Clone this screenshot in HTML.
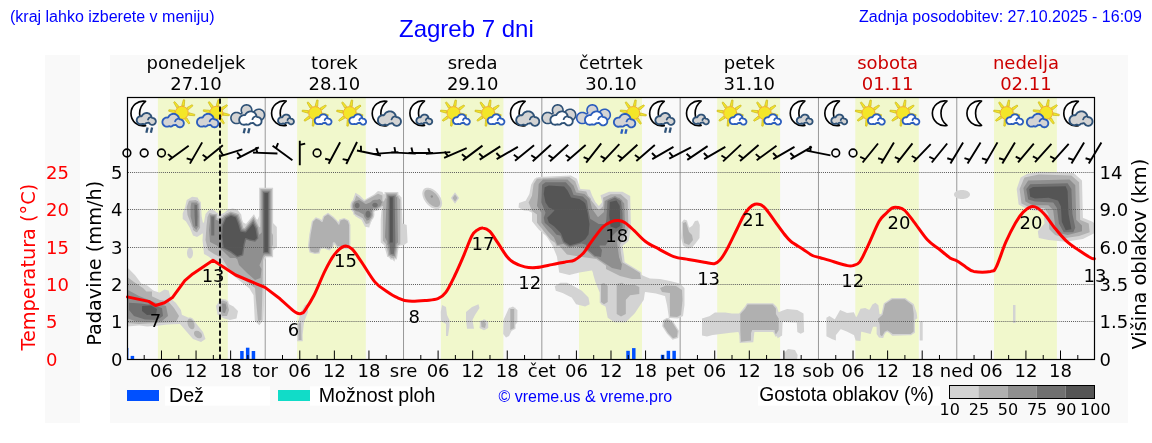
<!DOCTYPE html>
<html><head><meta charset="utf-8"><title>Zagreb 7 dni</title>
<style>
html,body{margin:0;padding:0;background:#fff;}
body{width:1152px;height:443px;overflow:hidden;position:relative;font-family:"Liberation Sans",Arial,sans-serif;}
.hdr{position:absolute;color:#0000ff;white-space:nowrap;margin:0;line-height:1;}
svg{position:absolute;left:0;top:0;will-change:transform;}
.hdr{will-change:transform;}
.dj{font-family:"DejaVu Sans",sans-serif;}
.lib{font-family:"Liberation Sans",Arial,sans-serif;}
</style></head><body>
<svg width="1152" height="443" viewBox="0 0 1152 443">
<rect x="45" y="55" width="35" height="368" fill="#f9f9f9"/>
<rect x="110" y="55" width="1018" height="368" fill="#f9f9f9"/>
<rect x="157.9" y="97.5" width="69.9" height="262.0" fill="#f1f8cc"/>
<rect x="297.1" y="97.5" width="68.7" height="262.0" fill="#f1f8cc"/>
<rect x="440.9" y="97.5" width="62.5" height="262.0" fill="#f1f8cc"/>
<rect x="579.0" y="97.5" width="63.0" height="262.0" fill="#f1f8cc"/>
<rect x="717.2" y="97.5" width="62.9" height="262.0" fill="#f1f8cc"/>
<rect x="855.3" y="97.5" width="63.5" height="262.0" fill="#f1f8cc"/>
<rect x="994.0" y="97.5" width="62.9" height="262.0" fill="#f1f8cc"/>
<line x1="265.21" y1="97.5" x2="265.21" y2="359.5" stroke="#999" stroke-width="1"/>
<line x1="403.52" y1="97.5" x2="403.52" y2="359.5" stroke="#999" stroke-width="1"/>
<line x1="541.84" y1="97.5" x2="541.84" y2="359.5" stroke="#999" stroke-width="1"/>
<line x1="680.15" y1="97.5" x2="680.15" y2="359.5" stroke="#999" stroke-width="1"/>
<line x1="818.46" y1="97.5" x2="818.46" y2="359.5" stroke="#999" stroke-width="1"/>
<line x1="956.77" y1="97.5" x2="956.77" y2="359.5" stroke="#999" stroke-width="1"/>
<path d="M1016.7,189.0 1018.6,204.4 1018.6,204.4 1018.6,204.4 1027.3,209.2 1027.3,209.2 1027.3,209.2 1043.1,212.0 1043.2,212.0 1043.3,212.1 1043.3,212.1 1043.4,212.1 1043.4,212.1 1043.5,212.2 1043.5,212.2 1043.5,212.3 1043.6,212.3 1043.6,212.4 1043.6,212.4 1043.6,212.5 1043.6,212.6 1044.5,223.3 1044.5,223.4 1044.5,223.5 1044.5,223.5 1044.5,223.6 1044.4,223.6 1044.4,223.7 1044.4,223.7 1044.3,223.8 1037.8,231.3 1037.8,231.3 1037.8,231.3 1038.8,238.0 1038.8,238.0 1038.8,238.0 1048.4,239.9 1048.4,239.9 1065.7,241.8 1065.7,241.8 1065.7,241.8 1082.9,238.9 1082.9,238.9 1082.9,238.9 1094.3,233.3 1094.3,233.3 1094.3,233.3 1094.3,223.4 1094.3,223.4 1094.3,223.3 1092.5,221.7 1092.5,221.7 1092.5,221.7 1083.3,217.9 1083.2,217.9 1083.2,217.9 1083.1,217.9 1083.1,217.8 1083.0,217.8 1083.0,217.7 1083.0,217.7 1082.9,217.6 1082.9,217.6 1082.9,217.5 1082.9,217.5 1082.9,217.4 1082.0,180.4 1082.0,180.4 1082.0,180.4 1073.3,172.7 1073.3,172.7 1073.3,172.7 1038.8,171.8 1038.8,171.8 1038.8,171.8 1027.3,173.7 1027.3,173.7 1027.3,173.7 1020.6,177.5 1020.6,177.5 1020.6,177.5 1016.7,189.0 1016.7,189.0ZM1013.0,305.0 1013.0,323.0 1013.0,323.0 1013.0,323.0 1015.5,323.0 1015.5,323.0 1015.5,323.0 1015.5,305.0 1015.5,305.0 1015.5,305.0 1013.0,305.0 1013.0,305.0ZM968.0,191.5 967.7,191.3 967.6,191.3 967.3,191.1 967.3,191.1 966.9,190.9 966.9,190.9 966.5,190.8 966.4,190.8 966.0,190.6 966.0,190.6 965.5,190.5 965.5,190.5 965.1,190.3 965.1,190.3 964.6,190.2 964.6,190.2 964.1,190.2 964.1,190.2 963.6,190.1 963.6,190.1 963.0,190.0 963.0,190.0 962.5,190.0 962.5,190.0 962.0,190.0 962.0,190.0 961.5,190.0 961.5,190.0 961.0,190.0 961.0,190.0 960.4,190.1 960.4,190.1 959.9,190.2 959.9,190.2 959.4,190.2 959.4,190.2 958.9,190.3 958.9,190.3 958.5,190.5 958.5,190.5 958.0,190.6 958.0,190.6 957.6,190.8 957.5,190.8 957.1,190.9 957.1,190.9 956.7,191.1 956.7,191.1 956.4,191.3 956.3,191.3 956.0,191.5 956.0,191.5 955.7,191.8 955.6,191.8 955.4,192.0 955.3,192.0 955.1,192.2 955.1,192.3 954.8,192.5 954.8,192.5 954.6,192.8 954.6,192.8 954.4,193.0 954.4,193.1 954.3,193.3 954.3,193.3 954.2,193.6 954.1,193.6 954.1,193.9 954.1,193.9 954.0,194.2 954.0,194.2 954.0,194.5 954.0,194.5 954.0,194.8 954.0,194.8 954.1,195.1 954.1,195.1 954.1,195.4 954.2,195.4 954.3,195.7 954.3,195.7 954.4,195.9 954.4,196.0 954.6,196.2 954.6,196.2 954.8,196.5 954.8,196.5 955.1,196.7 955.1,196.8 955.3,197.0 955.4,197.0 955.6,197.2 955.7,197.2 956.0,197.5 956.0,197.5 956.3,197.7 956.4,197.7 956.7,197.9 956.7,197.9 957.1,198.1 957.1,198.1 957.5,198.2 957.6,198.2 958.0,198.4 958.0,198.4 958.5,198.5 958.5,198.5 958.9,198.7 958.9,198.7 959.4,198.8 959.4,198.8 959.9,198.8 959.9,198.8 960.4,198.9 960.4,198.9 961.0,199.0 961.0,199.0 961.5,199.0 961.5,199.0 962.0,199.0 962.0,199.0 962.5,199.0 962.5,199.0 963.0,199.0 963.0,199.0 963.6,198.9 963.6,198.9 964.1,198.8 964.1,198.8 964.6,198.8 964.6,198.8 965.1,198.7 965.1,198.7 965.5,198.5 965.5,198.5 966.0,198.4 966.0,198.4 966.4,198.2 966.5,198.2 966.9,198.1 966.9,198.1 967.3,197.9 967.3,197.9 967.6,197.7 967.7,197.7 968.0,197.5 968.0,197.5 968.3,197.2 968.4,197.2 968.6,197.0 968.7,197.0 968.9,196.8 968.9,196.7 969.2,196.5 969.2,196.5 969.4,196.2 969.4,196.2 969.6,196.0 969.6,195.9 969.7,195.7 969.7,195.7 969.8,195.4 969.9,195.4 969.9,195.1 969.9,195.1 970.0,194.8 970.0,194.8 970.0,194.5 970.0,194.5 970.0,194.2 970.0,194.2 969.9,193.9 969.9,193.9 969.9,193.6 969.8,193.6 969.7,193.3 969.7,193.3 969.6,193.1 969.6,193.0 969.4,192.8 969.4,192.8 969.2,192.5 969.2,192.5 968.9,192.3 968.9,192.2 968.7,192.0 968.6,192.0 968.4,191.8 968.3,191.8 968.0,191.5ZM919.7,321.3 919.7,340.4 919.7,340.4 919.7,340.4 922.7,340.4 922.7,340.4 922.7,340.4 922.7,321.3 922.7,321.3 922.7,321.3 919.7,321.3 919.7,321.3ZM826.4,336.2 832.4,339.2 832.4,339.2 835.9,340.4 835.9,340.4 835.9,340.4 835.9,335.3 835.9,335.3 835.9,335.2 835.9,335.1 835.9,335.1 836.0,335.0 836.0,335.0 836.0,334.9 840.4,329.4 840.5,329.4 840.5,329.4 840.6,329.3 840.6,329.3 840.7,329.3 840.7,329.3 840.8,329.2 840.8,329.2 840.9,329.2 840.9,329.2 841.0,329.2 841.1,329.2 841.1,329.3 846.7,331.5 846.7,331.5 853.7,335.0 853.7,335.0 853.8,335.1 853.8,335.1 853.9,335.1 853.9,335.2 853.9,335.2 854.0,335.3 854.0,335.3 855.7,340.4 855.7,340.4 855.7,340.4 860.5,341.0 860.5,341.0 860.5,341.0 861.1,332.2 861.1,332.2 861.1,332.1 861.1,332.1 861.1,332.0 861.1,331.9 861.2,331.9 861.2,331.9 861.3,331.8 861.3,331.8 861.3,331.7 861.4,331.7 861.5,331.7 861.5,331.7 861.6,331.7 861.6,331.7 861.7,331.7 861.7,331.7 861.8,331.7 865.8,332.7 870.6,333.9 870.6,333.9 870.6,333.9 872.9,327.1 872.9,327.1 872.9,327.0 872.9,327.0 873.0,326.9 873.0,326.9 873.1,326.8 873.1,326.8 873.2,326.8 873.2,326.7 873.3,326.7 873.3,326.7 873.4,326.7 873.4,326.7 876.0,326.7 876.1,326.7 876.1,326.7 876.2,326.7 876.2,326.7 876.3,326.8 876.3,326.8 876.4,326.8 876.4,326.9 876.5,326.9 876.5,327.0 876.5,327.0 876.6,327.1 876.6,327.1 876.6,327.2 876.6,327.2 876.6,327.3 876.6,333.9 876.6,333.9 876.6,333.9 879.0,337.5 879.0,337.5 879.0,337.5 882.0,337.9 882.0,337.9 882.1,338.0 882.1,338.0 882.2,338.0 882.2,338.0 882.4,338.1 882.4,338.1 882.4,338.1 882.4,338.1 882.5,338.1 882.6,338.1 882.6,338.0 882.7,338.0 882.7,338.0 882.8,338.0 883.2,338.1 883.2,338.1 883.2,338.1 884.1,335.5 884.1,335.4 884.1,335.3 885.8,332.6 885.9,332.6 885.9,332.6 885.9,332.5 886.0,332.5 886.0,332.5 886.1,332.4 887.0,332.0 887.0,331.9 887.1,331.9 887.2,331.9 887.2,331.9 887.3,331.9 887.3,331.9 887.4,331.9 887.4,331.9 887.5,331.9 887.5,332.0 887.6,332.0 889.1,333.0 889.2,333.0 892.2,335.7 892.2,335.7 892.2,335.7 908.1,335.2 908.1,335.2 911.1,335.2 911.2,335.2 911.2,335.2 911.2,335.2 911.3,335.1 911.3,335.1 911.3,335.1 911.3,335.1 914.9,332.7 914.9,332.7 914.9,332.7 914.9,332.5 914.9,332.5 914.9,332.4 914.9,332.4 914.9,332.3 914.9,332.3 914.9,332.2 915.0,332.2 915.0,332.1 915.0,332.1 915.0,332.1 915.0,320.2 915.0,320.1 915.0,320.0 915.0,320.0 915.0,319.9 915.1,319.9 915.1,319.8 915.1,319.8 915.2,319.7 915.2,319.7 915.3,319.7 917.3,318.3 917.3,318.3 917.3,318.3 916.7,312.9 916.7,312.9 916.7,312.9 913.7,304.0 913.7,304.0 913.7,304.0 907.4,299.7 907.4,299.6 905.2,297.9 905.1,297.9 905.1,297.9 891.8,297.9 891.8,297.9 891.8,297.9 890.0,299.1 889.9,299.2 889.9,299.2 889.8,299.2 889.8,299.2 889.8,299.2 889.7,299.3 889.6,299.3 889.6,299.4 883.9,303.2 883.8,303.2 883.8,303.2 883.5,304.8 883.5,304.8 883.5,304.9 883.4,305.0 883.4,305.0 883.4,305.1 883.3,305.1 883.2,305.2 883.2,305.2 883.2,305.2 883.1,306.5 883.1,306.6 881.6,313.3 881.6,313.4 881.5,313.4 881.5,313.5 881.5,313.5 881.4,313.6 881.4,313.6 881.4,313.6 881.3,313.7 880.4,314.2 880.3,314.3 880.3,314.3 880.2,314.3 880.2,314.3 880.1,314.3 880.0,314.3 880.0,314.3 879.9,314.3 879.9,314.3 879.8,314.3 879.8,314.2 879.7,314.2 879.7,314.2 879.6,314.1 879.6,314.1 879.6,314.0 879.5,314.0 879.5,313.9 879.5,313.8 879.5,313.8 878.4,305.2 878.4,305.2 878.4,305.2 875.4,302.8 875.4,302.8 875.4,302.8 872.4,304.6 872.4,304.6 872.4,304.6 869.7,309.4 869.6,309.5 869.6,309.5 869.6,309.6 869.5,309.6 869.5,309.6 869.4,309.7 869.4,309.7 869.3,309.7 869.2,309.7 869.2,309.7 869.1,309.7 869.1,309.7 869.0,309.7 869.0,309.7 868.9,309.7 865.2,308.1 865.2,308.1 865.2,308.1 860.5,308.7 860.5,308.7 860.5,308.7 856.9,316.5 856.8,316.6 856.8,316.6 856.8,316.7 856.7,316.7 856.7,316.7 856.6,316.8 856.6,316.8 856.5,316.8 856.5,316.8 856.4,316.8 856.3,316.9 856.3,316.9 856.2,316.8 856.2,316.8 856.1,316.8 856.0,316.8 856.0,316.8 855.9,316.7 855.9,316.7 855.9,316.6 855.8,316.6 855.8,316.5 855.8,316.5 853.9,312.3 853.9,312.3 853.9,312.3 846.9,312.9 846.8,312.9 846.7,312.9 846.7,312.9 846.6,312.9 846.6,312.8 840.1,309.9 840.1,309.9 840.1,309.9 835.0,318.9 835.0,319.0 835.0,319.0 834.9,319.1 834.9,319.1 834.8,319.1 834.8,319.2 834.7,319.2 834.7,319.2 834.6,319.2 834.5,319.2 834.5,319.2 834.4,319.2 834.4,319.2 834.3,319.2 834.3,319.2 834.2,319.2 834.2,319.1 829.4,315.9 829.4,315.9 829.4,315.9 826.4,317.7 826.4,317.7 826.4,317.7 826.4,336.2 826.4,336.2ZM702.0,335.5 707.0,336.6 707.0,336.6 707.0,336.6 712.7,334.9 712.7,334.9 712.8,334.9 730.7,332.7 730.7,332.7 738.1,332.1 738.1,332.1 738.2,332.1 738.2,332.2 738.3,332.2 738.4,332.2 738.4,332.2 738.5,332.2 738.5,332.3 738.5,332.3 738.6,332.4 738.6,332.4 738.7,332.5 738.7,332.5 738.7,332.6 738.7,332.6 739.3,335.2 739.3,335.2 739.3,335.3 739.7,343.1 739.7,343.1 739.7,343.1 743.9,342.7 743.9,342.7 753.3,342.3 753.3,342.3 753.3,342.3 754.3,332.6 754.4,332.6 754.4,332.5 754.4,332.5 754.4,332.4 754.4,332.4 754.5,332.3 754.5,332.3 754.6,332.2 754.6,332.2 754.7,332.2 754.7,332.1 754.8,332.1 754.8,332.1 754.9,332.1 754.9,332.1 772.9,332.1 772.9,332.1 773.0,332.1 773.0,332.1 773.1,332.1 773.2,332.2 773.2,332.2 773.3,332.2 773.3,332.3 773.3,332.3 773.4,332.4 773.4,332.4 775.8,337.0 775.8,337.0 775.8,337.0 776.1,336.6 776.1,336.5 776.2,336.5 776.2,336.4 776.2,336.4 776.3,336.4 776.3,336.3 776.4,336.3 776.4,336.3 776.5,336.3 776.6,336.3 776.6,336.3 776.7,336.3 776.7,336.3 776.8,336.3 776.8,336.3 776.9,336.4 776.9,336.4 777.0,336.4 777.0,336.5 777.1,336.5 777.1,336.6 777.1,336.6 777.2,336.7 777.2,336.7 777.6,338.3 777.6,338.3 777.6,338.3 782.1,335.5 782.1,335.5 782.1,335.5 782.6,322.6 782.6,322.5 782.6,322.5 782.6,322.4 782.6,322.4 782.7,322.3 782.7,322.3 782.7,322.2 782.8,322.2 782.8,322.1 782.9,322.1 782.9,322.1 783.0,322.1 783.0,322.0 783.1,322.0 783.1,322.0 783.2,322.0 796.3,322.5 796.3,322.5 796.4,322.5 796.4,322.5 796.5,322.5 796.5,322.6 796.6,322.6 796.6,322.6 796.7,322.7 796.7,322.7 796.7,322.8 796.8,322.8 796.8,322.9 796.8,322.9 796.8,323.0 796.8,323.0 797.3,332.1 797.3,332.1 797.3,332.1 800.7,333.8 800.7,333.8 800.7,333.8 804.1,332.1 804.1,332.1 804.1,332.1 803.5,313.5 803.5,313.5 803.5,313.5 797.3,310.1 797.3,310.1 797.3,310.1 787.2,309.0 787.2,309.0 787.2,309.0 782.1,310.7 782.1,310.7 779.3,312.1 779.3,312.1 779.2,312.1 779.1,312.1 779.1,312.2 779.0,312.2 779.0,312.1 778.9,312.1 778.8,312.1 778.8,312.1 778.7,312.1 778.7,312.0 778.6,312.0 778.6,312.0 778.6,311.9 778.5,311.9 778.5,311.8 778.5,311.7 777.0,307.3 777.0,307.3 777.0,307.3 773.9,304.1 773.8,304.0 773.1,303.2 773.1,303.2 773.1,303.2 747.0,303.2 747.0,303.2 747.0,303.2 745.1,306.3 745.1,306.4 745.0,306.4 744.3,307.3 744.3,307.3 740.4,312.0 740.4,312.0 739.3,313.3 739.2,313.3 739.2,313.4 739.1,313.4 739.1,313.4 739.0,313.5 739.0,313.5 738.9,313.5 738.9,313.5 738.8,313.5 731.9,313.5 731.9,313.5 731.9,313.5 725.1,312.4 725.1,312.4 725.1,312.4 714.9,312.4 714.9,312.4 714.9,312.4 709.4,316.2 709.3,316.3 709.3,316.3 709.2,316.3 702.0,318.6 702.0,318.6 702.0,318.6 702.0,335.5 702.0,335.5ZM784.0,359.0 797.1,359.0 797.1,359.0 797.1,359.0 797.6,355.0 797.6,355.0 797.6,355.0 795.0,350.0 795.0,350.0 795.0,350.0 788.0,349.0 788.0,349.0 788.0,349.0 784.0,353.0 784.0,353.0 784.0,353.0 784.0,359.0 784.0,359.0ZM681.2,238.0 683.0,245.5 683.0,245.5 683.0,245.5 688.0,248.5 688.0,248.5 688.0,248.5 692.0,247.5 692.0,247.5 692.0,247.5 695.5,243.5 695.5,243.5 699.5,238.0 699.5,238.0 699.5,238.0 699.8,225.0 699.8,225.0 699.8,225.0 698.0,220.5 698.0,220.5 698.0,220.5 695.0,221.0 695.0,221.0 695.0,221.0 692.1,225.9 692.0,225.9 692.0,226.0 692.0,226.0 691.9,226.0 691.9,226.1 689.8,227.5 689.8,227.5 689.7,227.5 689.6,227.5 689.6,227.6 689.5,227.6 689.5,227.6 689.4,227.6 689.4,227.6 689.3,227.5 689.2,227.5 689.2,227.5 689.1,227.5 689.1,227.4 689.0,227.4 689.0,227.3 689.0,227.3 688.9,227.2 688.9,227.2 688.9,227.1 687.7,223.3 687.7,223.3 687.0,220.5 687.0,220.5 687.0,220.5 687.0,220.5 686.9,220.4 686.9,220.4 686.9,220.3 686.9,220.3 686.9,220.3 686.8,220.4 686.7,220.4 686.7,220.4 686.6,220.4 686.6,220.4 686.5,220.3 684.0,219.5 684.0,219.5 684.0,219.5 682.2,221.8 682.1,221.9 682.1,221.9 682.0,221.9 682.0,222.0 681.9,222.0 681.9,222.0 681.7,222.1 681.7,222.1 681.7,222.1 681.7,228.0 681.7,228.0 681.2,238.0 681.2,238.0ZM518.5,207.5 520.0,208.3 520.0,208.3 520.1,208.4 520.1,208.4 520.1,208.4 520.1,208.4 520.1,208.4 520.2,208.4 520.2,208.4 520.3,208.5 524.0,210.5 524.0,210.5 524.0,210.5 528.0,210.7 528.1,210.7 528.1,210.7 528.2,210.8 528.2,210.8 531.7,212.5 531.7,212.6 531.8,212.6 531.8,212.6 531.9,212.7 531.9,212.7 531.9,212.8 532.0,212.8 532.0,212.9 532.0,212.9 532.0,213.0 532.0,213.1 532.0,221.2 532.0,221.2 532.0,221.2 538.7,229.6 538.7,229.6 538.7,229.6 546.1,236.1 546.1,236.2 546.2,236.2 546.9,237.1 546.9,237.1 552.4,245.5 552.4,245.5 552.4,245.6 557.0,256.7 557.0,256.8 557.0,256.8 557.0,256.9 559.2,272.6 559.2,272.6 559.2,272.6 569.3,274.9 569.3,274.9 569.3,274.9 579.5,272.6 579.5,272.6 591.5,270.5 591.6,270.5 591.6,270.5 591.7,270.5 591.8,270.5 591.8,270.5 591.9,270.5 591.9,270.6 592.0,270.6 592.0,270.6 592.1,270.7 592.1,270.7 592.1,270.8 592.2,270.8 592.2,270.9 593.1,273.2 593.1,273.3 593.1,273.3 593.1,273.4 593.1,273.4 593.1,273.5 593.1,273.5 593.1,273.6 593.1,273.7 593.1,273.7 593.0,273.8 593.0,273.8 593.0,273.8 593.0,273.8 595.3,281.7 595.3,281.7 599.7,292.6 599.7,292.7 599.7,292.8 599.7,292.8 599.7,292.9 599.7,302.6 599.7,302.7 599.7,302.7 600.7,303.4 600.8,303.4 600.8,303.5 600.8,303.5 600.9,303.6 600.9,303.6 600.9,303.7 601.0,303.8 601.0,303.8 601.0,304.2 601.0,304.2 601.0,304.2 603.6,305.5 603.6,305.6 603.7,305.6 603.9,305.7 603.9,305.8 603.9,305.8 604.0,305.8 604.0,305.8 604.1,305.8 604.1,305.8 604.2,305.8 605.2,306.4 605.3,306.4 605.3,306.4 605.4,306.5 605.4,306.5 605.5,306.6 605.5,306.6 605.5,306.7 605.5,306.7 605.6,306.8 607.7,317.8 607.7,317.8 607.7,317.8 614.5,322.3 614.5,322.3 614.5,322.3 625.8,322.3 625.8,322.3 625.8,322.3 634.8,313.3 634.8,313.3 634.8,313.3 643.8,299.7 643.8,299.7 643.8,299.7 644.9,292.6 644.9,292.5 644.9,292.5 645.0,292.4 645.0,292.4 645.0,292.3 645.1,292.3 645.1,292.2 645.1,292.2 645.2,292.2 645.2,292.1 645.3,292.1 645.4,292.1 645.4,292.1 645.5,292.1 645.5,292.1 645.6,292.1 656.0,293.5 656.0,293.5 664.7,295.9 664.7,295.9 664.8,295.9 664.8,296.0 664.9,296.0 664.9,296.0 664.9,296.1 665.0,296.1 665.0,296.2 665.0,296.2 665.1,296.3 665.1,296.4 667.0,305.0 667.0,305.0 668.7,316.0 668.7,316.1 668.7,317.6 668.7,317.7 668.7,317.8 668.7,317.8 668.7,317.9 668.6,317.9 668.6,318.0 668.6,318.0 668.5,318.1 668.5,318.1 668.4,318.1 668.4,318.2 668.3,318.2 668.3,318.2 668.2,318.2 668.2,318.2 668.1,318.2 668.0,318.2 668.0,318.2 667.9,318.2 667.9,318.2 667.8,318.2 667.0,317.7 667.0,317.7 667.0,317.7 662.8,320.2 662.8,320.2 662.8,320.2 662.2,326.3 662.2,326.3 662.2,326.3 667.0,333.8 667.0,333.8 667.0,333.8 672.6,339.7 672.6,339.7 672.6,339.7 678.2,338.0 678.2,338.0 678.2,338.0 679.0,330.7 679.0,330.7 679.0,330.7 672.9,321.0 672.9,321.0 672.9,321.0 669.6,319.2 669.6,319.1 669.5,319.1 669.5,319.1 669.4,319.0 669.4,319.0 669.4,318.9 669.3,318.9 669.3,318.8 669.3,318.7 669.3,318.7 669.3,318.6 669.3,318.6 669.3,318.5 669.3,318.5 669.4,318.4 669.4,318.3 669.4,318.3 669.5,318.3 669.5,318.2 669.6,318.2 669.6,318.1 669.7,318.1 669.7,318.1 669.8,318.1 669.8,318.1 669.9,318.1 669.9,318.1 678.0,318.5 678.0,318.5 678.0,318.5 683.0,316.0 683.0,316.0 683.0,316.0 684.5,305.0 684.5,305.0 684.5,288.0 684.5,288.0 684.5,288.0 680.0,283.5 680.0,283.5 680.0,283.5 670.0,281.0 670.0,281.0 660.0,279.0 660.0,279.0 660.0,279.0 650.1,278.5 650.0,278.5 650.0,278.5 649.9,278.5 643.8,276.0 643.8,276.0 641.9,275.1 641.9,275.0 641.8,275.0 641.8,275.0 641.7,274.9 641.7,274.9 641.7,274.8 641.6,274.8 641.6,274.7 641.6,274.7 641.6,274.6 641.2,272.2 641.2,272.2 641.2,272.2 632.7,266.9 632.7,266.9 624.9,262.2 624.9,262.2 624.8,262.2 624.8,262.1 624.8,262.1 624.7,262.0 624.7,262.0 624.7,261.9 624.7,261.9 624.6,261.8 624.0,256.0 624.0,256.0 622.5,246.3 622.5,246.3 622.5,246.2 622.6,246.1 622.6,246.1 622.6,246.0 622.6,246.0 622.6,245.9 622.7,245.9 622.7,245.8 622.8,245.8 628.5,240.9 628.5,240.9 628.5,240.9 631.0,229.1 631.0,229.1 631.0,229.1 630.2,196.0 630.2,196.0 630.2,196.0 622.5,191.8 622.5,191.8 622.5,191.8 609.0,191.8 609.0,191.8 609.0,191.8 600.5,195.2 600.5,195.2 600.5,195.2 602.0,201.4 602.1,201.4 602.1,201.5 602.1,201.6 602.0,202.0 602.0,202.1 602.0,202.2 602.0,202.2 602.0,202.3 601.9,202.3 601.9,202.4 599.3,205.6 599.2,205.7 599.2,205.7 599.1,205.7 599.1,205.8 599.0,205.8 599.0,205.8 598.9,205.8 598.9,205.8 598.8,205.8 598.7,205.8 598.7,205.8 598.6,205.8 598.6,205.8 598.5,205.8 598.5,205.7 598.4,205.7 598.4,205.7 598.3,205.6 595.4,202.1 595.4,202.0 595.4,201.9 592.0,195.2 592.0,195.2 590.0,189.8 590.0,189.8 590.0,189.8 580.7,189.0 580.6,189.0 580.6,189.0 580.5,189.0 580.5,189.0 580.4,188.9 580.4,188.9 580.3,188.9 580.3,188.8 580.3,188.8 580.2,188.7 580.2,188.7 580.2,188.6 576.9,178.8 576.9,178.8 576.9,178.8 570.9,175.4 570.9,175.4 570.9,175.4 538.7,177.1 538.7,177.1 538.7,177.1 537.9,177.4 537.9,177.4 537.8,177.5 537.7,177.5 536.3,177.5 536.3,177.5 536.3,177.5 535.9,178.1 535.9,178.2 535.8,178.2 535.8,178.3 535.7,178.3 535.7,178.3 535.6,178.3 534.5,178.8 534.5,178.8 534.5,178.8 531.1,184.7 531.1,184.7 531.1,184.7 529.4,193.9 529.4,194.0 529.4,194.0 529.4,194.1 525.8,200.6 525.8,200.6 525.8,200.6 525.7,200.7 525.7,200.7 525.6,200.8 525.6,200.8 525.5,200.8 525.5,200.8 519.0,203.0 519.0,203.0 519.0,203.0 518.5,207.5 518.5,207.5ZM554.7,286.2 555.8,290.7 555.8,290.7 555.8,290.7 562.6,293.0 562.6,293.0 571.5,297.4 571.5,297.5 571.6,297.5 571.6,297.5 571.7,297.6 571.7,297.6 576.1,304.2 576.1,304.2 576.1,304.2 585.1,306.5 585.1,306.5 585.1,306.5 589.7,304.2 589.7,304.2 589.7,304.2 588.5,297.5 588.5,297.5 588.5,297.5 581.8,290.7 581.8,290.7 581.8,290.7 573.9,286.2 573.9,286.2 567.1,282.8 567.1,282.8 567.1,282.8 560.3,282.8 560.3,282.8 560.3,282.8 554.7,286.2 554.7,286.2ZM503.2,334.0 506.0,337.4 506.0,337.4 506.0,337.4 509.0,336.0 509.0,336.0 509.0,336.0 511.5,331.0 511.5,330.9 511.6,330.9 511.6,330.8 511.7,330.8 511.7,330.7 511.8,330.7 515.5,328.8 515.5,328.8 515.5,328.8 515.5,325.0 515.5,324.9 515.5,324.9 515.5,324.8 515.5,324.8 515.6,324.7 515.6,324.7 517.4,322.0 517.4,322.0 517.4,322.0 517.4,310.0 517.4,310.0 517.4,310.0 515.7,308.7 515.7,308.7 515.6,308.6 515.6,308.6 515.6,308.5 515.5,308.5 515.5,308.4 515.5,308.4 515.5,308.3 515.5,308.2 515.5,307.7 515.5,307.7 515.5,307.7 514.6,307.7 514.6,307.7 514.5,307.7 514.5,307.7 514.4,307.7 514.4,307.6 514.3,307.6 514.3,307.6 513.0,306.6 513.0,306.6 513.0,306.6 510.0,307.7 509.9,307.7 509.8,307.7 509.8,307.7 509.0,307.7 509.0,307.7 509.0,307.7 509.0,307.9 509.0,307.9 509.0,308.0 509.0,308.1 508.9,308.1 503.5,320.0 503.5,320.0 503.5,320.0 503.2,334.0 503.2,334.0ZM479.5,328.0 484.0,330.3 484.0,330.3 484.0,330.3 485.3,329.6 485.3,329.6 485.4,329.6 485.4,329.5 485.5,329.5 485.5,329.5 485.6,329.5 485.7,329.5 485.7,329.6 485.9,329.6 485.9,329.6 485.9,329.6 486.0,329.4 486.0,329.4 486.0,329.3 486.1,329.3 486.1,329.2 486.1,329.2 486.2,329.1 486.2,329.1 486.3,329.1 488.2,328.0 488.2,328.0 488.2,328.0 488.2,322.0 488.2,322.0 488.2,322.0 485.7,320.3 485.7,320.3 485.6,320.3 485.6,320.2 485.5,320.2 485.5,320.1 485.2,319.5 485.2,319.5 485.2,319.5 484.9,319.5 484.8,319.6 484.8,319.6 484.7,319.6 484.7,319.6 484.6,319.5 484.5,319.5 484.5,319.5 484.4,319.5 484.4,319.5 484.0,319.2 484.0,319.2 484.0,319.2 482.7,320.1 482.6,320.2 482.5,320.2 482.5,320.2 479.6,321.0 479.6,321.0 479.6,321.1 479.9,323.6 479.9,323.7 479.9,323.7 479.5,328.0 479.5,328.0ZM466.0,312.0 466.0,320.0 466.0,320.0 467.0,328.7 467.0,328.7 467.0,328.7 474.0,328.7 474.0,328.7 474.0,328.7 472.5,320.2 472.5,320.1 472.5,320.1 472.5,320.0 472.5,319.9 472.6,319.9 472.6,319.8 475.0,315.0 475.0,315.0 479.5,308.0 479.5,308.0 479.5,308.0 478.5,304.2 478.5,304.2 478.5,304.2 472.0,307.0 472.0,307.0 472.0,307.0 466.0,312.0 466.0,312.0ZM450.9,198.0 455.0,203.7 455.0,203.7 455.0,203.7 459.1,198.0 459.1,198.0 459.1,198.0 455.0,192.3 455.0,192.3 455.0,192.3 450.9,198.0 450.9,198.0ZM440.8,312.0 440.8,312.0 441.0,321.0 441.0,321.0 441.0,321.0 445.7,323.8 445.8,323.9 445.8,323.9 445.9,323.9 445.9,324.0 445.9,324.0 445.9,324.1 446.0,324.2 446.0,324.2 446.0,324.3 446.0,324.3 446.0,336.0 446.0,336.0 446.0,336.0 448.0,336.0 448.0,336.0 448.0,336.0 449.5,326.0 449.5,326.0 449.5,326.0 449.5,320.0 449.5,320.0 449.5,320.0 447.0,315.1 447.0,315.0 447.0,315.0 447.0,314.9 446.0,307.0 446.0,307.0 446.0,307.0 442.0,305.0 442.0,305.0 442.0,305.0 440.8,312.0ZM442.1,203.1 442.0,202.4 442.0,202.4 441.9,201.8 441.9,201.8 441.8,201.1 441.8,201.1 441.7,200.4 441.6,200.4 441.4,199.7 441.4,199.7 441.2,199.0 441.2,199.0 440.9,198.3 440.9,198.3 440.6,197.6 440.6,197.6 440.2,196.9 440.2,196.9 439.8,196.2 439.8,196.2 439.4,195.5 439.4,195.5 438.9,194.9 438.9,194.9 438.5,194.2 438.5,194.2 437.9,193.6 437.9,193.6 437.4,193.0 437.4,193.0 436.9,192.4 436.8,192.4 436.3,191.8 436.3,191.8 435.7,191.3 435.7,191.3 435.1,190.8 435.1,190.8 434.4,190.3 434.4,190.3 433.8,189.8 433.8,189.8 433.2,189.4 433.2,189.4 432.5,189.1 432.5,189.1 431.9,188.7 431.9,188.7 431.2,188.5 431.2,188.5 430.6,188.2 430.6,188.2 430.0,188.0 429.9,188.0 429.3,187.9 429.3,187.9 428.7,187.8 428.7,187.8 428.1,187.7 428.1,187.7 427.5,187.7 427.5,187.7 427.0,187.7 427.0,187.7 426.5,187.8 426.4,187.8 425.9,187.9 425.9,187.9 425.5,188.1 425.4,188.1 425.0,188.3 425.0,188.3 424.6,188.5 424.5,188.5 424.2,188.8 424.2,188.8 423.8,189.1 423.8,189.2 423.5,189.5 423.5,189.5 423.2,189.9 423.2,190.0 423.0,190.4 422.9,190.4 422.8,190.9 422.7,190.9 422.6,191.4 422.6,191.4 422.5,191.9 422.5,192.0 422.4,192.5 422.4,192.5 422.3,193.1 422.3,193.1 422.3,193.7 422.3,193.7 422.4,194.4 422.4,194.4 422.5,195.0 422.5,195.0 422.6,195.7 422.6,195.7 422.7,196.4 422.8,196.4 423.0,197.1 423.0,197.1 423.2,197.8 423.2,197.8 423.5,198.5 423.5,198.5 423.8,199.2 423.8,199.2 424.2,199.9 424.2,199.9 424.6,200.6 424.6,200.6 425.0,201.3 425.0,201.3 425.5,201.9 425.5,201.9 425.9,202.6 425.9,202.6 426.5,203.2 426.5,203.2 427.0,203.8 427.0,203.8 427.5,204.4 427.6,204.4 428.1,205.0 428.1,205.0 428.7,205.5 428.7,205.5 429.3,206.0 429.3,206.0 430.0,206.5 430.0,206.5 430.6,207.0 430.6,207.0 431.2,207.4 431.2,207.4 431.9,207.7 431.9,207.7 432.5,208.1 432.5,208.1 433.2,208.3 433.2,208.3 433.8,208.6 433.8,208.6 434.4,208.8 434.5,208.8 435.1,208.9 435.1,208.9 435.7,209.0 435.7,209.0 436.3,209.1 436.3,209.1 436.9,209.1 436.9,209.1 437.4,209.1 437.4,209.1 437.9,209.0 438.0,209.0 438.5,208.9 438.5,208.9 438.9,208.7 439.0,208.7 439.4,208.5 439.4,208.5 439.8,208.3 439.9,208.3 440.2,208.0 440.2,208.0 440.6,207.7 440.6,207.6 440.9,207.3 440.9,207.3 441.2,206.9 441.2,206.8 441.4,206.4 441.5,206.4 441.6,205.9 441.7,205.9 441.8,205.4 441.8,205.4 441.9,204.9 441.9,204.8 442.0,204.3 442.0,204.3 442.1,203.7 442.1,203.7 442.1,203.1ZM353.4,214.5 354.8,215.3 354.8,215.3 354.9,215.4 354.9,215.4 355.0,215.4 355.0,215.5 355.0,215.6 355.4,216.3 355.4,216.3 355.4,216.3 361.3,219.7 361.4,219.7 361.4,219.8 361.5,219.8 361.5,219.9 361.6,219.9 361.6,220.0 365.0,226.7 365.0,226.7 365.0,226.7 369.3,227.6 369.3,227.6 369.3,227.6 369.9,224.8 370.0,224.8 370.0,224.7 370.0,224.7 370.0,224.6 370.1,224.6 370.1,224.5 370.2,224.5 370.2,224.5 370.3,224.4 370.3,224.4 370.4,224.4 370.4,224.4 370.4,224.4 370.9,222.3 370.9,222.2 370.9,222.2 371.0,222.1 371.0,222.1 371.0,222.0 371.1,222.0 371.1,221.9 371.2,221.9 371.2,221.9 371.3,221.9 371.4,221.8 371.4,221.8 371.4,221.8 371.9,220.2 371.9,220.2 371.9,220.1 372.0,220.1 372.0,220.0 372.1,220.0 372.1,220.0 372.4,219.6 372.4,219.6 372.7,219.3 372.7,219.3 372.9,219.0 372.9,218.9 373.2,218.6 373.2,218.6 373.4,218.2 373.4,218.2 373.6,217.8 373.6,217.8 373.8,217.4 373.8,217.4 373.9,217.1 373.9,217.0 374.0,216.7 374.1,216.6 374.2,216.3 374.2,216.2 374.2,215.8 374.2,215.8 374.3,215.4 374.3,215.4 374.4,215.0 374.4,215.0 374.4,214.6 374.4,214.6 374.4,214.2 374.4,214.2 374.4,213.8 374.4,213.8 374.4,213.4 374.4,213.4 374.3,213.0 374.3,213.0 374.3,212.7 374.3,212.7 374.3,212.6 374.3,212.6 374.3,212.5 374.3,212.5 374.6,211.5 374.6,211.5 374.6,211.4 374.7,211.4 374.7,211.3 374.7,211.3 374.8,211.2 374.8,211.2 374.9,211.2 374.9,211.1 375.0,211.1 375.0,211.1 375.1,211.1 375.1,211.1 375.4,211.1 375.4,211.1 375.8,211.1 375.8,211.1 376.1,211.0 376.2,211.0 376.5,210.9 376.5,210.9 376.9,210.8 376.9,210.8 377.3,210.7 377.3,210.7 377.6,210.6 377.7,210.6 378.0,210.4 378.0,210.4 378.4,210.3 378.4,210.3 378.7,210.1 378.7,210.0 379.0,209.8 379.1,209.8 379.4,209.6 379.4,209.6 379.7,209.3 379.7,209.3 379.8,209.2 379.8,209.2 379.9,209.2 379.9,209.1 380.0,209.1 380.1,209.0 380.2,209.0 380.6,208.8 380.6,208.8 380.6,208.8 380.6,208.8 380.7,208.8 380.8,208.7 380.8,208.7 380.9,208.7 380.9,208.7 381.0,208.7 381.0,208.7 381.1,208.8 381.2,208.8 381.2,208.8 381.3,208.8 381.3,208.9 381.3,208.9 381.4,209.0 381.4,209.0 381.4,209.1 381.5,209.1 381.5,209.2 381.5,209.2 381.5,209.3 381.5,209.4 380.7,219.8 380.7,219.8 380.7,242.4 380.7,242.4 380.7,242.4 383.9,244.9 384.0,244.9 384.0,245.0 384.1,245.0 384.1,245.0 384.1,245.1 384.1,245.1 384.2,245.2 384.7,247.1 384.7,247.2 384.7,247.2 384.7,247.3 384.7,247.6 384.7,247.6 384.7,247.6 384.7,247.6 384.8,247.7 384.8,247.7 384.8,247.8 384.9,247.8 384.9,247.9 386.7,254.6 386.7,254.6 386.7,254.6 386.7,254.6 386.8,254.7 386.8,254.8 386.8,254.8 386.8,254.9 387.0,256.7 387.0,256.7 387.0,256.7 388.8,257.2 388.9,257.3 388.9,257.3 389.0,257.3 389.0,257.3 389.1,257.4 389.1,257.4 389.2,257.6 389.2,257.6 390.5,259.5 390.5,259.5 390.5,259.5 390.6,259.5 390.7,259.5 390.7,259.5 390.8,259.5 390.8,259.5 390.9,259.6 390.9,259.6 391.0,259.6 391.0,259.7 391.1,259.8 391.1,259.8 391.1,259.8 391.8,259.5 391.9,259.5 391.9,259.5 392.0,259.5 392.0,259.5 392.1,259.5 392.1,259.5 392.2,259.5 392.3,259.5 392.3,259.5 392.4,259.6 392.4,259.6 392.5,259.6 394.5,261.7 394.5,261.7 394.5,261.7 394.9,259.7 394.9,259.6 394.9,259.6 394.9,259.5 394.9,259.5 395.0,259.4 395.0,259.4 395.1,259.3 395.1,259.3 395.2,259.3 395.2,259.2 395.3,259.2 395.3,259.2 395.4,259.2 395.4,259.2 395.5,259.2 395.6,259.2 395.6,259.2 396.9,259.6 396.9,259.6 396.9,259.6 398.7,246.7 398.8,246.6 398.8,246.6 398.8,246.5 398.8,246.5 398.8,246.4 398.9,246.4 398.9,246.3 399.0,246.3 399.0,246.3 399.1,246.2 400.4,245.5 400.4,245.5 400.5,245.5 400.5,245.5 400.6,245.5 404.1,245.0 404.1,245.0 404.1,245.0 407.6,242.4 407.6,242.4 407.6,242.4 406.7,225.0 406.7,225.0 406.7,225.0 402.8,223.4 402.7,223.4 402.7,223.4 402.6,223.4 402.6,223.3 402.5,223.3 402.5,223.2 402.5,223.2 402.4,223.1 402.4,223.1 402.4,223.0 402.4,223.0 402.4,222.9 401.6,200.1 401.6,200.1 401.6,199.4 401.6,199.4 401.6,199.4 401.6,199.3 401.6,199.3 401.6,199.2 401.5,197.2 401.5,197.2 401.5,197.2 400.0,196.0 399.9,195.9 399.9,195.9 399.9,195.8 399.8,195.8 399.8,195.7 399.8,195.7 399.8,195.6 399.8,195.6 399.8,195.5 399.8,195.3 399.8,195.2 399.8,195.2 398.9,195.0 398.8,195.0 398.8,194.9 398.7,194.9 398.7,194.9 398.6,194.8 398.6,194.8 398.6,194.8 398.5,194.7 398.5,194.7 398.5,194.6 398.5,194.5 398.5,194.5 398.5,194.4 398.4,192.4 398.4,192.4 398.4,192.4 398.4,192.4 398.3,192.4 398.3,192.3 398.2,192.3 398.2,192.3 398.1,192.2 398.1,192.2 398.1,192.1 398.0,192.1 398.0,192.0 398.0,192.0 398.0,192.0 384.7,192.0 384.7,192.0 384.7,192.0 384.7,192.1 384.7,192.1 384.7,192.2 384.6,192.2 384.6,192.3 384.6,192.3 384.5,192.4 384.5,192.4 384.5,192.4 384.6,193.8 384.6,193.8 384.5,193.9 384.5,193.9 384.5,194.0 384.5,194.0 384.5,194.1 384.4,194.1 384.4,194.2 384.3,194.2 384.3,194.3 384.2,194.3 384.2,194.3 384.1,194.3 384.1,194.4 384.0,194.4 383.9,194.4 383.9,194.4 383.8,194.4 383.8,194.3 383.7,194.3 383.7,194.3 383.6,194.3 383.6,194.2 383.5,194.2 383.5,194.1 383.4,194.1 383.4,194.0 382.4,192.0 382.4,192.0 382.4,192.0 378.0,191.1 378.0,191.1 378.0,191.1 374.6,194.1 374.6,194.1 374.5,194.2 365.2,199.4 365.2,199.4 365.2,199.4 364.5,199.7 364.4,199.7 364.4,199.7 364.3,199.7 364.2,199.7 364.2,199.7 364.1,199.7 364.1,199.7 364.0,199.7 364.0,199.6 363.9,199.6 363.9,199.6 363.8,199.5 359.8,195.4 359.8,195.4 359.8,195.4 355.4,192.8 355.4,192.8 355.4,192.8 352.9,199.9 352.8,200.0 352.8,200.1 352.8,200.1 352.7,200.2 352.5,200.4 352.5,200.4 352.2,200.7 352.2,200.8 351.9,201.2 351.9,201.2 351.6,201.6 351.6,201.6 351.4,202.0 351.4,202.0 351.1,202.5 351.1,202.5 350.9,203.0 350.9,203.0 350.8,203.5 350.8,203.5 350.6,204.0 350.6,204.0 350.5,204.5 350.5,204.5 350.5,205.0 350.5,205.0 350.4,205.5 350.4,205.5 350.4,206.0 350.4,206.0 350.4,206.5 350.4,206.5 350.5,207.0 350.5,207.0 350.5,207.5 350.5,207.5 350.6,208.0 350.6,208.0 350.8,208.5 350.8,208.5 350.9,209.0 350.9,209.0 351.1,209.5 351.1,209.5 351.4,210.0 351.4,210.0 351.6,210.4 351.6,210.4 351.9,210.8 351.9,210.8 352.2,211.2 352.2,211.3 352.5,211.6 352.5,211.6 352.9,212.0 352.9,212.0 352.9,212.0 353.0,212.1 353.0,212.1 353.0,212.2 353.1,212.2 353.1,212.3 353.1,212.3 353.1,212.4 353.4,214.5 353.4,214.5ZM308.0,246.1 309.5,252.6 309.5,252.6 309.5,252.6 314.8,254.1 314.8,254.1 314.8,254.1 319.6,253.4 319.6,253.4 319.6,253.3 320.8,249.4 320.8,249.4 320.8,249.3 320.9,249.2 320.9,249.2 321.0,249.2 321.0,249.1 321.1,249.1 321.1,249.0 321.2,249.0 321.2,249.0 321.3,249.0 323.9,248.6 324.0,248.6 324.0,248.6 324.1,248.6 324.2,248.6 324.2,248.6 329.4,250.6 329.4,250.6 329.4,250.6 333.5,247.3 333.5,247.3 333.5,247.3 333.8,245.1 333.8,245.0 333.9,244.9 333.9,244.9 333.9,244.8 333.9,244.8 334.0,244.7 334.0,244.7 334.1,244.7 334.1,244.6 334.2,244.6 334.2,244.6 334.3,244.6 334.3,244.5 334.4,244.5 334.4,244.5 334.5,244.5 334.5,244.5 334.6,244.6 334.7,244.6 334.7,244.6 334.8,244.6 334.8,244.7 334.8,244.7 334.9,244.8 334.9,244.8 336.5,247.2 336.5,247.2 336.5,247.2 343.3,248.5 347.6,249.3 347.6,249.3 347.6,249.3 350.4,246.5 350.4,246.5 350.4,246.5 350.4,224.7 350.4,224.7 350.4,224.7 348.9,220.2 348.9,220.2 348.8,220.2 344.2,217.9 344.2,217.9 344.2,217.9 339.3,219.5 339.3,219.5 339.3,219.5 338.9,221.2 338.9,221.3 338.8,221.3 338.8,221.4 338.8,221.4 338.7,221.5 338.7,221.5 338.6,221.5 338.6,221.6 338.5,221.6 338.5,221.6 338.4,221.6 338.4,221.6 338.3,221.7 338.3,221.7 338.2,221.6 338.1,221.6 338.1,221.6 338.0,221.6 338.0,221.6 337.9,221.5 337.9,221.5 337.8,221.4 337.8,221.4 337.0,220.3 337.0,220.3 337.0,220.3 333.2,216.4 333.1,216.4 333.1,216.4 328.0,212.7 328.0,212.7 328.0,212.7 323.1,216.0 323.1,216.0 323.1,216.0 322.0,219.4 322.0,219.4 322.0,219.5 321.9,219.5 321.9,219.6 321.9,219.6 321.8,219.7 321.8,219.7 321.7,219.7 321.7,219.7 321.6,219.8 321.6,219.8 321.5,219.8 321.4,219.8 321.4,219.8 321.3,219.8 321.3,219.8 321.2,219.7 321.2,219.7 321.1,219.7 321.1,219.7 320.0,218.8 320.0,218.8 319.9,218.8 315.8,217.2 315.8,217.2 315.8,217.2 311.8,221.2 311.8,221.2 311.8,221.2 309.3,234.6 309.3,234.6 308.0,246.1 308.0,246.1ZM297.2,341.3 302.8,341.3 302.8,341.3 302.8,341.3 302.6,334.5 302.7,334.5 304.0,322.1 304.0,322.0 304.0,322.0 304.0,321.9 308.0,312.0 308.0,312.0 308.0,312.0 308.0,304.0 308.0,304.0 308.0,304.0 305.0,305.0 305.0,305.0 305.0,305.0 301.0,312.0 301.0,312.0 301.0,312.0 298.0,322.0 298.0,322.0 298.0,322.0 298.0,322.4 298.0,322.5 298.0,322.5 298.0,322.6 298.0,322.6 298.0,322.7 297.9,322.7 297.9,322.8 297.9,322.8 297.8,322.9 297.8,322.9 297.2,323.4 297.2,323.4 297.2,323.4 297.2,341.3 297.2,341.3ZM182.7,213.4 182.7,219.0 182.7,219.0 182.7,219.0 185.8,221.2 185.8,221.3 185.9,221.3 185.9,221.4 186.0,221.4 189.8,227.7 189.8,227.7 189.8,227.7 193.0,235.6 193.0,235.6 193.0,235.6 197.0,237.1 197.0,237.1 197.0,237.1 201.7,234.0 201.7,234.0 201.7,234.0 201.7,234.0 201.7,233.9 201.7,233.9 201.8,233.8 201.8,233.8 201.8,233.7 201.9,233.7 201.9,233.6 201.9,233.6 202.0,233.6 202.0,233.5 202.1,233.5 202.2,233.5 202.2,233.5 202.3,233.5 202.3,233.5 202.4,233.5 202.4,233.5 202.5,233.5 202.6,233.6 202.6,233.6 202.7,233.6 202.7,233.7 202.7,233.7 202.8,233.7 202.8,233.8 202.8,233.8 202.9,233.9 202.9,234.0 202.9,234.0 202.9,234.1 202.9,234.1 202.5,240.0 202.5,240.0 202.5,240.0 204.0,254.0 204.0,254.0 204.0,254.0 208.5,256.4 208.5,256.4 208.5,256.4 213.0,260.0 213.0,260.0 213.0,260.0 221.8,262.9 221.9,263.0 221.9,263.0 222.0,263.0 222.0,263.1 222.1,263.1 222.1,263.1 229.0,272.0 229.0,272.0 229.0,272.0 240.0,281.0 240.0,281.0 248.9,287.9 249.0,288.0 249.0,288.0 249.1,288.1 253.4,294.9 253.4,294.9 253.5,295.0 253.5,295.0 253.5,295.1 253.5,295.2 254.8,320.8 254.8,320.8 254.8,320.8 259.3,325.3 259.3,325.3 259.3,325.3 262.6,321.1 262.6,321.1 262.7,321.1 262.7,321.0 262.8,321.0 262.8,321.0 262.8,321.0 262.8,320.9 262.8,320.9 262.8,320.8 262.9,320.8 263.5,320.0 263.5,320.0 263.5,320.0 264.5,290.0 264.5,290.0 264.1,269.0 264.1,268.9 264.2,268.5 264.2,268.5 264.2,268.4 264.2,268.4 264.1,268.3 264.1,268.3 264.1,268.2 264.2,261.7 264.2,261.6 264.3,261.5 264.3,261.5 264.3,261.4 264.3,261.4 266.2,257.5 266.3,257.5 266.3,257.4 266.3,257.4 266.4,257.3 266.4,257.3 266.5,257.3 266.5,257.2 266.6,257.2 266.7,257.2 266.7,257.2 266.8,257.2 273.1,257.2 273.1,257.2 273.1,257.2 273.1,250.5 273.1,250.5 273.1,250.4 273.1,250.4 273.1,250.3 273.2,250.3 273.2,250.2 273.2,250.2 273.3,250.1 273.3,250.1 277.0,247.0 277.0,247.0 277.0,247.0 276.8,227.0 276.8,227.0 276.8,227.0 273.3,223.3 273.2,223.3 273.2,223.2 273.2,223.2 273.1,223.1 273.1,223.1 273.1,223.0 273.1,223.0 273.1,222.9 273.1,187.8 273.1,187.8 273.1,187.8 259.1,187.8 259.1,187.8 259.1,187.8 259.1,215.9 259.1,215.9 259.1,216.0 259.1,216.1 259.1,216.1 257.8,219.2 257.8,219.2 257.8,219.3 257.7,219.3 257.7,219.4 257.7,219.4 257.6,219.4 257.6,219.5 257.5,219.5 257.5,219.5 257.4,219.5 257.3,219.5 257.3,219.5 257.2,219.5 257.2,219.5 257.1,219.5 257.1,219.5 257.0,219.5 256.9,219.4 256.9,219.4 256.9,219.4 256.4,218.9 256.4,218.9 256.4,218.8 256.3,218.8 254.0,214.2 254.0,214.1 253.9,214.2 250.2,218.8 250.2,218.9 250.2,218.9 250.1,218.9 250.0,219.0 250.0,219.0 250.0,219.0 246.3,223.6 246.3,223.6 246.2,223.7 246.2,223.7 246.1,223.8 246.1,223.8 246.0,223.8 246.0,223.8 245.9,223.8 245.8,223.8 245.8,223.8 245.7,223.8 245.7,223.8 245.6,223.8 245.6,223.7 243.3,222.5 243.3,222.4 243.2,222.4 243.2,222.4 243.2,222.3 243.1,222.3 243.1,222.2 243.1,222.2 243.1,222.1 243.0,222.1 243.0,222.0 242.1,219.6 242.1,219.5 242.1,219.5 241.2,214.5 241.2,214.5 241.2,214.5 237.3,209.5 237.3,209.5 237.3,209.5 232.5,208.5 232.5,208.5 232.5,208.5 227.8,209.8 227.8,209.8 227.8,209.8 223.9,212.9 223.8,213.0 223.8,213.0 223.7,213.0 219.4,214.8 219.3,214.9 219.3,214.9 219.2,214.9 219.1,214.9 219.1,214.9 219.0,214.9 219.0,214.9 218.9,214.8 218.9,214.8 218.8,214.8 218.8,214.8 218.7,214.7 218.4,214.4 218.3,214.3 218.3,214.3 218.3,214.2 218.2,214.2 218.2,214.1 218.2,214.1 218.2,214.0 218.2,214.0 218.2,212.7 218.2,212.7 218.2,212.7 216.9,212.7 216.9,212.7 216.8,212.7 216.8,212.7 216.7,212.7 216.7,212.6 216.6,212.6 216.6,212.6 216.5,212.5 215.0,211.0 215.0,211.0 215.0,211.0 211.0,208.5 211.0,208.5 211.0,208.5 208.0,211.0 208.0,211.0 208.0,211.0 205.5,214.0 205.5,214.0 205.5,214.0 204.0,222.2 204.0,222.2 204.0,222.3 204.0,222.4 203.9,222.4 203.9,222.5 203.9,222.5 203.8,222.5 203.8,222.6 203.7,222.6 203.7,222.6 203.6,222.6 203.5,222.7 203.5,222.7 203.4,222.7 203.4,222.7 203.3,222.7 203.3,222.7 203.2,222.6 203.1,222.6 203.1,222.6 203.0,222.5 203.0,222.5 203.0,222.5 202.9,222.4 202.9,222.4 202.9,222.3 202.8,222.3 202.8,222.2 201.7,216.6 201.7,216.6 200.9,204.0 200.9,204.0 200.9,204.0 200.9,204.0 200.9,203.9 200.9,203.8 200.9,203.8 200.8,201.8 200.8,201.8 200.7,201.7 200.0,201.6 199.9,201.6 199.8,201.6 199.8,201.5 199.7,201.5 199.7,201.5 199.6,201.4 199.6,201.4 199.6,201.3 199.5,201.3 199.5,201.1 199.4,201.1 199.4,201.0 199.4,200.9 199.2,199.8 199.2,199.8 199.2,199.8 199.2,199.8 199.1,199.8 199.1,199.8 199.0,199.8 198.9,199.8 198.9,199.7 198.8,199.7 198.8,199.7 198.7,199.6 198.7,199.6 198.7,199.5 198.6,199.5 197.7,197.6 197.7,197.6 197.7,197.6 192.2,196.8 192.2,196.8 192.2,196.8 186.7,200.0 186.7,200.0 186.7,200.0 185.1,207.1 185.1,207.1 182.7,213.4 182.7,213.4ZM216.0,306.0 217.5,314.5 217.5,314.5 217.5,314.5 220.6,316.4 220.7,316.5 220.7,316.5 220.8,316.5 220.8,316.6 220.8,316.6 220.9,316.7 220.9,316.7 221.1,317.3 221.1,317.3 221.1,317.3 221.9,317.3 221.9,317.3 222.0,317.3 222.0,317.3 222.1,317.3 222.1,317.4 222.2,317.4 224.0,318.5 224.0,318.5 224.0,318.5 230.0,320.0 230.0,320.0 230.0,320.0 236.5,318.5 236.5,318.5 236.5,318.5 238.0,311.0 238.0,311.0 238.0,311.0 233.5,306.5 233.5,306.5 233.5,306.5 229.6,304.6 229.6,304.5 229.5,304.5 229.5,304.5 229.4,304.4 229.4,304.4 228.7,303.4 228.7,303.4 228.7,303.3 228.7,303.3 228.6,303.2 228.1,301.0 228.1,301.0 228.1,301.0 226.9,300.6 226.8,300.5 226.8,300.5 226.7,300.5 226.7,300.4 226.6,300.4 226.6,300.3 226.0,299.5 226.0,299.5 226.0,299.5 223.4,299.2 223.3,299.2 223.3,299.2 223.2,299.2 223.0,299.1 222.9,299.1 222.9,299.1 222.9,299.1 222.9,299.1 222.8,299.1 222.7,299.2 222.7,299.2 222.6,299.2 221.0,299.0 221.0,299.0 221.0,299.0 220.0,300.4 220.0,300.4 219.9,300.5 219.9,300.5 219.8,300.5 219.8,300.6 218.5,301.2 218.5,301.2 218.5,301.2 218.5,302.3 218.5,302.3 218.5,302.4 218.5,302.4 218.5,302.5 218.5,302.6 218.4,302.6 218.4,302.6 216.0,306.0 216.0,306.0ZM127.0,267.0 127.0,326.4 127.0,326.4 127.0,326.4 139.1,325.6 139.2,325.6 139.3,325.6 147.3,326.6 147.3,326.6 147.3,326.6 159.5,325.6 159.5,325.6 167.6,324.6 167.6,324.6 179.7,324.0 179.8,324.0 179.8,324.0 179.9,324.0 179.9,324.1 180.0,324.1 180.1,324.1 180.1,324.1 180.1,324.2 180.2,324.2 186.0,331.0 186.0,331.0 193.0,339.0 193.0,339.0 193.0,339.0 201.0,342.0 201.0,342.0 201.0,342.0 205.5,339.0 205.5,339.0 205.5,339.0 203.0,332.0 203.0,332.0 203.0,332.0 195.2,322.2 195.1,322.1 195.1,322.1 195.1,322.1 194.9,321.7 194.9,321.7 194.7,321.3 194.7,321.3 194.6,321.0 194.6,321.0 194.4,320.6 194.4,320.6 194.1,320.3 194.1,320.3 193.9,320.0 193.9,320.0 193.7,319.7 193.7,319.7 193.4,319.4 193.4,319.4 193.2,319.1 193.2,319.1 192.9,318.8 192.9,318.8 192.6,318.6 192.6,318.6 192.3,318.4 192.3,318.3 192.1,318.1 192.0,318.1 191.7,318.0 191.7,318.0 191.4,317.8 191.4,317.8 191.1,317.7 191.1,317.7 190.8,317.6 190.7,317.5 190.4,317.5 190.4,317.5 190.1,317.4 190.1,317.4 189.7,317.4 189.7,317.4 189.4,317.4 189.3,317.4 189.0,317.5 189.0,317.5 188.7,317.6 188.7,317.6 188.5,317.7 188.5,317.7 188.4,317.7 188.4,317.7 188.3,317.7 188.3,317.7 188.2,317.7 188.2,317.7 188.1,317.7 188.0,317.6 188.0,317.6 187.0,317.0 187.0,317.0 187.0,317.0 182.3,315.1 182.2,315.1 182.2,315.1 182.1,315.0 182.1,315.0 182.1,314.9 182.0,314.9 182.0,314.9 182.0,314.8 181.9,314.7 181.9,314.7 180.9,309.9 180.9,309.9 180.9,309.9 175.8,302.8 175.8,302.8 175.8,302.8 170.9,298.8 170.8,298.8 170.8,298.7 170.7,298.7 170.7,298.7 170.7,298.6 170.7,298.6 170.7,298.5 168.7,290.6 168.7,290.6 168.7,290.6 164.6,289.6 164.6,289.6 164.6,289.6 159.7,292.5 159.7,292.5 159.6,292.5 159.6,292.5 159.5,292.5 159.5,292.5 159.4,292.5 159.4,292.5 159.3,292.5 159.2,292.5 153.7,290.7 153.6,290.7 153.6,290.6 153.5,290.6 153.5,290.6 153.4,290.5 153.4,290.5 153.4,290.4 153.3,290.4 153.3,290.3 153.3,290.3 153.3,290.3 153.3,290.3 153.2,290.3 153.1,290.3 153.1,290.3 153.0,290.3 153.0,290.2 152.9,290.2 152.9,290.2 147.3,285.5 147.3,285.5 147.3,285.5 141.4,283.6 141.3,283.5 141.3,283.5 141.2,283.5 141.2,283.4 141.1,283.4 141.1,283.3 135.1,275.3 135.1,275.3 127.0,267.0 127.0,267.0ZM192.1,249.1 192.0,248.9 192.0,248.9 191.8,248.6 191.8,248.6 191.7,248.4 191.7,248.4 191.5,248.2 191.5,248.2 191.3,248.1 191.3,248.1 191.2,247.9 191.1,247.9 191.0,247.8 191.0,247.8 190.8,247.7 190.8,247.7 190.6,247.6 190.6,247.6 190.4,247.6 190.4,247.5 190.2,247.5 190.2,247.5 190.0,247.5 190.0,247.5 189.8,247.5 189.8,247.5 189.6,247.5 189.6,247.6 189.4,247.6 189.4,247.6 189.2,247.7 189.2,247.7 189.0,247.8 189.0,247.8 188.9,247.9 188.8,247.9 188.7,248.1 188.7,248.1 188.5,248.2 188.5,248.2 188.3,248.4 188.3,248.4 188.2,248.6 188.2,248.6 188.0,248.9 188.0,248.9 187.9,249.1 187.9,249.1 187.7,249.4 187.7,249.4 187.6,249.6 187.6,249.7 187.5,249.9 187.5,250.0 187.4,250.2 187.4,250.3 187.3,250.6 187.3,250.6 187.2,250.9 187.2,250.9 187.2,251.2 187.2,251.2 187.1,251.6 187.1,251.6 187.1,251.9 187.1,251.9 187.0,252.3 187.0,252.3 187.0,252.6 187.0,252.6 187.0,253.0 187.0,253.0 187.0,253.4 187.0,253.4 187.0,253.7 187.0,253.7 187.1,254.1 187.1,254.1 187.1,254.4 187.1,254.4 187.2,254.8 187.2,254.8 187.2,255.1 187.2,255.1 187.3,255.4 187.3,255.4 187.4,255.7 187.4,255.8 187.5,256.0 187.5,256.1 187.6,256.3 187.6,256.4 187.7,256.6 187.7,256.6 187.9,256.9 187.9,256.9 188.0,257.1 188.0,257.1 188.2,257.4 188.2,257.4 188.3,257.6 188.3,257.6 188.5,257.8 188.5,257.8 188.7,257.9 188.7,257.9 188.8,258.1 188.9,258.1 189.0,258.2 189.0,258.2 189.2,258.3 189.2,258.3 189.4,258.4 189.4,258.4 189.6,258.4 189.6,258.5 189.8,258.5 189.8,258.5 190.0,258.5 190.0,258.5 190.2,258.5 190.2,258.5 190.4,258.5 190.4,258.4 190.6,258.4 190.6,258.4 190.8,258.3 190.8,258.3 191.0,258.2 191.0,258.2 191.1,258.1 191.2,258.1 191.3,257.9 191.3,257.9 191.5,257.8 191.5,257.8 191.7,257.6 191.7,257.6 191.8,257.4 191.8,257.4 192.0,257.1 192.0,257.1 192.1,256.9 192.1,256.9 192.3,256.6 192.3,256.6 192.4,256.4 192.4,256.3 192.5,256.1 192.5,256.0 192.6,255.8 192.6,255.7 192.7,255.4 192.7,255.4 192.8,255.1 192.8,255.1 192.8,254.8 192.8,254.8 192.9,254.4 192.9,254.4 192.9,254.1 192.9,254.1 193.0,253.7 193.0,253.7 193.0,253.4 193.0,253.4 193.0,253.0 193.0,253.0 193.0,252.6 193.0,252.6 193.0,252.3 193.0,252.3 192.9,251.9 192.9,251.9 192.9,251.6 192.9,251.6 192.8,251.2 192.8,251.2 192.8,250.9 192.8,250.9 192.7,250.6 192.7,250.6 192.6,250.3 192.6,250.2 192.5,250.0 192.5,249.9 192.4,249.7 192.4,249.6 192.3,249.4 192.3,249.4 192.1,249.1Z" fill="#d3d3d3" fill-rule="evenodd"/><path d="M1019.6,189.0 1021.5,203.4 1021.5,203.4 1021.5,203.4 1029.2,207.3 1029.2,207.3 1029.2,207.3 1044.2,208.2 1044.3,208.2 1044.3,208.2 1044.4,208.2 1044.4,208.2 1044.5,208.3 1044.5,208.3 1044.6,208.4 1044.6,208.4 1044.7,208.4 1048.3,213.9 1048.3,213.9 1048.4,214.0 1048.4,214.0 1048.4,214.1 1048.4,214.2 1049.3,229.3 1049.3,229.3 1049.3,229.3 1055.1,235.1 1055.1,235.1 1055.1,235.1 1065.7,238.0 1065.7,238.0 1065.7,238.0 1079.1,236.1 1079.1,236.1 1079.1,236.1 1089.7,232.2 1089.7,232.2 1089.7,232.2 1088.7,223.6 1088.7,223.6 1088.7,223.6 1080.4,219.9 1080.4,219.8 1080.3,219.8 1080.3,219.8 1080.2,219.7 1080.2,219.7 1080.2,219.6 1080.1,219.6 1080.1,219.5 1080.1,219.4 1080.1,219.4 1080.1,219.3 1079.1,182.3 1079.1,182.3 1079.1,182.3 1071.4,175.6 1071.4,175.6 1071.4,175.6 1038.8,174.6 1038.8,174.6 1038.8,174.6 1024.4,177.5 1024.4,177.5 1024.4,177.5 1019.6,189.0 1019.6,189.0ZM877.8,318.9 879.6,324.2 879.6,324.3 879.6,324.3 879.6,324.4 880.2,335.1 880.2,335.1 880.2,335.1 882.0,336.3 882.0,336.3 882.0,336.3 884.9,331.6 884.9,331.6 885.0,331.6 885.0,331.5 885.1,331.5 885.1,331.5 885.2,331.4 887.1,330.5 887.1,330.4 887.2,330.4 887.3,330.4 887.3,330.4 887.4,330.4 887.4,330.4 887.5,330.4 887.5,330.4 887.6,330.4 887.6,330.5 887.7,330.5 892.8,333.9 892.8,333.9 892.8,333.9 910.7,333.9 910.7,333.9 910.7,333.9 913.7,331.5 913.7,331.5 913.7,331.5 913.7,313.5 913.7,313.5 912.5,305.2 912.5,305.2 912.5,305.2 904.7,299.2 904.7,299.2 904.7,299.2 892.2,299.2 892.2,299.2 892.2,299.2 885.0,304.0 885.0,304.0 885.0,304.0 882.6,314.5 882.6,314.6 882.6,314.6 882.6,314.7 882.5,314.7 882.5,314.8 882.5,314.8 877.8,318.9 877.8,318.9ZM740.3,314.1 740.3,329.9 740.3,329.9 740.9,341.7 740.9,341.7 740.9,341.7 751.0,340.6 751.0,340.6 751.0,340.6 751.0,333.3 751.0,333.3 751.0,333.2 751.0,333.2 751.0,333.1 752.1,330.3 752.1,330.2 752.1,330.2 752.1,330.1 752.2,330.1 752.2,330.0 752.3,330.0 752.3,330.0 752.4,329.9 752.4,329.9 752.5,329.9 752.6,329.9 752.6,329.9 774.1,329.9 774.2,329.9 774.2,329.9 774.3,329.9 774.3,329.9 774.4,330.0 774.4,330.0 774.5,330.0 774.5,330.1 774.6,330.1 774.6,330.2 774.6,330.2 774.7,330.3 774.7,330.3 774.7,330.4 774.7,330.4 774.7,330.5 774.7,332.1 774.7,332.1 774.7,332.1 775.9,334.4 775.9,334.4 775.9,334.4 778.7,329.9 778.7,329.9 778.7,329.9 778.7,318.6 778.7,318.6 778.7,318.6 776.0,314.2 776.0,314.2 775.9,314.1 775.9,314.1 775.9,314.0 775.9,314.0 775.9,313.9 775.9,308.4 775.9,308.4 775.9,308.4 772.5,304.5 772.5,304.5 772.5,304.5 747.7,304.5 747.7,304.5 747.7,304.5 745.4,308.3 745.4,308.4 745.4,308.4 740.3,314.1 740.3,314.1ZM683.0,223.0 683.0,235.0 683.0,235.0 684.0,243.0 684.0,243.0 684.0,243.0 689.0,245.0 689.0,245.0 689.0,245.0 693.0,240.0 693.0,240.0 693.0,240.0 692.0,235.0 692.0,235.0 692.0,235.0 689.1,232.1 689.1,232.1 689.0,232.0 689.0,232.0 689.0,231.9 689.0,231.9 686.0,222.0 686.0,222.0 686.0,222.0 683.0,223.0 683.0,223.0ZM660.0,288.0 662.0,292.0 662.0,292.0 662.0,292.0 669.5,292.9 669.5,292.9 669.6,293.0 669.6,293.0 669.7,293.0 669.7,293.0 669.8,293.1 669.8,293.1 669.9,293.2 669.9,293.2 669.9,293.3 669.9,293.3 670.0,293.4 670.0,293.4 670.0,293.5 670.0,293.5 669.8,300.0 669.8,300.0 670.0,316.5 670.0,316.5 670.0,316.5 677.0,317.0 677.0,317.0 677.0,317.0 681.0,315.0 681.0,315.0 681.0,315.0 682.5,300.0 682.5,300.0 682.5,300.0 682.0,290.0 682.0,290.0 682.0,290.0 676.0,286.0 676.0,286.0 676.0,286.0 666.0,285.5 666.0,285.5 666.0,285.5 660.0,288.0 660.0,288.0ZM663.5,326.0 668.0,333.0 668.0,333.0 668.0,333.0 673.0,338.2 673.0,338.2 673.0,338.2 677.0,337.0 677.0,337.0 677.0,337.0 677.7,331.0 677.7,331.0 677.7,331.0 672.0,322.0 672.0,322.0 672.0,322.0 667.0,319.2 667.0,319.2 667.0,319.2 664.0,321.0 664.0,321.0 664.0,321.0 663.5,326.0 663.5,326.0ZM528.6,202.5 532.0,211.0 532.0,211.0 532.0,211.0 536.7,214.2 536.8,214.3 536.8,214.3 536.9,214.3 536.9,214.4 536.9,214.4 537.0,214.5 537.0,214.5 537.0,214.6 537.0,214.7 537.0,214.7 537.0,222.8 537.0,222.8 537.0,222.8 544.7,232.2 544.7,232.2 550.6,239.8 550.6,239.8 550.6,239.8 554.7,242.4 554.8,242.4 554.8,242.4 554.9,242.5 554.9,242.5 554.9,242.6 555.0,242.6 556.6,246.3 556.6,246.3 556.6,246.3 559.0,246.0 559.1,245.9 559.1,245.9 559.2,246.0 559.2,246.0 559.3,246.0 559.3,246.0 559.4,246.0 559.5,246.1 559.5,246.1 559.5,246.1 567.0,254.6 567.0,254.6 567.0,254.6 580.6,256.8 580.6,256.8 596.3,259.1 596.4,259.1 596.4,259.1 596.5,259.1 597.0,259.4 597.1,259.4 597.1,259.5 599.2,261.1 599.3,261.1 605.7,265.4 605.8,265.4 605.8,265.5 605.9,265.5 605.9,265.5 605.9,265.6 606.0,265.7 606.0,265.7 606.0,265.8 606.0,265.8 606.0,265.9 606.0,269.0 606.0,269.0 606.0,269.0 620.0,276.0 620.0,276.0 620.0,276.0 632.0,279.0 632.0,279.0 632.0,279.0 641.0,279.0 641.0,279.0 641.0,279.0 640.0,273.0 640.0,273.0 640.0,273.0 632.0,268.0 632.0,268.0 622.6,262.4 622.6,262.3 622.5,262.3 622.5,262.3 622.4,262.2 622.4,262.2 622.4,262.1 622.4,262.1 622.3,262.0 622.3,261.9 622.3,261.9 622.3,261.8 622.3,261.8 622.4,261.3 622.4,261.3 622.4,261.3 621.3,255.0 621.3,255.0 620.0,245.2 620.0,245.1 620.0,245.1 620.0,245.0 620.0,245.0 620.1,244.9 620.1,244.9 620.1,244.8 624.2,237.5 624.2,237.5 628.5,229.1 628.5,229.1 628.5,229.1 627.6,200.3 627.6,200.3 627.6,200.3 620.8,194.3 620.8,194.3 620.8,194.3 610.7,194.3 610.7,194.3 610.7,194.3 603.0,197.7 603.0,197.7 603.0,197.7 603.4,201.0 603.4,201.1 603.4,201.1 603.0,205.9 603.0,206.0 603.0,206.1 603.0,206.1 603.0,206.2 602.9,206.2 602.9,206.3 602.9,206.3 599.3,209.9 599.2,210.0 599.2,210.0 599.1,210.0 599.1,210.0 599.0,210.1 599.0,210.1 598.9,210.1 598.9,210.1 598.8,210.1 598.7,210.1 598.7,210.1 598.6,210.0 598.6,210.0 598.5,210.0 598.5,209.9 598.4,209.9 598.4,209.8 593.7,203.6 591.3,200.5 591.3,200.4 591.3,200.4 591.3,200.3 591.2,200.3 590.8,198.4 590.8,198.4 590.8,198.4 588.2,195.8 588.1,195.8 588.1,195.7 588.1,195.7 588.0,195.6 586.2,191.5 586.2,191.5 586.2,191.5 579.0,190.6 578.9,190.6 578.8,190.6 578.8,190.6 578.7,190.6 578.7,190.5 578.6,190.5 578.6,190.5 578.6,190.4 578.5,190.4 578.5,190.3 578.5,190.3 575.2,181.3 575.2,181.3 575.2,181.3 569.2,177.1 569.2,177.1 569.2,177.1 546.5,178.3 546.5,178.3 542.5,178.3 542.5,178.3 542.5,178.3 542.4,178.4 542.4,178.4 542.3,178.4 542.2,178.5 542.2,178.5 542.1,178.5 542.1,178.5 542.0,178.5 537.0,178.8 537.0,178.8 537.0,178.8 533.6,183.9 533.6,183.9 533.6,183.9 532.0,195.6 532.0,195.7 532.0,195.7 532.0,195.8 528.6,202.5 528.6,202.5ZM616.7,284.0 616.7,314.0 616.7,314.0 616.7,314.0 621.0,316.6 621.0,316.6 621.0,316.6 625.8,314.0 625.8,314.0 625.8,314.0 625.8,300.2 625.8,300.2 625.8,300.1 625.8,300.0 625.8,300.0 625.9,299.9 625.9,299.9 625.9,299.8 629.9,295.4 629.9,295.3 629.9,295.3 630.0,295.3 630.0,295.2 630.1,295.2 630.2,295.2 630.2,295.2 639.3,294.0 639.3,294.0 639.3,294.0 639.3,287.0 639.3,287.0 639.3,287.0 634.0,284.5 634.0,284.5 634.0,284.5 626.2,285.0 626.1,285.0 626.1,285.0 626.0,285.0 626.0,285.0 625.9,284.9 625.8,284.9 622.0,282.8 622.0,282.8 622.0,282.8 616.7,284.0 616.7,284.0ZM601.0,302.0 604.0,304.2 604.0,304.2 604.0,304.2 607.7,302.0 607.7,302.0 607.7,302.0 607.7,286.0 607.7,286.0 607.7,286.0 604.0,283.0 604.0,283.0 604.0,283.0 601.0,284.0 601.0,284.0 601.0,284.0 601.0,302.0 601.0,302.0ZM510.3,330.0 514.2,328.0 514.2,328.0 514.2,328.0 514.2,309.0 514.2,309.0 514.2,309.0 510.3,309.0 510.3,309.0 510.3,309.0 510.3,330.0 510.3,330.0ZM481.0,322.0 481.5,327.0 481.5,327.0 481.5,327.0 485.0,328.0 485.0,328.0 485.0,328.0 486.0,324.0 486.0,324.0 486.0,324.0 484.5,321.0 484.5,321.0 484.5,321.0 481.0,322.0 481.0,322.0ZM452.5,198.0 455.0,201.5 455.0,201.5 455.0,201.5 457.5,198.0 457.5,198.0 457.5,198.0 455.0,194.5 455.0,194.5 455.0,194.5 452.5,198.0 452.5,198.0ZM440.0,202.0 439.9,201.4 439.9,201.4 439.8,200.9 439.8,200.9 439.6,200.4 439.6,200.3 439.4,199.8 439.4,199.8 439.2,199.2 439.2,199.2 439.0,198.7 439.0,198.7 438.7,198.1 438.7,198.1 438.4,197.5 438.4,197.5 438.1,197.0 438.1,197.0 437.7,196.4 437.7,196.4 437.3,195.9 437.3,195.9 436.9,195.3 436.9,195.3 436.5,194.8 436.5,194.8 436.1,194.3 436.0,194.3 435.6,193.8 435.6,193.8 435.1,193.3 435.1,193.3 434.6,192.9 434.6,192.9 434.1,192.5 434.1,192.5 433.6,192.1 433.6,192.1 433.1,191.7 433.1,191.7 432.6,191.3 432.6,191.3 432.1,191.0 432.1,191.0 431.6,190.7 431.6,190.7 431.1,190.5 431.1,190.5 430.6,190.3 430.5,190.3 430.1,190.1 430.0,190.1 429.6,190.0 429.5,189.9 429.1,189.8 429.1,189.8 428.6,189.8 428.6,189.8 428.2,189.7 428.1,189.7 427.7,189.7 427.7,189.7 427.3,189.8 427.3,189.8 426.9,189.8 426.9,189.9 426.6,190.0 426.5,190.0 426.2,190.1 426.2,190.1 425.9,190.3 425.9,190.3 425.6,190.5 425.6,190.5 425.3,190.7 425.3,190.8 425.1,191.0 425.1,191.1 424.9,191.3 424.9,191.4 424.7,191.7 424.7,191.7 424.6,192.1 424.5,192.1 424.4,192.5 424.4,192.5 424.4,192.9 424.4,192.9 424.3,193.4 424.3,193.4 424.3,193.8 424.3,193.8 424.3,194.3 424.3,194.3 424.4,194.8 424.4,194.8 424.5,195.4 424.5,195.4 424.6,195.9 424.6,195.9 424.8,196.4 424.8,196.5 425.0,197.0 425.0,197.0 425.2,197.6 425.2,197.6 425.4,198.1 425.4,198.1 425.7,198.7 425.7,198.7 426.0,199.3 426.0,199.3 426.3,199.8 426.3,199.8 426.7,200.4 426.7,200.4 427.1,200.9 427.1,200.9 427.5,201.5 427.5,201.5 427.9,202.0 427.9,202.0 428.3,202.5 428.4,202.5 428.8,203.0 428.8,203.0 429.3,203.5 429.3,203.5 429.8,203.9 429.8,203.9 430.3,204.3 430.3,204.3 430.8,204.7 430.8,204.7 431.3,205.1 431.3,205.1 431.8,205.5 431.8,205.5 432.3,205.8 432.3,205.8 432.8,206.1 432.8,206.1 433.3,206.3 433.3,206.3 433.8,206.5 433.9,206.5 434.3,206.7 434.4,206.7 434.8,206.8 434.9,206.9 435.3,207.0 435.3,207.0 435.8,207.0 435.8,207.0 436.2,207.1 436.3,207.1 436.7,207.1 436.7,207.1 437.1,207.0 437.1,207.0 437.5,207.0 437.5,206.9 437.8,206.8 437.9,206.8 438.2,206.7 438.2,206.7 438.5,206.5 438.5,206.5 438.8,206.3 438.8,206.3 439.1,206.1 439.1,206.0 439.3,205.8 439.3,205.7 439.5,205.5 439.5,205.4 439.7,205.1 439.7,205.1 439.8,204.7 439.9,204.7 440.0,204.3 440.0,204.3 440.0,203.9 440.0,203.9 440.1,203.4 440.1,203.4 440.1,203.0 440.1,203.0 440.1,202.5 440.1,202.5 440.0,202.0ZM354.2,211.4 354.2,211.5 354.3,211.5 354.3,211.6 354.3,211.6 354.3,211.7 354.3,211.7 354.6,213.7 354.6,213.7 354.6,213.7 362.3,217.9 362.3,217.9 362.3,218.0 362.4,218.0 362.4,218.1 362.5,218.1 362.5,218.1 365.9,224.1 365.9,224.1 365.9,224.1 369.3,223.3 369.3,223.3 369.3,223.3 369.8,221.3 369.8,221.2 369.8,221.2 369.9,221.1 369.9,221.1 369.9,221.0 370.0,221.0 370.0,221.0 370.1,220.9 370.1,220.9 370.2,220.9 370.3,220.8 370.3,220.8 370.4,220.8 370.8,219.5 370.8,219.4 370.8,219.4 370.8,219.3 370.9,219.3 370.9,219.2 370.9,219.2 371.2,219.0 371.2,219.0 371.4,218.8 371.4,218.7 371.7,218.5 371.7,218.5 371.9,218.2 371.9,218.2 372.1,217.9 372.1,217.9 372.3,217.6 372.3,217.6 372.4,217.3 372.4,217.3 372.6,216.9 372.6,216.9 372.7,216.6 372.7,216.6 372.8,216.3 372.8,216.3 372.9,215.9 372.9,215.9 373.0,215.6 373.0,215.6 373.0,215.3 373.0,215.2 373.1,214.9 373.1,214.9 373.1,214.6 373.1,214.5 373.1,214.2 373.1,214.2 373.1,213.9 373.1,213.8 373.1,213.5 373.1,213.5 373.0,213.2 373.0,213.1 373.0,212.8 373.0,212.8 372.9,212.7 372.9,212.6 372.9,212.6 372.9,212.5 372.9,212.4 373.0,212.4 373.6,210.2 373.7,210.1 373.7,210.1 373.7,210.0 373.8,210.0 373.8,209.9 373.8,209.9 373.9,209.8 373.9,209.8 374.0,209.8 374.1,209.8 374.1,209.8 374.2,209.8 374.2,209.8 374.3,209.8 374.4,209.8 374.4,209.8 374.7,209.8 374.7,209.8 375.0,209.8 375.0,209.8 375.3,209.8 375.3,209.8 375.6,209.8 375.6,209.8 375.9,209.7 376.0,209.7 376.2,209.7 376.3,209.7 376.6,209.6 376.6,209.6 376.9,209.5 376.9,209.5 377.2,209.4 377.2,209.4 377.4,209.3 377.5,209.3 377.7,209.1 377.8,209.1 378.0,209.0 378.0,208.9 378.3,208.8 378.3,208.8 378.5,208.6 378.6,208.6 378.8,208.4 378.8,208.3 379.0,208.1 379.1,208.1 379.1,208.1 379.2,208.0 379.2,208.0 379.2,208.0 379.6,207.8 379.6,207.8 380.0,207.7 380.0,207.7 380.3,207.5 380.3,207.5 380.6,207.3 380.6,207.3 380.9,207.0 380.9,207.0 381.2,206.8 381.2,206.8 381.5,206.5 381.5,206.5 381.8,206.2 381.8,206.2 381.8,206.2 381.9,206.1 381.9,206.1 382.0,206.0 382.0,206.0 382.1,206.0 382.1,205.9 382.2,205.9 382.2,205.9 382.3,205.9 382.3,205.9 382.4,205.9 382.5,205.9 382.5,206.0 382.6,206.0 382.6,206.0 382.7,206.1 382.7,206.1 382.8,206.1 382.8,206.2 382.8,206.2 382.9,206.3 382.9,206.3 382.9,206.4 382.9,206.5 382.9,206.5 382.9,240.7 382.9,240.7 382.9,240.7 385.8,244.0 385.8,244.0 385.9,244.1 385.9,244.1 385.9,244.2 385.9,244.2 386.0,244.5 386.0,244.5 386.0,244.6 386.0,246.3 386.0,246.3 386.0,246.3 386.1,246.3 386.1,246.3 386.2,246.4 386.2,246.4 386.3,246.4 386.3,246.5 386.4,246.5 386.4,246.5 386.4,246.6 386.5,246.6 386.5,246.7 386.5,246.8 387.9,252.6 387.9,252.7 388.2,255.7 388.2,255.7 388.2,255.7 389.6,256.1 389.7,256.1 389.7,256.2 389.8,256.2 389.8,256.2 389.9,256.3 389.9,256.3 390.0,256.4 391.1,258.0 391.1,258.0 391.1,258.0 392.0,257.8 392.1,257.8 392.2,257.8 392.2,257.8 392.3,257.8 392.3,257.8 392.4,257.8 392.5,257.8 392.5,257.9 392.6,257.9 392.6,257.9 393.6,259.0 393.7,259.0 393.7,259.0 393.8,258.0 393.8,258.0 393.9,257.9 393.9,257.9 393.9,257.8 393.9,257.8 394.0,257.7 394.0,257.7 394.1,257.6 394.1,257.6 394.2,257.6 394.2,257.6 394.3,257.6 394.3,257.5 394.4,257.5 394.5,257.5 394.5,257.5 394.6,257.6 395.8,257.9 395.9,257.9 395.9,257.9 397.5,245.8 397.6,245.8 397.6,245.7 397.6,245.7 397.6,245.6 397.6,245.6 397.7,245.5 397.7,245.5 397.8,245.5 397.8,245.4 397.9,245.4 400.3,244.1 400.3,244.1 400.3,244.1 400.3,199.8 400.3,199.8 400.3,199.8 398.6,197.4 398.6,197.3 398.5,197.3 398.5,197.2 398.5,197.2 398.5,197.1 398.5,197.1 398.5,196.2 398.5,196.2 398.5,196.2 397.8,196.0 397.7,196.0 397.7,196.0 397.6,195.9 397.6,195.9 397.5,195.9 397.5,195.8 397.5,195.8 397.3,195.5 397.3,195.5 397.2,195.4 397.2,195.4 397.2,195.3 397.2,195.3 397.2,195.2 397.2,193.7 397.2,193.7 397.1,193.7 397.1,193.7 397.1,193.7 397.0,193.7 397.0,193.6 396.9,193.6 396.9,193.6 396.8,193.5 396.8,193.5 396.8,193.4 396.7,193.4 396.7,193.3 396.7,193.3 396.7,193.3 386.0,193.3 386.0,193.3 386.0,193.3 386.0,193.3 386.0,193.4 386.0,193.4 386.0,193.5 385.9,193.6 385.9,193.6 385.9,193.7 385.9,193.7 385.9,193.7 385.9,193.7 385.9,197.6 385.9,197.6 385.9,197.7 385.9,197.7 385.9,197.8 385.9,197.9 385.8,197.9 385.8,198.0 385.7,198.0 385.7,198.0 385.4,198.2 385.4,198.3 385.4,198.3 385.4,198.3 385.4,198.3 385.4,198.4 385.4,198.5 385.4,198.5 385.4,198.6 385.3,198.6 385.3,198.6 385.2,198.7 385.2,198.7 385.0,198.9 385.0,198.9 385.0,198.9 384.1,201.0 384.1,201.1 384.1,201.1 384.1,201.2 384.0,201.2 384.0,201.3 383.9,201.3 383.9,201.3 383.8,201.4 383.8,201.4 383.7,201.4 383.7,201.4 383.6,201.4 383.5,201.4 383.5,201.4 383.4,201.4 383.4,201.4 383.3,201.3 383.3,201.3 383.2,201.3 383.2,201.2 383.1,201.2 383.1,201.2 382.5,200.4 382.5,200.3 382.5,200.3 382.4,200.2 382.4,200.2 382.4,200.1 382.4,200.1 382.4,200.0 382.4,195.4 382.4,195.4 382.4,195.4 378.0,193.7 378.0,193.7 378.0,193.7 364.4,201.3 364.4,201.3 364.3,201.4 364.3,201.4 364.2,201.4 364.2,201.4 364.1,201.4 364.1,201.4 364.0,201.4 363.9,201.3 363.9,201.3 363.8,201.3 363.8,201.3 356.3,195.4 356.3,195.4 356.3,195.4 354.7,200.1 354.7,200.1 354.6,200.2 354.6,200.2 354.6,200.3 354.5,200.3 354.5,200.3 354.5,200.4 354.5,200.4 354.4,200.4 354.1,200.6 354.1,200.6 353.8,200.9 353.8,200.9 353.5,201.2 353.5,201.2 353.2,201.6 353.2,201.6 353.0,201.9 353.0,201.9 352.7,202.3 352.7,202.3 352.5,202.6 352.5,202.7 352.3,203.0 352.3,203.0 352.2,203.4 352.2,203.4 352.0,203.8 352.0,203.9 351.9,204.3 351.9,204.3 351.8,204.7 351.8,204.7 351.8,205.1 351.8,205.1 351.7,205.6 351.7,205.6 351.7,206.0 351.7,206.0 351.7,206.4 351.7,206.4 351.8,206.9 351.8,206.9 351.8,207.3 351.8,207.3 351.9,207.7 351.9,207.7 352.0,208.1 352.0,208.2 352.2,208.6 352.2,208.6 352.3,209.0 352.3,209.0 352.5,209.3 352.5,209.4 352.7,209.7 352.7,209.7 353.0,210.1 353.0,210.1 353.2,210.4 353.2,210.4 353.5,210.8 353.5,210.8 353.8,211.1 353.8,211.1 354.1,211.4 354.1,211.4ZM309.3,246.0 310.6,251.6 310.6,251.6 310.6,251.6 314.9,252.8 314.9,252.8 314.9,252.8 318.6,252.2 318.6,252.2 318.6,252.2 319.8,248.3 319.8,248.2 319.8,248.1 319.9,248.1 319.9,248.0 319.9,248.0 320.0,248.0 320.0,247.9 320.1,247.9 320.2,247.9 320.2,247.9 320.3,247.8 324.0,247.2 324.1,247.2 324.2,247.2 324.2,247.2 324.3,247.2 324.4,247.3 329.2,249.1 329.2,249.1 329.2,249.1 332.3,246.6 332.3,246.6 332.3,246.6 332.8,242.8 332.8,242.8 332.9,242.7 332.9,242.7 332.9,242.6 332.9,242.6 333.0,242.5 333.0,242.5 333.1,242.4 333.1,242.4 333.1,242.4 333.2,242.3 333.3,242.3 333.3,242.3 333.4,242.3 333.4,242.3 334.5,242.3 334.5,242.3 334.6,242.3 334.7,242.3 334.7,242.3 334.8,242.4 334.8,242.4 334.9,242.4 334.9,242.5 334.9,242.5 335.0,242.6 337.3,246.0 337.3,246.0 337.3,246.0 343.5,247.2 347.2,247.9 347.2,247.9 347.2,247.9 349.1,246.0 349.1,246.0 349.1,246.0 349.1,224.9 349.1,224.9 349.1,224.9 347.8,221.1 347.8,221.1 347.8,221.1 344.1,219.3 344.1,219.3 344.1,219.3 340.4,220.5 340.4,220.5 340.4,220.5 339.4,224.2 339.4,224.3 339.4,224.4 339.4,224.4 339.3,224.5 339.3,224.5 339.2,224.5 339.2,224.6 339.1,224.6 339.1,224.6 339.0,224.7 339.0,224.7 338.9,224.7 338.9,224.7 338.8,224.7 338.7,224.7 338.7,224.7 338.6,224.7 338.6,224.6 338.5,224.6 338.5,224.6 338.4,224.5 338.4,224.5 338.4,224.4 336.0,221.1 336.0,221.1 336.0,221.1 332.3,217.4 332.3,217.4 332.3,217.4 328.0,214.3 328.0,214.3 328.0,214.3 324.2,216.8 324.2,216.8 324.2,216.8 322.7,221.6 322.6,221.6 322.6,221.7 322.6,221.7 322.6,221.8 322.5,221.8 322.5,221.9 322.4,221.9 322.4,221.9 322.3,221.9 322.3,222.0 322.2,222.0 322.2,222.0 322.1,222.0 322.0,222.0 322.0,222.0 321.9,222.0 321.9,221.9 321.8,221.9 321.8,221.9 321.7,221.9 319.3,219.9 319.3,219.9 319.3,219.9 316.1,218.7 316.1,218.7 316.1,218.7 313.0,221.8 313.0,221.8 313.0,221.8 310.6,234.8 310.6,234.8 309.3,246.0 309.3,246.0ZM298.5,340.0 301.5,340.0 301.5,340.0 301.5,340.0 301.0,322.0 301.0,322.0 301.0,322.0 298.5,324.0 298.5,324.0 298.5,324.0 298.5,340.0 298.5,340.0ZM205.5,240.0 208.0,250.0 208.0,250.0 208.0,250.0 214.0,254.0 214.0,254.0 221.8,257.9 221.9,257.9 221.9,258.0 222.0,258.0 222.0,258.1 222.1,258.1 222.1,258.1 228.0,268.0 228.0,268.0 228.0,268.0 238.0,276.0 238.0,276.0 247.0,282.0 247.0,282.0 254.8,287.8 254.8,287.9 254.9,287.9 254.9,288.0 254.9,288.0 255.0,288.1 255.0,288.1 255.0,288.2 255.0,288.2 255.0,288.3 256.0,300.0 256.0,300.0 258.0,321.0 258.0,321.0 258.0,321.0 261.5,320.0 261.5,320.0 261.5,320.0 262.5,288.0 262.5,288.0 262.8,268.9 262.8,268.9 262.8,268.7 262.8,268.7 262.8,268.7 262.8,268.7 262.8,268.6 262.8,268.6 263.0,260.3 263.0,260.3 263.0,260.2 263.0,260.1 263.9,257.4 263.9,257.3 263.9,257.3 264.0,257.2 264.0,257.2 264.1,257.2 264.1,257.1 265.5,256.0 265.5,256.0 265.6,256.0 265.6,255.9 265.7,255.9 265.7,255.9 265.8,255.9 265.8,255.9 271.8,255.9 271.8,255.9 271.8,255.9 271.8,247.3 271.8,247.3 271.8,247.2 271.8,247.1 271.8,247.1 271.9,247.0 273.0,245.0 273.0,245.0 273.0,245.0 273.0,235.0 273.0,235.0 273.0,235.0 271.9,233.1 271.9,233.1 271.8,233.0 271.8,233.0 271.8,232.9 271.8,232.9 271.8,232.8 271.8,189.1 271.8,189.1 271.8,189.1 260.4,189.1 260.4,189.1 260.4,189.1 260.4,222.0 260.4,222.0 260.2,226.7 260.2,226.8 260.1,226.8 260.1,226.9 260.1,226.9 260.1,227.0 260.1,227.0 260.0,227.1 260.0,227.1 259.9,227.1 259.9,227.2 259.8,227.2 259.8,227.2 259.7,227.2 259.7,227.3 259.6,227.3 259.5,227.3 259.5,227.3 259.4,227.2 259.4,227.2 259.3,227.2 259.3,227.2 259.2,227.2 259.2,227.1 259.1,227.1 259.1,227.0 259.1,227.0 259.0,226.9 253.7,216.5 253.7,216.5 253.7,216.5 246.9,225.2 246.9,225.2 244.6,228.0 244.5,228.0 244.5,228.1 244.4,228.1 244.4,228.1 244.3,228.1 244.3,228.2 244.2,228.2 244.2,228.2 244.1,228.2 244.0,228.2 244.0,228.2 243.9,228.2 243.8,228.1 243.7,228.1 243.6,228.0 243.6,228.0 243.5,228.0 243.5,227.9 243.4,227.9 243.4,227.8 243.4,227.8 243.3,227.7 243.3,227.7 241.8,222.5 241.8,222.4 238.7,214.3 238.7,214.3 238.7,214.3 237.4,213.8 237.3,213.8 237.3,213.8 237.2,213.8 237.2,213.7 237.1,213.7 237.1,213.7 237.1,213.6 237.0,213.6 237.0,213.5 237.0,213.5 237.0,213.5 232.0,212.0 232.0,212.0 232.0,212.0 232.0,212.0 231.9,212.0 231.9,212.0 230.7,211.6 230.7,211.6 230.7,211.6 227.8,213.0 227.8,213.1 227.7,213.1 226.0,213.5 226.0,213.5 226.0,213.5 225.3,214.2 225.3,214.3 225.3,214.3 225.2,214.3 225.2,214.4 223.2,215.3 223.2,215.3 223.2,215.3 222.8,216.2 222.8,216.2 222.8,216.3 222.7,216.3 222.7,216.4 222.7,216.4 220.0,218.6 219.9,218.6 219.9,218.6 219.8,218.7 219.7,218.7 219.7,218.7 219.6,218.7 219.6,218.7 219.5,218.7 219.5,218.7 217.4,218.3 217.3,218.3 217.3,218.2 217.2,218.2 217.2,218.2 217.1,218.2 217.1,218.1 217.0,218.1 217.0,218.0 217.0,218.0 216.9,217.9 216.9,217.9 216.9,217.8 216.9,217.7 216.9,217.7 216.9,214.0 216.9,214.0 216.9,214.0 213.1,214.0 213.0,214.0 213.0,214.0 212.9,214.0 209.5,213.0 209.5,213.0 209.5,213.0 209.2,213.7 209.1,213.7 209.1,213.8 209.1,213.8 209.0,213.9 209.0,213.9 208.9,213.9 208.9,214.0 208.8,214.0 208.7,214.0 208.7,214.0 208.6,214.0 208.6,214.0 208.6,214.0 208.6,214.0 208.6,214.7 208.6,214.7 208.6,214.8 208.6,214.8 208.6,214.9 208.5,214.9 207.5,217.0 207.5,217.0 207.5,217.0 206.5,226.0 206.5,226.0 205.5,240.0 205.5,240.0ZM219.8,302.0 220.0,310.0 220.0,310.0 220.0,310.0 222.0,316.0 222.0,316.0 222.0,316.0 227.0,316.0 227.0,316.0 227.0,316.0 229.0,310.0 229.0,310.0 229.0,310.0 227.0,302.0 227.0,302.0 227.0,302.0 223.0,300.5 223.0,300.5 223.0,300.5 219.8,302.0 219.8,302.0ZM202.0,335.3 201.9,335.1 201.9,335.0 201.9,334.8 201.9,334.8 201.8,334.6 201.8,334.6 201.7,334.3 201.7,334.3 201.6,334.1 201.6,334.1 201.5,333.8 201.5,333.8 201.4,333.6 201.4,333.6 201.2,333.3 201.2,333.3 201.1,333.1 201.1,333.1 200.9,332.9 200.9,332.9 200.7,332.7 200.7,332.7 200.5,332.5 200.5,332.4 200.3,332.2 200.3,332.2 200.1,332.1 200.1,332.0 199.8,331.9 199.8,331.9 199.6,331.7 199.6,331.7 199.4,331.5 199.3,331.5 199.1,331.4 199.1,331.4 198.8,331.3 198.8,331.2 198.6,331.1 198.6,331.1 198.3,331.0 198.3,331.0 198.1,330.9 198.1,330.9 197.8,330.9 197.8,330.9 197.5,330.8 197.5,330.8 197.3,330.8 197.3,330.7 197.0,330.7 197.0,330.7 196.8,330.7 196.8,330.7 196.5,330.7 196.5,330.7 196.3,330.7 196.3,330.7 196.1,330.8 196.0,330.8 195.8,330.8 195.8,330.8 195.6,330.9 195.6,330.9 195.4,331.0 195.4,331.0 195.2,331.1 195.2,331.1 195.0,331.2 195.0,331.2 194.9,331.3 194.8,331.3 194.7,331.4 194.7,331.5 194.6,331.6 194.5,331.6 194.4,331.8 194.4,331.8 194.3,331.9 194.3,332.0 194.2,332.1 194.2,332.2 194.1,332.3 194.1,332.4 194.1,332.5 194.1,332.6 194.0,332.8 194.0,332.8 194.0,333.0 194.0,333.0 194.0,333.2 194.0,333.2 194.0,333.4 194.0,333.5 194.0,333.7 194.0,333.7 194.1,333.9 194.1,334.0 194.1,334.2 194.1,334.2 194.2,334.4 194.2,334.4 194.3,334.7 194.3,334.7 194.4,334.9 194.4,334.9 194.5,335.2 194.5,335.2 194.6,335.4 194.6,335.4 194.8,335.7 194.8,335.7 194.9,335.9 194.9,335.9 195.1,336.1 195.1,336.1 195.3,336.3 195.3,336.3 195.5,336.5 195.5,336.6 195.7,336.8 195.7,336.8 195.9,336.9 195.9,337.0 196.2,337.1 196.2,337.1 196.4,337.3 196.4,337.3 196.6,337.5 196.7,337.5 196.9,337.6 196.9,337.6 197.2,337.7 197.2,337.8 197.4,337.9 197.4,337.9 197.7,338.0 197.7,338.0 197.9,338.1 197.9,338.1 198.2,338.1 198.2,338.1 198.5,338.2 198.5,338.2 198.7,338.2 198.7,338.3 199.0,338.3 199.0,338.3 199.2,338.3 199.2,338.3 199.5,338.3 199.5,338.3 199.7,338.3 199.7,338.3 199.9,338.2 200.0,338.2 200.2,338.2 200.2,338.2 200.4,338.1 200.4,338.1 200.6,338.0 200.6,338.0 200.8,337.9 200.8,337.9 201.0,337.8 201.0,337.8 201.1,337.7 201.2,337.7 201.3,337.6 201.3,337.5 201.4,337.4 201.5,337.4 201.6,337.2 201.6,337.2 201.7,337.1 201.7,337.0 201.8,336.9 201.8,336.8 201.9,336.7 201.9,336.6 201.9,336.5 201.9,336.4 202.0,336.2 202.0,336.2 202.0,336.0 202.0,336.0 202.0,335.8 202.0,335.8 202.0,335.6 202.0,335.5 202.0,335.3ZM186.7,207.1 187.5,215.0 187.5,215.0 187.5,215.0 190.6,222.9 190.6,222.9 191.3,224.6 191.3,224.7 191.8,226.6 191.8,226.6 191.8,226.6 192.3,227.2 192.4,227.3 192.4,227.3 192.4,227.4 192.8,228.3 192.8,228.4 192.8,228.4 192.8,228.5 192.9,229.8 192.9,229.8 193.0,229.8 193.0,229.8 193.1,229.8 193.2,229.8 193.2,229.9 193.3,229.9 193.3,229.9 193.4,229.9 193.4,230.0 193.5,230.0 193.5,230.1 193.5,230.1 193.6,230.2 193.8,230.8 193.8,230.8 193.8,230.8 196.0,231.9 196.0,231.9 196.1,232.0 196.1,232.0 196.2,232.0 196.4,232.3 196.4,232.3 196.4,232.3 196.5,232.3 196.5,232.3 196.6,232.3 196.6,232.3 196.7,232.3 196.7,232.3 196.8,232.3 196.9,232.3 197.0,232.4 197.0,232.4 197.0,232.4 200.1,227.7 200.1,227.7 200.1,227.7 200.1,216.7 200.1,216.6 200.1,216.6 200.1,216.6 199.5,202.8 199.5,202.8 199.5,202.8 198.8,202.7 198.7,202.7 198.6,202.7 198.6,202.6 198.5,202.6 198.5,202.6 198.4,202.5 198.4,202.5 198.4,202.4 198.3,202.4 198.3,202.3 198.3,202.3 198.3,202.2 198.1,201.1 198.1,201.1 198.1,201.1 197.2,201.1 197.1,201.1 197.1,201.1 197.0,201.1 196.9,201.1 196.9,201.0 196.8,201.0 196.8,201.0 196.8,200.9 196.7,200.9 196.7,200.8 196.6,200.8 196.2,200.0 196.2,200.0 196.2,200.0 189.0,200.8 189.0,200.8 189.0,200.8 186.7,207.1 186.7,207.1ZM192.0,319.8 191.8,319.6 191.8,319.6 191.6,319.4 191.6,319.4 191.3,319.2 191.3,319.2 191.1,319.1 191.1,319.1 190.9,319.0 190.9,319.0 190.7,318.9 190.6,318.9 190.4,318.8 190.4,318.8 190.2,318.8 190.2,318.8 190.0,318.7 189.9,318.7 189.8,318.7 189.7,318.7 189.5,318.7 189.5,318.7 189.3,318.8 189.3,318.8 189.1,318.8 189.1,318.8 188.9,318.9 188.9,318.9 188.8,319.0 188.7,319.0 188.6,319.1 188.6,319.2 188.4,319.3 188.4,319.3 188.3,319.4 188.2,319.5 188.1,319.6 188.1,319.7 188.0,319.8 188.0,319.9 187.9,320.1 187.9,320.1 187.8,320.3 187.8,320.3 187.7,320.6 187.7,320.6 187.6,320.8 187.6,320.8 187.5,321.1 187.5,321.1 187.5,321.4 187.5,321.4 187.5,321.7 187.5,321.7 187.5,322.0 187.5,322.0 187.5,322.4 187.5,322.4 187.5,322.7 187.5,322.7 187.5,323.0 187.5,323.0 187.5,323.4 187.5,323.4 187.6,323.7 187.6,323.7 187.7,324.1 187.7,324.1 187.8,324.4 187.8,324.4 187.9,324.7 187.9,324.8 188.0,325.1 188.0,325.1 188.1,325.4 188.1,325.4 188.3,325.8 188.3,325.8 188.4,326.1 188.4,326.1 188.6,326.4 188.6,326.4 188.8,326.7 188.8,326.7 188.9,327.0 188.9,327.0 189.1,327.3 189.1,327.3 189.3,327.5 189.3,327.5 189.5,327.8 189.5,327.8 189.8,328.0 189.8,328.0 190.0,328.2 190.0,328.2 190.2,328.4 190.2,328.4 190.4,328.6 190.4,328.6 190.7,328.8 190.7,328.8 190.9,328.9 190.9,328.9 191.1,329.0 191.1,329.0 191.3,329.1 191.4,329.1 191.6,329.2 191.6,329.2 191.8,329.2 191.8,329.2 192.0,329.3 192.1,329.3 192.2,329.3 192.3,329.3 192.5,329.3 192.5,329.3 192.7,329.2 192.7,329.2 192.9,329.2 192.9,329.2 193.1,329.1 193.1,329.1 193.2,329.0 193.3,329.0 193.4,328.9 193.4,328.8 193.6,328.7 193.6,328.7 193.7,328.6 193.8,328.5 193.9,328.4 193.9,328.3 194.0,328.2 194.0,328.1 194.1,327.9 194.1,327.9 194.2,327.7 194.2,327.7 194.3,327.4 194.3,327.4 194.4,327.2 194.4,327.2 194.5,326.9 194.5,326.9 194.5,326.6 194.5,326.6 194.5,326.3 194.5,326.3 194.5,326.0 194.5,326.0 194.5,325.6 194.5,325.6 194.5,325.3 194.5,325.3 194.5,325.0 194.5,325.0 194.5,324.6 194.5,324.6 194.4,324.3 194.4,324.3 194.3,323.9 194.3,323.9 194.2,323.6 194.2,323.6 194.1,323.3 194.1,323.2 194.0,322.9 194.0,322.9 193.9,322.6 193.9,322.6 193.7,322.2 193.7,322.2 193.6,321.9 193.6,321.9 193.4,321.6 193.4,321.6 193.2,321.3 193.2,321.3 193.1,321.0 193.1,321.0 192.9,320.7 192.9,320.7 192.7,320.5 192.7,320.5 192.5,320.2 192.5,320.2 192.2,320.0 192.2,320.0 192.0,319.8ZM127.0,276.8 127.0,323.1 127.0,323.1 127.0,323.1 139.0,324.0 139.0,324.0 157.0,323.0 157.0,323.0 176.0,322.0 176.0,322.0 176.0,322.0 179.0,316.0 179.0,316.0 179.0,316.0 174.0,308.0 174.0,308.0 174.0,308.0 168.0,301.0 168.0,301.0 168.0,301.0 160.1,300.0 160.0,300.0 160.0,300.0 159.9,300.0 152.4,296.6 152.3,296.6 152.3,296.5 152.2,296.5 152.2,296.5 152.1,296.4 152.1,296.4 152.1,296.3 152.0,296.3 152.0,296.2 152.0,296.2 152.0,296.1 152.0,296.1 152.0,291.6 152.0,291.6 152.0,291.6 146.8,291.6 146.8,291.6 146.7,291.6 146.7,291.6 146.6,291.6 146.6,291.5 146.5,291.5 146.5,291.5 146.4,291.4 143.0,288.0 143.0,288.0 143.0,288.0 134.0,282.0 134.0,282.0 127.0,276.8 127.0,276.8Z" fill="#b0b0b0" fill-rule="evenodd"/><path d="M1023.4,188.1 1025.4,201.5 1025.4,201.5 1025.4,201.5 1033.0,205.3 1033.0,205.3 1033.0,205.3 1048.2,205.3 1048.2,205.3 1048.3,205.3 1048.3,205.3 1048.4,205.3 1048.4,205.4 1048.5,205.4 1048.5,205.4 1048.6,205.5 1053.1,210.0 1053.1,210.0 1053.1,210.0 1053.2,210.1 1053.2,210.1 1053.2,210.2 1053.2,210.2 1053.2,210.3 1055.1,225.5 1055.1,225.5 1055.1,225.5 1059.9,233.2 1059.9,233.2 1059.9,233.2 1067.6,235.1 1067.6,235.1 1067.6,235.1 1073.6,233.5 1073.6,233.5 1073.7,233.5 1073.7,233.5 1074.2,233.5 1074.2,233.5 1074.2,233.5 1074.2,233.5 1074.2,233.4 1074.3,233.4 1074.3,233.3 1074.4,233.3 1074.4,233.3 1074.5,233.3 1082.0,231.3 1082.0,231.3 1082.0,231.3 1082.0,225.5 1082.0,225.5 1082.0,225.5 1076.4,219.9 1076.3,219.8 1076.3,219.8 1076.3,219.7 1076.2,219.7 1076.2,219.6 1076.2,219.6 1076.2,219.5 1076.2,219.5 1075.3,185.2 1075.3,185.2 1075.3,185.2 1069.5,179.4 1069.5,179.4 1069.5,179.4 1028.2,180.4 1028.2,180.4 1028.2,180.4 1023.4,188.1 1023.4,188.1ZM537.0,205.9 541.2,212.6 541.2,212.6 541.3,212.7 541.3,212.7 541.3,212.8 541.3,212.8 541.3,212.9 541.3,222.8 541.3,222.8 541.3,222.8 548.1,231.3 548.1,231.3 553.9,237.2 554.0,237.3 554.0,237.3 554.0,237.4 554.0,237.4 557.4,244.9 557.4,244.9 557.4,244.9 563.0,244.0 563.0,244.0 563.1,244.0 563.1,244.0 563.2,244.0 563.3,244.0 563.3,244.0 563.4,244.1 569.5,248.0 569.6,248.0 569.6,248.0 576.0,246.4 576.0,246.4 576.1,246.3 576.1,246.3 576.2,246.4 576.2,246.4 576.3,246.4 580.6,247.8 580.6,247.8 585.8,248.8 585.8,248.8 585.9,248.8 586.0,248.9 586.0,248.9 586.1,248.9 586.1,249.0 586.1,249.0 586.2,249.1 586.2,249.1 586.2,249.2 586.9,250.8 586.9,250.8 586.9,250.8 594.4,257.2 594.4,257.2 594.4,257.2 596.7,257.6 596.7,257.6 596.8,257.6 596.8,257.7 596.9,257.7 596.9,257.7 600.0,260.0 600.0,260.0 612.0,268.0 612.0,268.0 612.0,268.0 621.0,270.0 621.0,270.0 621.0,270.0 622.0,264.0 622.0,264.0 622.0,264.0 621.2,263.2 621.2,263.2 621.2,263.2 621.1,263.1 621.1,263.1 621.1,263.0 619.0,256.9 619.0,256.8 619.0,256.7 617.0,242.2 617.0,242.1 617.0,242.1 617.0,242.0 617.0,241.9 617.1,241.9 617.1,241.8 620.8,234.2 620.8,234.2 625.1,227.4 625.1,227.4 625.1,227.4 624.2,203.6 624.2,203.6 624.2,203.6 622.5,201.6 622.4,201.5 622.4,201.5 622.4,201.4 622.4,201.4 622.3,201.3 622.3,201.2 622.2,200.2 622.2,200.2 622.2,200.2 620.6,199.2 620.5,199.2 620.5,199.2 620.4,199.2 620.4,199.1 619.2,197.7 619.2,197.7 619.2,197.7 618.0,197.7 618.0,197.7 617.9,197.7 617.8,197.7 617.8,197.6 617.7,197.6 615.0,196.0 615.0,196.0 614.9,196.0 611.6,197.6 611.5,197.7 611.5,197.7 611.4,197.7 611.4,197.7 611.3,197.7 610.7,197.7 610.7,197.7 610.7,197.7 607.0,199.8 607.0,199.8 606.3,200.1 606.3,200.2 606.2,200.2 606.2,200.2 606.2,200.2 606.1,200.3 606.1,200.3 606.1,200.3 604.7,201.1 604.7,201.1 604.7,201.1 603.9,211.9 603.9,211.9 603.9,212.0 603.9,212.0 603.9,212.1 603.8,212.1 603.8,212.2 603.8,212.2 603.7,212.3 598.5,216.8 598.5,216.8 598.4,216.8 598.4,216.9 598.3,216.9 598.2,216.9 598.2,216.9 598.1,216.9 598.1,216.9 598.0,216.9 597.9,216.9 597.9,216.9 597.8,216.8 597.8,216.8 597.7,216.8 597.7,216.7 597.7,216.7 597.6,216.7 592.1,208.8 592.0,208.7 592.0,208.7 592.0,208.6 592.0,208.6 589.6,199.1 589.6,199.1 589.6,199.1 584.5,194.0 584.5,194.0 584.5,194.0 576.3,192.4 576.3,192.4 576.2,192.3 576.2,192.3 576.1,192.3 576.1,192.2 576.0,192.2 576.0,192.1 575.9,192.1 575.9,192.0 575.9,192.0 573.5,185.6 573.5,185.6 573.5,185.6 567.5,179.6 567.5,179.6 567.5,179.6 543.0,179.6 543.0,179.6 543.0,179.6 538.7,183.9 538.7,183.9 538.7,183.9 537.9,197.4 537.9,197.4 537.0,205.9 537.0,205.9ZM432.8,195.9 432.8,195.8 432.8,195.8 432.8,195.8 432.7,195.8 432.7,195.7 432.7,195.7 432.7,195.7 432.6,195.6 432.6,195.6 432.6,195.6 432.5,195.6 432.5,195.5 432.5,195.5 432.5,195.5 432.4,195.5 432.4,195.5 432.3,195.4 432.3,195.4 432.3,195.4 432.3,195.4 432.2,195.4 432.2,195.4 432.1,195.3 432.1,195.3 432.0,195.3 432.0,195.3 432.0,195.3 431.9,195.3 431.9,195.3 431.9,195.3 431.8,195.3 431.8,195.3 431.7,195.3 431.7,195.3 431.7,195.3 431.6,195.3 431.6,195.3 431.6,195.3 431.5,195.3 431.5,195.3 431.4,195.4 431.4,195.4 431.3,195.4 431.3,195.4 431.3,195.4 431.3,195.4 431.2,195.5 431.2,195.5 431.1,195.5 431.1,195.5 431.1,195.5 431.1,195.6 431.0,195.6 431.0,195.6 431.0,195.6 430.9,195.7 430.9,195.7 430.9,195.7 430.9,195.8 430.8,195.8 430.8,195.8 430.8,195.8 430.8,195.9 430.8,195.9 430.7,196.0 430.7,196.0 430.7,196.0 430.7,196.0 430.7,196.1 430.7,196.1 430.6,196.2 430.6,196.2 430.6,196.3 430.6,196.3 430.6,196.3 430.6,196.4 430.6,196.4 430.6,196.4 430.6,196.5 430.6,196.5 430.6,196.6 430.6,196.6 430.6,196.6 430.6,196.7 430.6,196.7 430.6,196.7 430.6,196.8 430.6,196.8 430.7,196.9 430.7,196.9 430.7,197.0 430.7,197.0 430.7,197.0 430.7,197.0 430.8,197.1 430.8,197.1 430.8,197.2 430.8,197.2 430.8,197.2 430.9,197.2 430.9,197.3 430.9,197.3 430.9,197.3 431.0,197.4 431.0,197.4 431.0,197.4 431.1,197.4 431.1,197.5 431.1,197.5 431.1,197.5 431.2,197.5 431.2,197.5 431.3,197.6 431.3,197.6 431.3,197.6 431.3,197.6 431.4,197.6 431.4,197.6 431.5,197.7 431.5,197.7 431.6,197.7 431.6,197.7 431.6,197.7 431.7,197.7 431.7,197.7 431.7,197.7 431.8,197.7 431.8,197.7 431.9,197.7 431.9,197.7 431.9,197.7 432.0,197.7 432.0,197.7 432.0,197.7 432.1,197.7 432.1,197.7 432.2,197.6 432.2,197.6 432.3,197.6 432.3,197.6 432.3,197.6 432.3,197.6 432.4,197.5 432.4,197.5 432.5,197.5 432.5,197.5 432.5,197.5 432.5,197.4 432.6,197.4 432.6,197.4 432.6,197.4 432.7,197.3 432.7,197.3 432.7,197.3 432.7,197.2 432.8,197.2 432.8,197.2 432.8,197.2 432.8,197.1 432.8,197.1 432.9,197.0 432.9,197.0 432.9,197.0 432.9,197.0 432.9,196.9 432.9,196.9 433.0,196.8 433.0,196.8 433.0,196.7 433.0,196.7 433.0,196.7 433.0,196.6 433.0,196.6 433.0,196.6 433.0,196.5 433.0,196.5 433.0,196.4 433.0,196.4 433.0,196.4 433.0,196.3 433.0,196.3 433.0,196.3 433.0,196.2 433.0,196.2 432.9,196.1 432.9,196.1 432.9,196.0 432.9,196.0 432.9,196.0 432.9,196.0 432.8,195.9ZM385.0,237.2 387.2,241.7 387.3,241.7 387.3,241.8 387.3,241.8 387.3,241.9 387.3,241.9 387.3,245.0 387.3,245.0 387.3,245.0 387.5,245.0 387.6,245.0 387.6,245.0 387.7,245.0 387.8,245.0 387.8,245.1 387.9,245.1 387.9,245.1 387.9,245.2 388.0,245.2 388.0,245.3 388.1,245.3 388.1,245.4 388.1,245.4 388.1,245.5 388.9,250.5 388.9,250.5 389.4,254.7 389.4,254.7 389.4,254.7 391.8,255.4 391.9,255.4 391.9,255.4 392.0,255.5 392.0,255.5 392.1,255.6 392.8,256.3 392.8,256.3 392.8,256.3 392.8,256.2 392.8,256.2 392.9,256.1 392.9,256.1 393.0,256.1 393.0,256.0 393.0,256.0 393.1,256.0 393.1,255.9 393.2,255.9 393.3,255.9 393.3,255.9 393.4,255.9 393.4,255.9 393.5,255.9 393.5,255.9 394.8,256.3 394.8,256.3 394.8,256.3 396.5,244.1 396.5,244.1 396.5,244.0 396.5,244.0 396.6,243.9 396.6,243.9 396.6,243.8 398.0,242.4 398.0,242.4 398.0,242.4 397.2,197.2 397.2,197.2 397.2,197.2 396.3,196.9 396.3,196.9 396.2,196.9 396.2,196.9 396.1,196.8 396.1,196.8 396.0,196.8 396.0,196.7 396.0,196.7 396.0,196.6 395.9,196.6 395.9,196.5 395.9,196.4 395.9,196.4 395.9,195.0 395.9,195.0 395.9,195.0 395.8,195.0 395.8,195.0 395.7,195.0 395.7,194.9 395.6,194.9 395.6,194.9 395.5,194.8 395.5,194.8 395.5,194.7 395.4,194.7 395.4,194.6 395.4,194.6 395.4,194.6 387.3,194.6 387.3,194.6 387.3,194.6 387.3,194.6 387.3,194.7 387.3,194.8 387.3,194.8 387.2,194.9 387.2,194.9 387.2,195.0 387.2,195.0 387.2,195.0 387.2,198.2 387.2,198.2 387.2,198.3 387.2,198.4 387.2,198.4 387.2,198.5 387.1,198.5 387.1,198.6 387.1,198.6 387.0,198.7 386.7,198.9 386.7,198.9 386.7,198.9 385.0,237.2 385.0,237.2ZM357.8,200.5 357.7,200.5 357.7,200.5 357.6,200.5 357.4,200.5 357.3,200.5 357.0,200.6 357.0,200.6 356.7,200.7 356.7,200.7 356.4,200.8 356.4,200.8 356.1,200.9 356.1,200.9 355.8,201.1 355.8,201.1 355.5,201.2 355.5,201.2 355.2,201.4 355.2,201.4 355.0,201.6 354.9,201.6 354.7,201.9 354.7,201.9 354.5,202.1 354.5,202.1 354.2,202.4 354.2,202.4 354.0,202.6 354.0,202.7 353.8,202.9 353.8,203.0 353.7,203.2 353.7,203.3 353.5,203.6 353.5,203.6 353.4,203.9 353.4,203.9 353.3,204.2 353.3,204.2 353.2,204.6 353.2,204.6 353.1,204.9 353.1,204.9 353.0,205.3 353.0,205.3 353.0,205.6 353.0,205.6 353.0,206.0 353.0,206.0 353.0,206.4 353.0,206.4 353.0,206.7 353.0,206.7 353.1,207.1 353.1,207.1 353.2,207.4 353.2,207.4 353.3,207.8 353.3,207.8 353.4,208.1 353.4,208.1 353.5,208.4 353.5,208.4 353.7,208.7 353.7,208.8 353.8,209.0 353.8,209.1 354.0,209.3 354.0,209.4 354.2,209.6 354.2,209.6 354.5,209.9 354.5,209.9 354.7,210.1 354.7,210.1 354.9,210.4 355.0,210.4 355.2,210.6 355.2,210.6 355.5,210.8 355.5,210.8 355.8,210.9 355.8,210.9 356.1,211.1 356.1,211.1 356.4,211.2 356.4,211.2 356.7,211.3 356.7,211.3 357.0,211.4 357.0,211.4 357.3,211.5 357.4,211.5 357.7,211.5 357.7,211.5 357.9,211.5 357.9,211.5 358.0,211.5 358.0,211.5 358.1,211.6 363.3,214.2 363.4,214.2 363.4,214.3 363.4,214.3 363.5,214.3 363.5,214.4 363.6,214.4 363.6,214.5 363.6,214.5 363.6,214.6 363.6,214.6 363.6,214.7 363.6,214.7 363.7,215.1 363.7,215.1 363.8,215.5 363.8,215.5 363.9,215.9 363.9,215.9 364.0,216.2 364.0,216.3 364.2,216.6 364.2,216.6 364.3,216.9 364.3,217.0 364.5,217.3 364.5,217.3 364.7,217.6 364.7,217.6 364.9,217.9 364.9,217.9 365.1,218.1 365.1,218.2 365.3,218.4 365.3,218.4 365.5,218.6 365.5,218.6 365.7,218.8 365.7,218.8 365.8,218.9 365.9,219.0 365.9,219.0 366.0,219.1 366.0,219.1 366.0,219.2 366.7,220.7 366.7,220.7 366.7,220.7 369.3,219.8 369.3,219.8 369.3,219.8 369.6,218.7 369.7,218.6 369.7,218.6 369.7,218.5 369.8,218.5 369.8,218.4 369.9,218.4 370.1,218.2 370.1,218.2 370.3,218.1 370.3,218.1 370.5,217.9 370.5,217.9 370.7,217.7 370.7,217.6 370.8,217.4 370.8,217.4 371.0,217.2 371.0,217.2 371.1,217.0 371.1,216.9 371.2,216.7 371.3,216.7 371.4,216.5 371.4,216.4 371.5,216.2 371.5,216.2 371.6,215.9 371.6,215.9 371.6,215.6 371.6,215.6 371.7,215.4 371.7,215.3 371.7,215.1 371.7,215.1 371.8,214.8 371.8,214.8 371.8,214.5 371.8,214.5 371.8,214.2 371.8,214.2 371.8,213.9 371.8,213.9 371.8,213.6 371.8,213.6 371.7,213.3 371.7,213.3 371.7,213.1 371.7,213.0 371.6,212.8 371.6,212.8 371.6,212.7 371.6,212.6 371.6,212.6 371.6,212.5 371.6,212.4 371.6,212.4 371.6,212.3 372.7,208.7 372.8,208.7 372.8,208.6 372.8,208.5 372.9,208.5 372.9,208.5 372.9,208.4 373.0,208.4 373.1,208.3 373.1,208.3 373.2,208.3 373.2,208.3 373.3,208.3 373.3,208.2 373.4,208.2 373.4,208.2 373.5,208.3 373.6,208.3 373.8,208.3 373.8,208.3 374.0,208.4 374.0,208.4 374.3,208.4 374.3,208.4 374.5,208.5 374.5,208.5 374.7,208.5 374.8,208.5 375.0,208.5 375.0,208.5 375.2,208.5 375.3,208.5 375.5,208.5 375.5,208.5 375.7,208.4 375.7,208.4 376.0,208.4 376.0,208.4 376.2,208.3 376.2,208.3 376.4,208.3 376.5,208.3 376.7,208.2 376.7,208.2 376.9,208.1 376.9,208.1 377.1,208.0 377.1,208.0 377.3,207.9 377.3,207.8 377.5,207.7 377.5,207.7 377.7,207.6 377.7,207.6 377.9,207.4 377.9,207.4 378.1,207.2 378.1,207.2 378.2,207.1 378.3,207.0 378.3,207.0 378.4,206.9 378.4,206.9 378.5,206.9 378.7,206.8 378.8,206.8 379.0,206.7 379.1,206.7 379.3,206.5 379.4,206.5 379.6,206.4 379.6,206.4 379.9,206.2 379.9,206.2 380.1,206.0 380.1,206.0 380.4,205.8 380.4,205.8 380.6,205.6 380.6,205.6 380.8,205.4 380.8,205.4 380.9,205.2 380.9,205.2 381.1,205.0 381.1,204.9 381.2,204.7 381.2,204.7 381.3,204.5 381.3,204.5 381.4,204.3 381.4,204.2 381.4,204.0 381.5,204.0 381.5,203.8 381.5,203.7 381.5,203.5 381.5,203.5 381.5,203.3 381.5,203.3 381.5,203.2 381.5,203.2 381.5,203.1 381.5,203.1 381.6,203.0 381.6,203.0 381.6,202.9 381.7,202.9 381.7,202.8 381.8,202.8 382.4,202.4 382.4,202.4 382.4,202.4 379.8,198.9 379.8,198.9 379.8,198.9 377.2,199.7 377.2,199.8 377.1,199.8 377.0,199.8 377.0,199.8 376.7,199.7 376.7,199.7 376.4,199.7 376.4,199.7 376.0,199.7 376.0,199.7 375.6,199.7 375.6,199.7 375.3,199.7 375.3,199.7 374.9,199.8 374.9,199.8 374.6,199.8 374.6,199.8 374.2,199.9 374.2,199.9 373.9,200.0 373.9,200.0 373.6,200.1 373.6,200.1 373.3,200.2 373.2,200.2 373.0,200.3 372.9,200.3 372.7,200.5 372.6,200.5 372.4,200.6 372.4,200.6 372.1,200.8 372.1,200.8 371.9,201.0 371.9,201.0 371.6,201.2 371.6,201.2 371.4,201.4 371.4,201.4 371.2,201.6 371.2,201.6 371.1,201.8 371.1,201.8 371.0,201.9 371.0,202.0 370.9,202.0 370.9,202.1 370.8,202.1 370.8,202.1 370.7,202.2 366.2,204.0 366.1,204.0 366.1,204.0 366.0,204.0 366.0,204.0 365.9,204.0 365.9,204.0 365.8,204.0 365.7,204.0 365.7,204.0 365.6,203.9 358.9,199.8 358.9,199.8 358.9,199.8 357.8,200.4ZM209.9,215.3 209.9,221.6 209.9,221.6 209.0,230.0 209.0,230.0 209.0,230.0 210.0,242.0 210.0,242.0 210.0,242.0 215.9,245.0 216.0,245.0 216.1,245.0 222.0,250.0 222.0,250.0 230.0,258.0 230.0,258.0 230.0,258.0 235.3,258.0 235.4,258.0 235.4,258.0 235.5,258.0 235.5,258.0 235.6,258.1 235.6,258.1 235.7,258.1 236.8,259.0 236.8,259.0 236.8,259.0 236.9,259.0 236.9,259.0 237.0,259.1 237.0,259.1 237.1,259.1 237.1,259.1 237.2,259.2 237.2,259.2 237.3,259.3 237.3,259.3 237.3,259.4 237.3,259.4 239.0,265.0 239.0,265.0 239.0,265.0 247.0,273.0 247.0,273.0 255.0,280.0 255.0,280.0 255.0,280.0 260.5,278.0 260.5,278.0 260.5,278.0 261.5,269.0 261.5,269.0 261.5,269.0 259.5,265.5 259.5,265.5 259.5,265.4 259.5,265.3 259.5,265.3 259.5,265.2 259.5,265.2 259.5,265.1 259.5,265.1 259.5,265.0 259.5,265.0 261.0,262.0 261.0,262.0 263.0,256.1 263.0,256.1 263.0,256.0 263.0,256.0 263.1,255.9 264.1,254.8 264.1,254.8 264.2,254.7 264.3,254.7 264.3,254.7 264.4,254.6 264.4,254.6 264.5,254.6 264.5,254.6 270.5,254.6 270.5,254.6 270.5,254.6 270.5,190.4 270.5,190.4 270.5,190.4 261.7,190.4 261.7,190.4 261.7,190.4 261.7,232.1 261.7,232.2 261.7,232.2 261.7,232.3 261.7,232.4 261.6,232.4 261.6,232.5 261.6,232.5 260.0,234.3 260.0,234.3 259.9,234.3 259.9,234.4 259.8,234.4 259.8,234.4 259.7,234.4 259.7,234.5 259.6,234.5 259.5,234.5 259.5,234.5 259.4,234.5 259.4,234.4 259.3,234.4 259.3,234.4 259.2,234.4 259.2,234.3 259.1,234.3 259.1,234.2 259.1,234.2 259.0,234.1 259.0,234.1 259.0,234.0 259.0,234.0 257.9,227.6 257.9,227.6 257.9,227.6 253.5,218.9 253.5,218.9 253.5,218.9 247.9,226.0 247.9,226.0 245.1,229.4 245.1,229.4 245.0,229.4 245.0,229.5 244.9,229.5 244.9,229.5 244.8,229.6 244.8,229.6 244.7,229.6 244.6,229.6 244.6,229.6 242.8,229.3 242.8,229.3 242.7,229.3 242.6,229.3 242.6,229.2 242.5,229.2 242.5,229.2 242.5,229.1 242.4,229.1 242.4,229.0 242.4,229.0 242.3,228.9 242.3,228.9 240.6,222.9 240.6,222.9 237.7,215.3 237.7,215.3 237.7,215.3 230.8,213.0 230.8,213.0 230.8,213.0 224.2,216.3 224.2,216.3 224.2,216.3 223.9,217.0 223.9,217.1 223.8,217.1 223.8,217.2 223.8,217.2 223.7,217.2 219.3,220.8 219.2,220.8 219.2,220.8 219.1,220.9 219.1,220.9 219.0,220.9 219.0,220.9 218.9,220.9 218.8,220.9 218.8,220.9 218.7,220.9 218.7,220.9 216.0,219.8 215.9,219.8 215.9,219.7 215.8,219.7 215.8,219.7 215.7,219.6 215.7,219.6 215.7,219.5 215.6,219.5 215.6,219.4 215.6,219.4 215.6,219.3 215.6,219.2 215.6,215.3 215.6,215.3 215.6,215.3 209.9,215.3 209.9,215.3ZM222.0,303.5 222.5,312.5 222.5,312.5 222.5,312.5 225.0,313.0 225.0,313.0 225.0,313.0 226.6,308.0 226.6,308.0 226.6,308.0 225.5,303.5 225.5,303.5 225.5,303.5 222.0,303.5 222.0,303.5ZM191.4,202.4 190.6,207.1 190.6,207.1 190.6,207.1 190.6,216.6 190.6,216.6 190.6,216.6 193.0,226.0 193.0,226.0 193.0,226.0 193.9,227.2 194.0,227.2 194.0,227.3 194.0,227.3 194.0,227.4 194.1,227.4 194.1,227.5 194.1,228.1 194.1,228.2 194.1,228.2 194.2,228.1 194.3,228.1 194.4,228.1 194.4,228.1 194.5,228.1 194.5,228.1 194.6,228.1 194.6,228.2 194.7,228.2 194.7,228.2 194.8,228.2 194.8,228.3 194.9,228.3 196.2,230.0 196.2,230.0 196.2,230.0 197.7,227.4 197.7,227.3 197.8,227.3 197.8,227.3 197.9,227.2 197.9,227.2 198.0,227.2 198.0,227.1 198.1,227.1 198.5,227.0 198.5,227.0 198.5,227.0 198.8,216.6 198.8,216.6 198.3,203.9 198.3,203.9 198.2,203.9 197.6,203.8 197.6,203.8 197.5,203.8 197.4,203.7 197.4,203.7 197.3,203.7 197.3,203.6 197.3,203.6 197.2,203.5 197.2,203.5 197.2,203.4 197.2,203.4 197.1,203.3 197.0,202.4 197.0,202.4 197.0,202.4 191.4,202.4 191.4,202.4ZM127.0,318.3 135.0,321.0 135.0,321.0 135.0,321.0 147.0,322.0 147.0,322.0 147.0,322.0 157.3,321.3 157.3,321.3 157.4,321.3 157.4,321.3 157.4,321.3 157.4,321.3 157.5,321.3 162.0,321.0 162.0,321.0 162.0,321.0 168.0,316.0 168.0,316.0 168.0,316.0 166.0,306.0 166.0,306.0 166.0,306.0 159.0,304.0 159.0,304.0 139.0,296.0 139.0,296.0 127.0,289.5 127.0,289.5 127.0,289.6 127.0,318.3 127.0,318.3Z" fill="#8f8f8f" fill-rule="evenodd"/><path d="M1026.3,189.0 1028.2,199.6 1028.2,199.6 1028.2,199.6 1035.0,201.5 1035.0,201.5 1035.0,201.5 1052.9,202.5 1053.0,202.5 1053.0,202.5 1053.1,202.5 1053.1,202.5 1053.2,202.6 1053.2,202.6 1053.3,202.7 1053.3,202.7 1053.4,202.7 1056.9,208.1 1056.9,208.1 1057.0,208.2 1057.0,208.2 1057.0,208.3 1057.0,208.3 1058.9,223.6 1058.9,223.6 1058.9,223.6 1063.7,232.2 1063.7,232.2 1063.7,232.2 1073.3,232.2 1073.3,232.2 1073.3,232.2 1075.3,227.4 1075.3,227.4 1075.3,227.4 1072.4,214.1 1072.4,214.0 1072.4,213.9 1071.4,189.0 1071.4,189.0 1071.4,189.0 1067.6,183.3 1067.6,183.3 1067.6,183.3 1030.2,184.2 1030.2,184.2 1030.2,184.2 1026.3,189.0 1026.3,189.0ZM541.3,202.5 543.8,208.4 543.8,208.4 545.4,212.5 545.4,212.6 545.5,212.6 545.5,212.7 545.5,212.7 545.5,212.8 545.4,212.8 545.4,212.9 543.8,217.8 543.8,217.8 543.8,217.8 544.7,222.8 544.7,222.8 544.7,222.8 551.4,228.8 551.4,228.8 556.5,234.7 556.5,234.7 556.5,234.7 560.1,235.5 560.2,235.5 560.2,235.5 560.3,235.5 560.3,235.6 560.4,235.6 560.4,235.6 560.4,235.7 560.5,235.7 560.5,235.8 560.5,235.8 563.1,242.4 563.1,242.4 563.2,242.4 569.8,246.6 569.8,246.6 569.8,246.6 580.7,243.8 580.7,243.8 580.8,243.8 581.1,243.6 581.1,243.6 581.2,243.5 581.2,243.5 581.3,243.5 581.3,243.5 581.4,243.5 581.4,243.5 581.5,243.5 581.5,243.5 585.1,244.4 585.1,244.4 585.1,244.4 585.3,244.4 585.3,244.4 585.4,244.4 585.4,244.5 585.5,244.5 585.5,244.5 585.6,244.5 585.6,244.6 585.7,244.6 585.7,244.7 585.7,244.7 585.8,244.8 588.0,250.0 588.0,250.0 588.0,250.0 595.0,256.0 595.0,256.0 595.0,256.0 601.0,257.0 601.0,257.0 601.0,257.0 602.0,250.0 602.0,250.0 602.0,250.0 599.6,246.4 599.6,246.4 599.6,246.3 599.5,246.3 599.5,246.2 599.5,246.2 599.5,246.1 599.5,246.0 599.5,246.0 599.5,245.9 599.6,245.9 599.6,245.8 599.6,245.8 599.7,245.7 599.7,245.7 599.7,245.6 599.8,245.6 599.8,245.6 599.9,245.5 599.9,245.5 600.0,245.5 600.1,245.5 600.1,245.5 605.5,245.5 605.5,245.5 605.5,245.5 612.0,236.1 612.0,236.0 612.0,236.0 616.6,231.6 616.6,231.6 616.7,231.6 622.5,228.0 622.5,228.0 622.5,228.0 622.5,213.8 622.5,213.8 621.0,201.0 621.0,201.0 621.0,201.0 614.9,197.5 614.9,197.5 614.9,197.5 607.5,201.0 607.5,201.0 607.5,201.0 606.4,218.9 606.4,218.9 605.7,223.5 605.7,223.6 605.6,223.6 605.6,223.7 605.6,223.7 605.6,223.8 605.5,223.8 605.5,223.9 605.4,223.9 605.4,223.9 605.3,224.0 605.3,224.0 605.2,224.0 605.1,224.0 605.1,224.0 599.0,224.0 598.9,224.0 598.9,224.0 598.8,224.0 598.8,224.0 598.7,223.9 598.7,223.9 590.5,219.0 590.5,219.0 590.4,219.0 590.4,218.9 590.3,218.9 590.3,218.8 590.3,218.8 590.3,218.7 590.2,218.7 589.4,215.3 589.4,215.2 589.1,213.5 589.1,213.5 588.5,211.1 588.5,211.0 587.0,200.8 587.0,200.8 587.0,200.8 582.8,196.6 582.8,196.6 582.8,196.6 573.8,195.0 573.8,194.9 573.7,194.9 573.7,194.9 573.6,194.9 573.6,194.8 573.5,194.8 573.5,194.7 573.4,194.7 573.4,194.6 573.4,194.6 570.9,188.1 570.9,188.1 570.9,188.1 565.8,182.2 565.8,182.2 565.8,182.2 545.5,182.2 545.5,182.2 545.5,182.2 542.1,184.7 542.1,184.7 542.1,184.7 541.3,202.5 541.3,202.5ZM388.5,196.3 388.6,202.1 388.6,202.1 388.6,243.7 388.6,243.7 388.6,243.7 388.9,243.7 389.0,243.7 389.0,243.7 389.1,243.7 389.1,243.7 389.2,243.8 389.2,243.8 389.3,243.8 389.3,243.9 389.4,243.9 389.4,244.0 389.4,244.0 389.5,244.1 389.5,244.1 389.5,244.2 389.5,244.2 390.6,253.7 390.6,253.7 390.6,253.7 393.7,254.6 393.7,254.6 393.7,254.6 395.4,242.4 395.4,242.4 395.4,242.4 394.6,196.3 394.6,196.3 394.6,196.3 394.5,196.3 394.5,196.3 394.4,196.2 394.4,196.2 394.3,196.2 394.3,196.1 394.2,196.1 394.2,196.1 394.2,196.0 394.1,196.0 394.1,195.9 394.1,195.9 394.1,195.9 388.6,195.9 388.6,195.9 388.6,195.9 388.6,196.0 388.6,196.0 388.6,196.1 388.6,196.2 388.5,196.2 388.5,196.3 388.5,196.3 388.5,196.3ZM377.3,203.9 377.3,203.8 377.2,203.8 377.1,203.7 377.1,203.7 377.0,203.6 377.0,203.5 376.9,203.5 376.9,203.4 376.8,203.4 376.8,203.3 376.7,203.3 376.6,203.3 376.5,203.2 376.5,203.2 376.4,203.1 376.3,203.1 376.2,203.0 376.2,203.0 376.0,203.0 376.0,203.0 375.9,202.9 375.9,202.9 375.7,202.9 375.7,202.9 375.5,202.8 375.5,202.8 375.4,202.8 375.3,202.8 375.2,202.8 375.2,202.8 375.0,202.8 375.0,202.8 374.8,202.8 374.8,202.8 374.7,202.8 374.6,202.8 374.5,202.8 374.5,202.8 374.3,202.9 374.3,202.9 374.1,202.9 374.1,202.9 374.0,203.0 374.0,203.0 373.8,203.0 373.8,203.0 373.7,203.1 373.6,203.1 373.5,203.2 373.5,203.2 373.4,203.3 373.3,203.3 373.2,203.3 373.2,203.4 373.1,203.4 373.1,203.5 373.0,203.5 373.0,203.6 372.9,203.7 372.9,203.7 372.8,203.8 372.7,203.8 372.7,203.9 372.7,203.9 372.6,204.0 372.6,204.0 372.5,204.1 372.5,204.2 372.4,204.3 372.4,204.3 372.4,204.4 372.4,204.4 372.4,204.6 372.3,204.6 372.3,204.7 372.3,204.7 372.3,204.8 372.3,204.9 372.3,205.0 372.3,205.0 372.3,205.1 372.3,205.2 372.3,205.3 372.3,205.3 372.3,205.4 372.4,205.4 372.4,205.6 372.4,205.6 372.4,205.7 372.4,205.7 372.5,205.8 372.5,205.9 372.6,206.0 372.6,206.0 372.7,206.1 372.7,206.1 372.7,206.2 372.8,206.2 372.9,206.3 372.9,206.3 373.0,206.4 373.0,206.5 373.1,206.5 373.1,206.6 373.2,206.6 373.2,206.7 373.3,206.7 373.4,206.7 373.5,206.8 373.5,206.8 373.6,206.9 373.7,206.9 373.8,207.0 373.8,207.0 374.0,207.0 374.0,207.0 374.1,207.1 374.1,207.1 374.3,207.1 374.3,207.1 374.5,207.2 374.5,207.2 374.6,207.2 374.7,207.2 374.8,207.2 374.8,207.2 375.0,207.2 375.0,207.2 375.2,207.2 375.2,207.2 375.3,207.2 375.4,207.2 375.5,207.2 375.5,207.2 375.7,207.1 375.7,207.1 375.9,207.1 375.9,207.1 376.0,207.0 376.0,207.0 376.2,207.0 376.2,207.0 376.3,206.9 376.4,206.9 376.5,206.8 376.5,206.8 376.6,206.7 376.7,206.7 376.8,206.7 376.8,206.6 376.9,206.6 376.9,206.5 377.0,206.5 377.0,206.4 377.1,206.3 377.1,206.3 377.2,206.2 377.3,206.2 377.3,206.1 377.3,206.1 377.4,206.0 377.4,206.0 377.5,205.9 377.5,205.8 377.6,205.7 377.6,205.7 377.6,205.6 377.6,205.6 377.6,205.4 377.7,205.4 377.7,205.3 377.7,205.3 377.7,205.2 377.7,205.1 377.7,205.0 377.7,205.0 377.7,204.9 377.7,204.8 377.7,204.7 377.7,204.7 377.7,204.6 377.6,204.6 377.6,204.4 377.6,204.4 377.6,204.3 377.6,204.3 377.5,204.2 377.5,204.1 377.4,204.0 377.4,204.0 377.3,203.9ZM370.1,212.2 370.0,212.1 370.0,212.1 369.9,211.9 369.9,211.9 369.8,211.7 369.8,211.7 369.7,211.6 369.6,211.6 369.5,211.4 369.5,211.4 369.4,211.3 369.4,211.3 369.3,211.2 369.2,211.2 369.1,211.1 369.1,211.1 369.0,211.0 368.9,211.0 368.8,210.9 368.8,210.9 368.7,210.8 368.6,210.8 368.5,210.8 368.5,210.8 368.3,210.7 368.3,210.7 368.2,210.7 368.1,210.7 368.0,210.7 368.0,210.7 367.9,210.7 367.8,210.7 367.7,210.7 367.7,210.7 367.5,210.8 367.5,210.8 367.4,210.8 367.3,210.8 367.2,210.9 367.2,210.9 367.1,211.0 367.0,211.0 366.9,211.1 366.9,211.1 366.8,211.2 366.7,211.2 366.6,211.3 366.6,211.3 366.5,211.4 366.5,211.4 366.4,211.6 366.3,211.6 366.2,211.7 366.2,211.7 366.1,211.9 366.1,211.9 366.0,212.1 366.0,212.1 365.9,212.2 365.9,212.3 365.8,212.4 365.8,212.5 365.8,212.6 365.8,212.7 365.7,212.9 365.7,212.9 365.6,213.1 365.6,213.1 365.6,213.3 365.6,213.3 365.5,213.5 365.5,213.5 365.5,213.7 365.5,213.8 365.5,214.0 365.5,214.0 365.5,214.2 365.5,214.2 365.5,214.4 365.5,214.4 365.5,214.6 365.5,214.7 365.5,214.9 365.5,214.9 365.6,215.1 365.6,215.1 365.6,215.3 365.6,215.3 365.7,215.5 365.7,215.5 365.8,215.7 365.8,215.8 365.8,215.9 365.8,216.0 365.9,216.1 365.9,216.2 366.0,216.3 366.0,216.3 366.1,216.5 366.1,216.5 366.2,216.7 366.2,216.7 366.3,216.8 366.4,216.8 366.5,217.0 366.5,217.0 366.6,217.1 366.6,217.1 366.7,217.2 366.8,217.2 366.9,217.3 366.9,217.3 367.0,217.4 367.1,217.4 367.2,217.5 367.2,217.5 367.3,217.6 367.4,217.6 367.5,217.6 367.5,217.6 367.7,217.7 367.7,217.7 367.8,217.7 367.9,217.7 368.0,217.7 368.0,217.7 368.1,217.7 368.2,217.7 368.3,217.7 368.3,217.7 368.5,217.6 368.5,217.6 368.6,217.6 368.7,217.6 368.8,217.5 368.8,217.5 368.9,217.4 369.0,217.4 369.1,217.3 369.1,217.3 369.2,217.2 369.3,217.2 369.4,217.1 369.4,217.1 369.5,217.0 369.5,217.0 369.6,216.8 369.7,216.8 369.8,216.7 369.8,216.7 369.9,216.5 369.9,216.5 370.0,216.3 370.0,216.3 370.1,216.2 370.1,216.1 370.2,216.0 370.2,215.9 370.2,215.8 370.2,215.7 370.3,215.5 370.3,215.5 370.4,215.3 370.4,215.3 370.4,215.1 370.4,215.1 370.5,214.9 370.5,214.9 370.5,214.7 370.5,214.6 370.5,214.4 370.5,214.4 370.5,214.2 370.5,214.2 370.5,214.0 370.5,214.0 370.5,213.8 370.5,213.7 370.5,213.5 370.5,213.5 370.4,213.3 370.4,213.3 370.4,213.1 370.4,213.1 370.3,212.9 370.3,212.9 370.2,212.7 370.2,212.6 370.2,212.5 370.2,212.4 370.1,212.3ZM359.3,204.1 359.2,204.0 359.2,204.0 359.1,203.9 359.1,203.8 359.0,203.7 359.0,203.7 358.9,203.6 358.9,203.6 358.8,203.5 358.8,203.5 358.7,203.4 358.7,203.4 358.5,203.3 358.5,203.2 358.4,203.2 358.4,203.2 358.3,203.1 358.3,203.1 358.1,203.0 358.1,203.0 358.0,202.9 358.0,202.9 357.8,202.9 357.8,202.9 357.7,202.9 357.7,202.8 357.5,202.8 357.5,202.8 357.4,202.8 357.3,202.8 357.2,202.8 357.2,202.8 357.1,202.8 357.0,202.8 356.9,202.8 356.9,202.8 356.7,202.8 356.7,202.9 356.6,202.9 356.6,202.9 356.4,202.9 356.4,202.9 356.3,203.0 356.3,203.0 356.1,203.1 356.1,203.1 356.0,203.2 356.0,203.2 355.9,203.2 355.9,203.3 355.7,203.4 355.7,203.4 355.6,203.5 355.6,203.5 355.5,203.6 355.5,203.6 355.4,203.7 355.4,203.7 355.3,203.8 355.3,203.9 355.2,204.0 355.2,204.0 355.1,204.1 355.1,204.2 355.1,204.3 355.0,204.3 355.0,204.5 355.0,204.5 354.9,204.6 354.9,204.6 354.9,204.8 354.9,204.8 354.8,205.0 354.8,205.0 354.8,205.1 354.8,205.2 354.8,205.3 354.8,205.3 354.8,205.5 354.8,205.5 354.8,205.7 354.8,205.7 354.8,205.8 354.8,205.9 354.8,206.0 354.8,206.0 354.9,206.2 354.9,206.2 354.9,206.4 354.9,206.4 355.0,206.5 355.0,206.5 355.0,206.7 355.1,206.7 355.1,206.8 355.1,206.9 355.2,207.0 355.2,207.0 355.3,207.1 355.3,207.2 355.4,207.3 355.4,207.3 355.5,207.4 355.5,207.4 355.6,207.5 355.6,207.5 355.7,207.6 355.7,207.6 355.9,207.7 355.9,207.8 356.0,207.8 356.0,207.8 356.1,207.9 356.1,207.9 356.3,208.0 356.3,208.0 356.4,208.1 356.4,208.1 356.6,208.1 356.6,208.1 356.7,208.1 356.7,208.2 356.9,208.2 356.9,208.2 357.0,208.2 357.1,208.2 357.2,208.2 357.2,208.2 357.3,208.2 357.4,208.2 357.5,208.2 357.5,208.2 357.7,208.2 357.7,208.1 357.8,208.1 357.8,208.1 358.0,208.1 358.0,208.1 358.1,208.0 358.1,208.0 358.3,207.9 358.3,207.9 358.4,207.8 358.4,207.8 358.5,207.8 358.5,207.7 358.7,207.6 358.7,207.6 358.8,207.5 358.8,207.5 358.9,207.4 358.9,207.4 359.0,207.3 359.0,207.3 359.1,207.2 359.1,207.1 359.2,207.0 359.2,207.0 359.3,206.9 359.3,206.8 359.3,206.7 359.4,206.7 359.4,206.5 359.4,206.5 359.5,206.4 359.5,206.4 359.5,206.2 359.5,206.2 359.6,206.0 359.6,206.0 359.6,205.9 359.6,205.8 359.6,205.7 359.6,205.7 359.6,205.5 359.6,205.5 359.6,205.3 359.6,205.3 359.6,205.2 359.6,205.1 359.6,205.0 359.6,205.0 359.5,204.8 359.5,204.8 359.5,204.6 359.5,204.6 359.4,204.5 359.4,204.5 359.4,204.3 359.3,204.3 359.3,204.2ZM263.0,191.7 263.0,253.3 263.0,253.3 263.0,253.3 269.2,253.3 269.2,253.3 269.2,253.3 269.2,191.7 269.2,191.7 269.2,191.7 263.0,191.7 263.0,191.7ZM221.7,225.0 221.0,236.3 221.0,236.3 221.0,236.4 222.6,248.2 222.6,248.2 222.6,248.2 230.3,252.4 230.3,252.4 230.3,252.4 237.1,257.5 237.1,257.6 237.1,257.5 243.1,255.5 243.2,255.5 243.2,255.5 244.9,244.5 244.9,244.4 246.0,240.2 246.0,240.2 246.0,240.1 246.0,240.1 246.1,240.0 246.1,240.0 246.1,239.9 246.2,239.9 246.2,239.8 246.3,239.8 246.3,239.8 246.4,239.8 246.4,239.8 246.5,239.8 246.6,239.8 246.6,239.8 246.7,239.8 246.7,239.8 249.6,240.8 249.6,240.8 249.6,240.8 255.1,241.7 255.2,241.7 255.2,241.7 258.4,238.3 258.4,238.3 258.4,238.3 256.7,228.0 256.6,228.0 256.6,228.0 253.2,221.3 253.2,221.3 253.2,221.3 248.9,226.8 248.9,226.8 245.7,230.7 245.6,230.8 245.6,230.8 245.5,230.9 245.5,230.9 245.4,230.9 245.4,230.9 245.3,231.0 245.2,231.0 245.2,231.0 245.1,231.0 241.8,230.5 241.7,230.5 241.7,230.5 241.6,230.4 241.6,230.4 241.5,230.4 241.5,230.3 241.4,230.3 241.4,230.3 241.4,230.2 241.3,230.2 241.3,230.1 241.3,230.1 239.3,223.3 239.3,223.3 236.7,216.4 236.7,216.4 236.7,216.4 230.9,214.4 230.9,214.4 230.9,214.4 225.2,217.2 225.2,217.2 225.2,217.3 221.7,225.0 221.7,225.0ZM211.2,216.6 211.2,235.6 211.2,235.6 211.2,235.6 214.3,235.6 214.3,235.6 214.3,235.6 214.3,216.6 214.3,216.6 214.3,216.6 211.2,216.6 211.2,216.6ZM194.4,204.5 194.6,216.6 194.6,216.6 195.3,226.5 195.3,226.5 195.3,226.5 197.2,226.0 197.2,226.0 197.2,226.0 197.5,216.6 197.5,216.6 197.0,205.0 197.0,205.0 197.0,205.0 194.4,204.5 194.4,204.5ZM129.0,310.0 129.0,310.0 134.0,316.0 134.0,316.0 134.0,316.0 145.0,319.5 145.0,319.5 145.0,319.5 157.0,320.0 157.0,320.0 157.0,320.0 163.0,316.0 163.0,316.0 163.0,316.0 162.0,308.0 162.0,308.0 162.0,308.0 153.0,305.0 153.0,305.0 153.0,305.0 152.8,305.0 152.7,305.0 152.7,304.9 152.6,304.9 152.5,304.9 151.3,304.2 151.3,304.2 151.3,304.2 148.0,304.4 147.9,304.4 147.9,304.4 141.0,303.5 141.0,303.5 129.0,302.8 129.0,302.8 129.0,302.8 129.0,310.0Z" fill="#707070" fill-rule="evenodd"/><path d="M1029.2,189.0 1030.2,196.7 1030.2,196.7 1030.2,196.7 1035.0,198.6 1035.0,198.6 1035.0,198.6 1048.3,197.7 1048.3,197.7 1048.4,197.7 1048.5,197.7 1048.5,197.7 1057.7,200.4 1057.8,200.4 1057.9,200.5 1057.9,200.5 1058.0,200.5 1058.0,200.6 1058.1,200.6 1058.1,200.7 1058.1,200.7 1060.8,206.2 1060.9,206.2 1060.9,206.3 1060.9,206.4 1060.9,206.4 1061.8,221.7 1061.8,221.7 1061.8,221.7 1065.7,230.3 1065.7,230.3 1065.7,230.3 1071.4,229.3 1071.4,229.3 1071.4,229.3 1068.5,214.0 1068.5,214.0 1068.5,214.0 1067.6,191.0 1067.6,191.0 1067.6,191.0 1065.7,186.2 1065.7,186.2 1065.7,186.2 1033.0,187.1 1033.0,187.1 1033.0,187.1 1029.2,189.0 1029.2,189.0ZM609.8,202.0 609.2,215.0 609.2,215.0 609.2,215.0 610.5,226.5 610.5,226.5 610.5,226.5 616.0,228.5 616.0,228.5 616.0,228.5 620.3,226.0 620.3,226.0 620.3,226.0 619.8,206.0 619.8,206.0 619.8,206.0 616.5,200.5 616.5,200.5 616.5,200.5 609.8,202.0 609.8,202.0ZM543.8,194.0 545.5,202.5 545.5,202.5 545.5,202.5 548.9,207.6 548.9,207.6 548.9,207.6 554.0,209.8 554.0,209.8 554.1,209.8 554.1,209.8 554.2,209.9 554.2,209.9 554.3,210.0 554.3,210.0 554.3,210.1 554.3,210.1 554.3,210.2 554.4,210.2 554.4,210.3 554.4,210.4 554.3,210.4 554.3,210.5 554.3,210.5 554.3,210.6 554.3,210.6 554.2,210.7 554.2,210.7 550.6,214.4 550.6,214.4 547.2,217.8 547.2,217.8 547.2,217.8 548.9,222.8 548.9,222.8 548.9,222.8 554.0,226.2 554.0,226.2 554.0,226.2 560.7,232.9 560.8,233.0 560.8,233.0 560.8,233.1 560.8,233.1 564.2,241.5 564.2,241.5 564.2,241.5 570.0,245.2 570.0,245.2 570.0,245.2 580.2,242.6 580.2,242.6 580.2,242.6 585.3,239.2 585.3,239.2 585.3,239.2 588.6,234.2 588.6,234.2 588.6,234.2 589.5,224.0 589.5,224.0 589.5,224.0 587.8,213.8 587.8,213.8 585.3,203.6 585.3,203.6 585.3,203.6 583.6,201.7 583.6,201.7 583.6,201.7 579.4,199.1 579.4,199.1 579.4,199.1 571.2,197.5 571.1,197.4 571.1,197.4 571.0,197.4 571.0,197.4 570.9,197.3 570.9,197.3 570.8,197.2 570.8,197.2 570.8,197.1 567.5,190.6 567.5,190.6 567.5,190.6 564.2,186.4 564.2,186.4 564.2,186.4 548.9,185.6 548.9,185.6 548.9,185.6 544.7,187.3 544.7,187.3 544.7,187.3 543.8,194.0 543.8,194.0ZM389.9,197.2 389.9,242.4 389.9,242.4 389.9,242.4 392.8,242.4 392.8,242.4 392.8,242.4 392.8,197.2 392.8,197.2 392.8,197.2 389.9,197.2 389.9,197.2ZM264.3,193.0 264.3,252.0 264.3,252.0 264.3,252.0 267.9,252.0 267.9,252.0 267.9,252.0 267.9,193.0 267.9,193.0 267.9,193.0 264.3,193.0 264.3,193.0ZM223.0,225.3 222.3,236.3 222.3,236.3 222.3,236.3 223.8,247.4 223.8,247.4 223.8,247.4 231.0,251.3 231.0,251.3 231.0,251.3 237.3,256.1 237.3,256.1 237.3,256.1 242.0,254.5 242.0,254.5 242.0,254.5 243.6,244.2 243.6,244.2 245.0,238.5 245.1,238.5 245.1,238.4 245.1,238.4 245.1,238.3 245.2,238.3 245.2,238.2 245.3,238.2 245.3,238.2 245.4,238.1 245.4,238.1 245.5,238.1 245.5,238.1 245.6,238.1 245.6,238.1 245.7,238.1 245.8,238.1 245.8,238.1 249.9,239.5 249.9,239.5 249.9,239.5 254.7,240.3 254.7,240.3 254.7,240.3 257.0,237.9 257.0,237.9 257.0,237.9 255.4,228.4 255.4,228.4 255.4,228.4 253.0,223.7 253.0,223.7 253.0,223.7 249.9,227.6 249.9,227.6 246.2,232.1 246.2,232.2 246.1,232.2 246.1,232.3 246.0,232.3 246.0,232.3 245.9,232.3 245.8,232.3 245.8,232.4 245.7,232.4 245.7,232.4 240.8,231.7 240.7,231.6 240.7,231.6 240.6,231.6 240.6,231.6 240.5,231.5 240.5,231.5 240.4,231.5 240.4,231.4 240.4,231.4 240.3,231.3 240.3,231.3 240.3,231.2 238.1,223.7 238.1,223.7 235.7,217.4 235.7,217.4 235.7,217.4 231.0,215.8 231.0,215.8 231.0,215.8 226.2,218.2 226.2,218.2 226.2,218.2 223.0,225.3 223.0,225.3ZM142.0,311.0 147.0,315.0 147.0,315.0 147.0,315.0 156.0,314.5 156.0,314.5 156.0,314.5 157.0,309.0 157.0,309.0 157.0,309.0 151.0,305.5 151.0,305.5 151.0,305.5 142.0,306.0 142.0,306.0 142.0,306.0 142.0,311.0 142.0,311.0Z" fill="#555555" fill-rule="evenodd"/>
<line x1="128" y1="321.5" x2="1094" y2="321.5" stroke="#5a5a5a" stroke-width="1" stroke-dasharray="1 1.05"/>
<line x1="128" y1="284.5" x2="1094" y2="284.5" stroke="#5a5a5a" stroke-width="1" stroke-dasharray="1 1.05"/>
<line x1="128" y1="247.5" x2="1094" y2="247.5" stroke="#5a5a5a" stroke-width="1" stroke-dasharray="1 1.05"/>
<line x1="128" y1="209.5" x2="1094" y2="209.5" stroke="#5a5a5a" stroke-width="1" stroke-dasharray="1 1.05"/>
<line x1="128" y1="172.5" x2="1094" y2="172.5" stroke="#5a5a5a" stroke-width="1" stroke-dasharray="1 1.05"/>
<rect x="127.50" y="347.9" width="0.90" height="11.6" fill="#0050ff"/>
<rect x="130.66" y="355.9" width="3.50" height="3.6" fill="#0050ff"/>
<rect x="240.16" y="351.0" width="3.50" height="8.5" fill="#0050ff"/>
<rect x="245.92" y="347.7" width="3.50" height="11.8" fill="#0050ff"/>
<rect x="251.69" y="351.0" width="3.50" height="8.5" fill="#0050ff"/>
<rect x="626.28" y="350.8" width="3.50" height="8.7" fill="#0050ff"/>
<rect x="632.04" y="348.1" width="3.50" height="11.4" fill="#0050ff"/>
<rect x="660.86" y="354.8" width="3.50" height="4.7" fill="#0050ff"/>
<rect x="666.62" y="350.8" width="3.50" height="8.7" fill="#0050ff"/>
<rect x="672.38" y="350.8" width="3.50" height="8.7" fill="#0050ff"/>

<path d="M127.5,297.0 L128.4,297.1 L148.7,301.4 L155.5,305.5 L164.5,302.8 L172.4,297.6 L184.8,280.6 L192.7,273.9 L213.0,260.3 L235.6,275.0 L265.0,287.4 L280.0,298.8 L291.3,309.0 C292.0,309.6 294.2,311.5 295.5,312.3 C296.8,313.1 298.0,313.6 299.2,313.7 C300.4,313.8 301.6,313.4 302.5,312.9 C303.4,312.4 302.9,313.5 304.8,310.6 C306.7,307.7 310.5,302.2 313.9,295.5 C317.3,288.8 321.7,277.4 325.1,270.6 C328.5,263.8 331.0,258.9 334.2,254.8 C337.4,250.8 341.3,247.2 344.3,246.3 C347.3,245.4 349.4,246.6 352.2,249.2 C355.0,251.8 357.5,256.2 361.3,261.6 C365.1,267.1 370.7,277.0 374.8,281.9 C378.9,286.8 382.3,288.3 386.1,290.9 C389.9,293.5 393.6,296.0 397.4,297.7 C401.2,299.4 403.8,300.7 408.7,301.1 C413.6,301.6 421.8,300.8 426.7,300.4 C431.6,300.0 434.7,300.0 437.9,298.7 C441.1,297.4 443.0,296.3 445.8,292.4 C448.6,288.5 451.8,281.7 454.8,275.5 C457.8,269.3 461.1,261.7 463.9,255.1 C466.7,248.5 469.6,240.2 471.8,236.0 C474.1,231.8 475.5,231.2 477.4,229.9 C479.3,228.6 480.9,227.8 483.0,228.1 C485.1,228.3 487.4,229.0 489.8,231.4 C492.2,233.8 494.9,238.5 497.7,242.7 C500.5,246.8 504.1,253.0 506.7,256.3 C509.3,259.6 510.5,260.6 513.5,262.4 C516.5,264.2 521.0,266.0 524.8,266.9 C528.6,267.8 531.6,268.0 536.1,267.6 C540.6,267.2 547.0,265.6 551.9,264.6 C556.8,263.7 561.6,262.6 565.4,261.9 C569.2,261.1 571.5,261.6 574.5,260.1 C577.5,258.6 580.7,255.9 583.5,252.9 C586.3,249.9 588.1,246.2 591.3,241.9 C594.5,237.6 599.2,230.6 602.6,227.2 C606.0,223.8 609.0,222.7 611.6,221.6 C614.2,220.5 616.1,220.3 618.4,220.5 C620.6,220.7 622.5,221.0 625.1,222.7 C627.7,224.4 630.8,227.5 634.2,230.6 C637.6,233.7 641.4,238.4 645.5,241.5 C649.6,244.6 654.3,246.6 659.0,249.1 C663.7,251.6 668.8,254.9 673.7,256.6 C678.6,258.3 683.3,258.6 688.4,259.5 C693.5,260.4 699.9,261.5 704.2,262.2 C708.5,262.9 711.7,264.2 714.3,263.8 C716.9,263.4 717.9,262.3 720.0,260.0 C722.1,257.7 723.9,254.9 726.7,249.8 C729.5,244.7 734.0,235.1 736.8,229.5 C739.6,223.9 741.4,219.6 743.5,216.0 C745.6,212.4 747.3,210.1 749.2,208.1 C751.1,206.1 752.9,204.8 754.8,204.2 C756.7,203.6 758.6,203.9 760.5,204.7 C762.4,205.5 763.7,206.4 766.1,209.2 C768.5,212.0 772.1,217.5 775.1,221.6 C778.1,225.7 781.6,230.7 784.2,234.0 C786.9,237.3 788.0,239.1 791.0,241.5 C794.0,243.9 798.6,246.4 802.2,248.7 C805.8,251.0 809.4,254.0 812.4,255.5 C815.4,257.0 816.7,256.6 820.3,257.7 C823.9,258.8 829.3,260.5 833.8,261.8 C838.3,263.1 844.2,265.0 847.4,265.6 C850.6,266.2 850.9,266.2 853.0,265.6 C855.1,265.0 857.3,265.0 859.8,261.8 C862.2,258.6 864.5,253.1 867.7,246.4 C870.9,239.7 876.0,227.0 879.0,221.6 C882.0,216.2 883.4,216.2 885.6,213.9 C887.8,211.6 890.3,208.9 892.4,207.8 C894.5,206.7 896.0,207.1 898.1,207.5 C900.2,207.9 902.2,208.1 904.8,210.5 C907.4,212.9 910.1,216.9 913.9,221.8 C917.7,226.7 923.3,235.3 927.4,239.8 C931.5,244.3 934.9,245.8 938.7,248.8 C942.5,251.8 947.0,255.9 950.0,257.9 C953.0,259.9 954.1,259.3 956.7,260.8 C959.3,262.3 963.0,265.1 965.8,266.9 C968.6,268.7 969.6,270.6 973.7,271.4 C977.8,272.1 986.8,272.1 990.6,271.4 C994.4,270.6 993.8,271.8 996.3,266.9 C998.8,262.0 1002.6,249.5 1005.8,242.2 C1009.0,234.9 1012.4,228.2 1015.3,223.2 C1018.2,218.2 1020.6,214.8 1023.2,212.1 C1025.8,209.4 1028.7,207.5 1031.1,206.8 C1033.5,206.1 1035.0,206.6 1037.4,208.0 C1039.8,209.4 1042.4,212.0 1045.3,215.3 C1048.2,218.6 1051.4,223.8 1054.8,228.0 C1058.2,232.2 1062.0,236.9 1065.9,240.6 C1069.9,244.3 1074.3,247.2 1078.5,250.1 C1082.7,253.0 1088.5,256.6 1091.1,258.0 C1093.7,259.4 1093.8,258.5 1094.3,258.6" fill="none" stroke="#ff0000" stroke-width="3" stroke-linejoin="round" stroke-linecap="round"/>
<text x="155.5" y="327.0" class="dj" font-size="18" text-anchor="middle">7</text>
<text x="213.1" y="281.8" class="dj" font-size="18" text-anchor="middle">13</text>
<text x="293.5" y="335.5" class="dj" font-size="18" text-anchor="middle">6</text>
<text x="345.5" y="267.2" class="dj" font-size="18" text-anchor="middle">15</text>
<text x="414.3" y="322.5" class="dj" font-size="18" text-anchor="middle">8</text>
<text x="483.0" y="250.2" class="dj" font-size="18" text-anchor="middle">17</text>
<text x="529.7" y="289.0" class="dj" font-size="18" text-anchor="middle">12</text>
<text x="616.7" y="241.9" class="dj" font-size="18" text-anchor="middle">18</text>
<text x="708.6" y="284.8" class="dj" font-size="18" text-anchor="middle">13</text>
<text x="753.7" y="226.1" class="dj" font-size="18" text-anchor="middle">21</text>
<text x="852.8" y="287.0" class="dj" font-size="18" text-anchor="middle">12</text>
<text x="899.0" y="229.2" class="dj" font-size="18" text-anchor="middle">20</text>
<text x="1031.0" y="228.5" class="dj" font-size="18" text-anchor="middle">20</text>
<text x="1094.9" y="281.7" class="dj" font-size="18" text-anchor="middle">13</text>
<rect x="127.5" y="97.5" width="967.0" height="262.0" fill="none" stroke="#000" stroke-width="1.2"/>
<line x1="144.19" y1="359.5" x2="144.19" y2="355.0" stroke="#000" stroke-width="1"/>
<line x1="161.48" y1="359.5" x2="161.48" y2="350.5" stroke="#000" stroke-width="1"/>
<line x1="178.77" y1="359.5" x2="178.77" y2="355.0" stroke="#000" stroke-width="1"/>
<line x1="196.06" y1="359.5" x2="196.06" y2="350.5" stroke="#000" stroke-width="1"/>
<line x1="213.34" y1="359.5" x2="213.34" y2="355.0" stroke="#000" stroke-width="1"/>
<line x1="230.63" y1="359.5" x2="230.63" y2="350.5" stroke="#000" stroke-width="1"/>
<line x1="247.92" y1="359.5" x2="247.92" y2="355.0" stroke="#000" stroke-width="1"/>
<line x1="282.50" y1="359.5" x2="282.50" y2="355.0" stroke="#000" stroke-width="1"/>
<line x1="299.79" y1="359.5" x2="299.79" y2="350.5" stroke="#000" stroke-width="1"/>
<line x1="317.08" y1="359.5" x2="317.08" y2="355.0" stroke="#000" stroke-width="1"/>
<line x1="334.37" y1="359.5" x2="334.37" y2="350.5" stroke="#000" stroke-width="1"/>
<line x1="351.66" y1="359.5" x2="351.66" y2="355.0" stroke="#000" stroke-width="1"/>
<line x1="368.95" y1="359.5" x2="368.95" y2="350.5" stroke="#000" stroke-width="1"/>
<line x1="386.24" y1="359.5" x2="386.24" y2="355.0" stroke="#000" stroke-width="1"/>
<line x1="420.81" y1="359.5" x2="420.81" y2="355.0" stroke="#000" stroke-width="1"/>
<line x1="438.10" y1="359.5" x2="438.10" y2="350.5" stroke="#000" stroke-width="1"/>
<line x1="455.39" y1="359.5" x2="455.39" y2="355.0" stroke="#000" stroke-width="1"/>
<line x1="472.68" y1="359.5" x2="472.68" y2="350.5" stroke="#000" stroke-width="1"/>
<line x1="489.97" y1="359.5" x2="489.97" y2="355.0" stroke="#000" stroke-width="1"/>
<line x1="507.26" y1="359.5" x2="507.26" y2="350.5" stroke="#000" stroke-width="1"/>
<line x1="524.55" y1="359.5" x2="524.55" y2="355.0" stroke="#000" stroke-width="1"/>
<line x1="559.12" y1="359.5" x2="559.12" y2="355.0" stroke="#000" stroke-width="1"/>
<line x1="576.41" y1="359.5" x2="576.41" y2="350.5" stroke="#000" stroke-width="1"/>
<line x1="593.70" y1="359.5" x2="593.70" y2="355.0" stroke="#000" stroke-width="1"/>
<line x1="610.99" y1="359.5" x2="610.99" y2="350.5" stroke="#000" stroke-width="1"/>
<line x1="628.28" y1="359.5" x2="628.28" y2="355.0" stroke="#000" stroke-width="1"/>
<line x1="645.57" y1="359.5" x2="645.57" y2="350.5" stroke="#000" stroke-width="1"/>
<line x1="662.86" y1="359.5" x2="662.86" y2="355.0" stroke="#000" stroke-width="1"/>
<line x1="697.44" y1="359.5" x2="697.44" y2="355.0" stroke="#000" stroke-width="1"/>
<line x1="714.73" y1="359.5" x2="714.73" y2="350.5" stroke="#000" stroke-width="1"/>
<line x1="732.01" y1="359.5" x2="732.01" y2="355.0" stroke="#000" stroke-width="1"/>
<line x1="749.30" y1="359.5" x2="749.30" y2="350.5" stroke="#000" stroke-width="1"/>
<line x1="766.59" y1="359.5" x2="766.59" y2="355.0" stroke="#000" stroke-width="1"/>
<line x1="783.88" y1="359.5" x2="783.88" y2="350.5" stroke="#000" stroke-width="1"/>
<line x1="801.17" y1="359.5" x2="801.17" y2="355.0" stroke="#000" stroke-width="1"/>
<line x1="835.75" y1="359.5" x2="835.75" y2="355.0" stroke="#000" stroke-width="1"/>
<line x1="853.04" y1="359.5" x2="853.04" y2="350.5" stroke="#000" stroke-width="1"/>
<line x1="870.33" y1="359.5" x2="870.33" y2="355.0" stroke="#000" stroke-width="1"/>
<line x1="887.62" y1="359.5" x2="887.62" y2="350.5" stroke="#000" stroke-width="1"/>
<line x1="904.90" y1="359.5" x2="904.90" y2="355.0" stroke="#000" stroke-width="1"/>
<line x1="922.19" y1="359.5" x2="922.19" y2="350.5" stroke="#000" stroke-width="1"/>
<line x1="939.48" y1="359.5" x2="939.48" y2="355.0" stroke="#000" stroke-width="1"/>
<line x1="974.06" y1="359.5" x2="974.06" y2="355.0" stroke="#000" stroke-width="1"/>
<line x1="991.35" y1="359.5" x2="991.35" y2="350.5" stroke="#000" stroke-width="1"/>
<line x1="1008.64" y1="359.5" x2="1008.64" y2="355.0" stroke="#000" stroke-width="1"/>
<line x1="1025.93" y1="359.5" x2="1025.93" y2="350.5" stroke="#000" stroke-width="1"/>
<line x1="1043.22" y1="359.5" x2="1043.22" y2="355.0" stroke="#000" stroke-width="1"/>
<line x1="1060.51" y1="359.5" x2="1060.51" y2="350.5" stroke="#000" stroke-width="1"/>
<line x1="1077.80" y1="359.5" x2="1077.80" y2="355.0" stroke="#000" stroke-width="1"/>
<text x="161.48" y="376.8" class="dj" font-size="18" text-anchor="middle">06</text>
<text x="196.06" y="376.8" class="dj" font-size="18" text-anchor="middle">12</text>
<text x="230.63" y="376.8" class="dj" font-size="18" text-anchor="middle">18</text>
<text x="265.21" y="376.8" class="dj" font-size="18" text-anchor="middle">tor</text>
<text x="299.79" y="376.8" class="dj" font-size="18" text-anchor="middle">06</text>
<text x="334.37" y="376.8" class="dj" font-size="18" text-anchor="middle">12</text>
<text x="368.95" y="376.8" class="dj" font-size="18" text-anchor="middle">18</text>
<text x="403.52" y="376.8" class="dj" font-size="18" text-anchor="middle">sre</text>
<text x="438.10" y="376.8" class="dj" font-size="18" text-anchor="middle">06</text>
<text x="472.68" y="376.8" class="dj" font-size="18" text-anchor="middle">12</text>
<text x="507.26" y="376.8" class="dj" font-size="18" text-anchor="middle">18</text>
<text x="541.84" y="376.8" class="dj" font-size="18" text-anchor="middle">čet</text>
<text x="576.41" y="376.8" class="dj" font-size="18" text-anchor="middle">06</text>
<text x="610.99" y="376.8" class="dj" font-size="18" text-anchor="middle">12</text>
<text x="645.57" y="376.8" class="dj" font-size="18" text-anchor="middle">18</text>
<text x="680.15" y="376.8" class="dj" font-size="18" text-anchor="middle">pet</text>
<text x="714.73" y="376.8" class="dj" font-size="18" text-anchor="middle">06</text>
<text x="749.30" y="376.8" class="dj" font-size="18" text-anchor="middle">12</text>
<text x="783.88" y="376.8" class="dj" font-size="18" text-anchor="middle">18</text>
<text x="818.46" y="376.8" class="dj" font-size="18" text-anchor="middle">sob</text>
<text x="853.04" y="376.8" class="dj" font-size="18" text-anchor="middle">06</text>
<text x="887.62" y="376.8" class="dj" font-size="18" text-anchor="middle">12</text>
<text x="922.19" y="376.8" class="dj" font-size="18" text-anchor="middle">18</text>
<text x="956.77" y="376.8" class="dj" font-size="18" text-anchor="middle">ned</text>
<text x="991.35" y="376.8" class="dj" font-size="18" text-anchor="middle">06</text>
<text x="1025.93" y="376.8" class="dj" font-size="18" text-anchor="middle">12</text>
<text x="1060.51" y="376.8" class="dj" font-size="18" text-anchor="middle">18</text>
<text x="122.4" y="365.6" class="dj" font-size="18" text-anchor="end">0</text>
<text x="122.4" y="328.2" class="dj" font-size="18" text-anchor="end">1</text>
<text x="122.4" y="290.9" class="dj" font-size="18" text-anchor="end">2</text>
<text x="122.4" y="253.5" class="dj" font-size="18" text-anchor="end">3</text>
<text x="122.4" y="216.1" class="dj" font-size="18" text-anchor="end">4</text>
<text x="122.4" y="178.8" class="dj" font-size="18" text-anchor="end">5</text>
<text x="1099.5" y="365.6" class="dj" font-size="18">0</text>
<text x="1099.5" y="328.2" class="dj" font-size="18">1.5</text>
<text x="1099.5" y="290.9" class="dj" font-size="18">3.5</text>
<text x="1099.5" y="253.5" class="dj" font-size="18">6.0</text>
<text x="1099.5" y="216.1" class="dj" font-size="18">9.0</text>
<text x="1099.5" y="178.8" class="dj" font-size="18">14</text>
<text x="46" y="365.6" class="dj" font-size="18" fill="#ff0000">0</text>
<text x="46" y="328.2" class="dj" font-size="18" fill="#ff0000">5</text>
<text x="46" y="290.9" class="dj" font-size="18" fill="#ff0000">10</text>
<text x="46" y="253.5" class="dj" font-size="18" fill="#ff0000">15</text>
<text x="46" y="216.1" class="dj" font-size="18" fill="#ff0000">20</text>
<text x="46" y="178.8" class="dj" font-size="18" fill="#ff0000">25</text>
<text transform="translate(35.2,267.2) rotate(-90)" class="dj" font-size="19.3" fill="#ff0000" text-anchor="middle">Temperatura (°C)</text>
<text transform="translate(101.2,263.3) rotate(-90)" class="dj" font-size="19.3" text-anchor="middle">Padavine (mm/h)</text>
<text transform="translate(1145.8,254.2) rotate(-90)" class="dj" font-size="19.4" text-anchor="middle">Višina oblakov (km)</text>
<text x="196.06" y="69.3" class="dj" font-size="18" text-anchor="middle">ponedeljek</text>
<text x="196.06" y="90.1" class="dj" font-size="18" text-anchor="middle">27.10</text>
<text x="334.37" y="69.3" class="dj" font-size="18" text-anchor="middle">torek</text>
<text x="334.37" y="90.1" class="dj" font-size="18" text-anchor="middle">28.10</text>
<text x="472.68" y="69.3" class="dj" font-size="18" text-anchor="middle">sreda</text>
<text x="472.68" y="90.1" class="dj" font-size="18" text-anchor="middle">29.10</text>
<text x="610.99" y="69.3" class="dj" font-size="18" text-anchor="middle">četrtek</text>
<text x="610.99" y="90.1" class="dj" font-size="18" text-anchor="middle">30.10</text>
<text x="749.30" y="69.3" class="dj" font-size="18" text-anchor="middle">petek</text>
<text x="749.30" y="90.1" class="dj" font-size="18" text-anchor="middle">31.10</text>
<text x="887.62" y="69.3" class="dj" font-size="18" text-anchor="middle" fill="#cc0000">sobota</text>
<text x="887.62" y="90.1" class="dj" font-size="18" text-anchor="middle" fill="#cc0000">01.11</text>
<text x="1025.93" y="69.3" class="dj" font-size="18" text-anchor="middle" fill="#cc0000">nedelja</text>
<text x="1025.93" y="90.1" class="dj" font-size="18" text-anchor="middle" fill="#cc0000">02.11</text>
<rect x="127" y="390" width="32" height="11" fill="#0050ff"/>
<rect x="165" y="386.3" width="105" height="19.4" fill="#fff"/>
<text x="169" y="401.8" class="lib" font-size="19.6">Dež</text>
<rect x="278" y="390" width="32" height="11" fill="#11dcc8"/>
<rect x="310" y="386.3" width="110" height="19.4" fill="#fff"/>
<text x="318.8" y="401.8" class="lib" font-size="19.6">Možnost ploh</text>
<text x="585.3" y="401.7" class="lib" font-size="16" fill="#0000ff" text-anchor="middle">© vreme.us &amp; vreme.pro</text>
<rect x="758" y="386.3" width="182" height="19.4" fill="#fff"/>
<text x="759.3" y="401.3" class="lib" font-size="19.3">Gostota oblakov (%)</text>
<rect x="949.5" y="385.5" width="29" height="13" fill="#d3d3d3"/>
<rect x="978.5" y="385.5" width="29" height="13" fill="#b0b0b0"/>
<rect x="1007.5" y="385.5" width="29" height="13" fill="#8f8f8f"/>
<rect x="1036.5" y="385.5" width="29" height="13" fill="#707070"/>
<rect x="1065.5" y="385.5" width="29" height="13" fill="#555555"/>
<rect x="949.5" y="385.5" width="145" height="13" fill="none" stroke="#000" stroke-width="1"/>
<text x="949.8" y="415" class="dj" font-size="16" text-anchor="middle">10</text>
<text x="978.9" y="415" class="dj" font-size="16" text-anchor="middle">25</text>
<text x="1008.0" y="415" class="dj" font-size="16" text-anchor="middle">50</text>
<text x="1037.1" y="415" class="dj" font-size="16" text-anchor="middle">75</text>
<text x="1066.2" y="415" class="dj" font-size="16" text-anchor="middle">90</text>
<text x="1095.3" y="415" class="dj" font-size="16" text-anchor="middle">100</text>
<g><defs><g id="icA"><path d="M1.40,-12.70 A12.4,12.4 0 1 0 1.40,11.70 A15.4,15.4 0 0 1 1.40,-12.70 Z" fill="#fff" stroke="#000" stroke-width="1.65" stroke-linejoin="round"/><path d="M-2.88,10.27 L-1.41,9.89 L-0.38,10.20 L0.44,10.17 L1.19,9.85 L2.10,9.04 L4.37,8.64 L4.88,8.83 L5.74,9.89 L6.20,10.27 L6.73,10.56 L7.80,10.84 L8.40,10.85 L8.99,10.75 L9.63,10.52 L10.22,10.17 L10.72,9.71 L11.13,9.16 L11.42,8.54 L11.59,7.88 L11.62,7.20 L11.52,6.52 L11.33,5.96 L11.04,5.43 L10.66,4.97 L10.22,4.57 L9.31,4.09 L7.95,3.84 L7.57,3.60 L7.37,3.29 L7.10,2.26 L6.68,1.37 L6.10,0.58 L5.27,-0.15 L4.41,-0.63 L3.36,-0.97 L2.26,-1.06 L1.16,-0.91 L0.02,-0.47 L-0.90,0.15 L-1.57,0.86 L-2.23,1.92 L-2.48,2.15 L-2.90,2.29 L-3.77,2.28 L-4.45,2.39 L-5.19,2.65 L-5.79,3.00 L-6.32,3.44 L-6.76,3.97 L-7.11,4.57 L-7.35,5.22 L-7.49,6.39 L-7.32,7.46 L-6.87,8.44 L-6.10,9.34 L-5.19,9.93 L-4.06,10.27 L-2.88,10.27Z" fill="#d4d4d4" stroke="#2f5277" stroke-width="1.85" stroke-linejoin="round"/><path d="M3.85,5.58 A3.42,3.42 0 0 1 6.44,3.12" fill="none" stroke="#2f5277" stroke-width="1.85" stroke-linecap="round"/><line x1="3.40" y1="13.60" x2="2.20" y2="18.80" stroke="#2f5277" stroke-width="2.3"/><line x1="7.90" y1="13.60" x2="6.70" y2="18.80" stroke="#2f5277" stroke-width="2.3"/></g><g id="icB"><polygon points="-3.67,-3.70 -9.88,-4.18 -10.12,-2.80 -4.12,-1.14" fill="#f4e628" stroke="#c8b41e" stroke-width="0.7" stroke-linejoin="round"/><polygon points="0.05,-7.68 -4.00,-12.41 -5.14,-11.61 -2.08,-6.19" fill="#f4e628" stroke="#c8b41e" stroke-width="0.7" stroke-linejoin="round"/><polygon points="5.50,-7.87 5.98,-14.08 4.60,-14.32 2.94,-8.32" fill="#f4e628" stroke="#c8b41e" stroke-width="0.7" stroke-linejoin="round"/><polygon points="9.48,-4.15 14.21,-8.20 13.41,-9.34 7.99,-6.28" fill="#f4e628" stroke="#c8b41e" stroke-width="0.7" stroke-linejoin="round"/><polygon points="9.67,1.30 15.88,1.78 16.12,0.40 10.12,-1.26" fill="#f4e628" stroke="#c8b41e" stroke-width="0.7" stroke-linejoin="round"/><polygon points="5.95,5.28 10.00,10.01 11.14,9.21 8.08,3.79" fill="#f4e628" stroke="#c8b41e" stroke-width="0.7" stroke-linejoin="round"/><polygon points="0.50,5.47 0.02,11.68 1.40,11.92 3.06,5.92" fill="#f4e628" stroke="#c8b41e" stroke-width="0.7" stroke-linejoin="round"/><polygon points="-3.48,1.75 -8.21,5.80 -7.41,6.94 -1.99,3.88" fill="#f4e628" stroke="#c8b41e" stroke-width="0.7" stroke-linejoin="round"/><circle cx="3.00" cy="-1.20" r="6.5" fill="#f4e628" stroke="#f2a52a" stroke-width="0.9"/><path d="M-9.94,12.28 L-9.42,12.21 L-8.25,12.56 L-7.44,12.51 L-6.57,12.14 L-5.57,11.25 L-4.33,11.09 L-3.09,10.82 L-2.59,11.00 L-1.57,12.25 L-1.03,12.66 L-0.51,12.93 L0.13,13.16 L0.81,13.26 L1.49,13.26 L2.16,13.13 L2.89,12.85 L3.55,12.43 L4.11,11.90 L4.56,11.26 L4.87,10.55 L5.05,9.79 L5.06,9.01 L4.93,8.24 L4.69,7.60 L4.35,7.01 L3.98,6.56 L3.47,6.11 L2.44,5.56 L1.78,5.38 L0.92,5.28 L0.54,5.04 L0.34,4.73 L-0.01,3.46 L-0.43,2.58 L-1.19,1.59 L-2.03,0.86 L-3.13,0.26 L-4.33,-0.09 L-5.58,-0.17 L-6.81,0.03 L-7.98,0.50 L-9.01,1.20 L-9.77,2.01 L-10.51,3.19 L-10.80,3.44 L-11.16,3.55 L-12.14,3.54 L-13.02,3.69 L-13.76,3.96 L-14.53,4.43 L-15.11,4.95 L-15.60,5.56 L-15.98,6.25 L-16.24,6.99 L-16.37,8.21 L-16.14,9.54 L-15.60,10.64 L-14.70,11.64 L-13.65,12.28 L-12.36,12.64 L-11.13,12.63 L-9.94,12.28Z" fill="#d4d4d4" stroke="#2b5dbd" stroke-width="1.85" stroke-linejoin="round"/><path d="M-3.67,7.32 A3.80,3.80 0 0 1 -0.79,4.58" fill="none" stroke="#2b5dbd" stroke-width="1.85" stroke-linecap="round"/></g><g id="icC"><path d="M3.89,-4.16 L3.67,-5.44 L3.08,-6.74 L2.25,-7.74 L1.21,-8.51 L-0.11,-9.04 L-1.40,-9.20 L-2.69,-9.04 L-3.90,-8.57 L-4.76,-8.00 L-5.50,-7.26 L-6.07,-6.40 L-6.47,-5.44 L-6.67,-4.42 L-6.67,-3.38 L-6.51,-2.49 L-6.06,-1.23 L-6.14,-0.84 L-6.40,-0.53 L-7.08,-0.21 L-7.49,-0.17 L-7.79,-0.29 L-8.76,-0.94 L-9.77,-1.36 L-10.85,-1.57 L-11.95,-1.57 L-13.03,-1.36 L-14.04,-0.94 L-14.95,-0.33 L-15.73,0.45 L-16.20,1.12 L-16.57,1.86 L-16.83,2.64 L-16.97,3.45 L-16.99,4.27 L-16.89,5.09 L-16.67,5.89 L-16.34,6.64 L-15.55,7.76 L-14.62,8.58 L-13.42,9.22 L-12.09,9.56 L-10.71,9.56 L-9.38,9.22 L-8.29,8.66 L-7.13,7.65 L-6.71,7.48 L-6.41,7.52 L-4.50,8.15 L-2.56,8.53 L-0.52,8.69 L1.55,8.64 L3.55,8.36 L5.41,7.89 L7.03,7.23 L8.72,6.28 L10.06,6.54 L10.90,6.60 L11.87,6.52 L12.69,6.31 L13.46,5.99 L14.30,5.48 L15.03,4.83 L15.56,4.18 L16.11,3.21 L16.46,2.15 L16.60,1.04 L16.52,-0.07 L16.22,-1.15 L15.72,-2.15 L15.03,-3.03 L14.18,-3.76 L12.95,-4.42 L11.74,-4.74 L10.48,-4.78 L9.25,-4.55 L8.21,-4.13 L7.28,-3.51 L6.41,-2.61 L5.60,-1.31 L5.27,-1.09 L4.95,-1.04 L4.00,-1.31 L3.65,-1.71 L3.60,-2.09 L3.84,-3.12 L3.89,-4.16Z" fill="#d4d4d4" stroke="#2f5277" stroke-width="1.6" stroke-linejoin="round"/><path d="M-2.00,10.34 L-1.49,10.28 L-0.27,10.64 L0.59,10.59 L1.51,10.20 L2.54,9.28 L3.82,9.11 L5.10,8.83 L5.60,9.01 L6.66,10.30 L7.15,10.68 L7.77,11.03 L8.45,11.26 L9.16,11.37 L9.87,11.36 L10.58,11.23 L11.34,10.94 L12.03,10.50 L12.62,9.94 L13.09,9.27 L13.42,8.52 L13.60,7.72 L13.62,6.91 L13.48,6.10 L13.23,5.43 L12.93,4.89 L12.48,4.34 L11.95,3.86 L10.87,3.28 L10.18,3.10 L9.29,3.00 L8.90,2.75 L8.71,2.44 L8.35,1.12 L7.90,0.21 L7.11,-0.84 L6.23,-1.60 L5.08,-2.23 L3.82,-2.59 L2.52,-2.67 L1.22,-2.46 L0.01,-1.98 L-1.07,-1.24 L-1.87,-0.39 L-2.63,0.83 L-2.89,1.06 L-3.30,1.20 L-4.30,1.18 L-5.23,1.34 L-6.00,1.63 L-6.81,2.11 L-7.42,2.66 L-7.94,3.30 L-8.34,4.02 L-8.60,4.80 L-8.72,5.49 L-8.74,6.20 L-8.50,7.47 L-7.94,8.63 L-7.50,9.18 L-6.99,9.67 L-6.42,10.08 L-5.79,10.39 L-4.54,10.72 L-3.25,10.71 L-2.00,10.34Z" fill="#ffffff" stroke="#2f5277" stroke-width="1.85" stroke-linejoin="round"/><path d="M4.50,5.15 A3.95,3.95 0 0 1 7.50,2.31" fill="none" stroke="#2f5277" stroke-width="1.85" stroke-linecap="round"/><line x1="-3.00" y1="14.30" x2="-4.20" y2="19.20" stroke="#2f5277" stroke-width="2.3"/><line x1="1.50" y1="14.30" x2="0.30" y2="19.20" stroke="#2f5277" stroke-width="2.3"/></g><g id="icD"><path d="M3.70,-12.90 A12.4,12.4 0 1 0 3.70,11.50 A15.4,15.4 0 0 1 3.70,-12.90 Z" fill="#fff" stroke="#000" stroke-width="1.65" stroke-linejoin="round"/><path d="M-0.71,9.84 L0.56,9.51 L1.45,9.78 L2.08,9.75 L2.70,9.48 L3.45,8.81 L5.44,8.46 L5.95,8.65 L6.69,9.56 L7.42,10.06 L8.34,10.31 L9.30,10.24 L9.81,10.06 L10.28,9.78 L10.69,9.41 L11.02,8.97 L11.25,8.47 L11.38,7.94 L11.41,7.39 L11.33,6.85 L10.94,5.97 L10.28,5.28 L9.56,4.89 L8.41,4.69 L8.03,4.44 L7.83,4.13 L7.60,3.26 L7.26,2.54 L6.71,1.82 L6.11,1.30 L5.32,0.86 L4.55,0.63 L3.65,0.55 L2.76,0.67 L1.82,1.03 L1.08,1.54 L0.47,2.20 L-0.03,3.02 L-0.32,3.27 L-0.68,3.38 L-1.43,3.37 L-1.98,3.46 L-2.58,3.67 L-3.06,3.95 L-3.85,4.74 L-4.30,5.67 L-4.44,6.62 L-4.30,7.56 L-3.89,8.42 L-3.31,9.08 L-2.51,9.59 L-1.67,9.84 L-0.71,9.84Z" fill="#d4d4d4" stroke="#2f5277" stroke-width="1.85" stroke-linejoin="round"/><path d="M4.99,6.02 A2.89,2.89 0 0 1 7.18,3.94" fill="none" stroke="#2f5277" stroke-width="1.85" stroke-linecap="round"/></g><g id="icE"><polygon points="-8.57,-3.40 -14.78,-3.88 -15.02,-2.50 -9.02,-0.84" fill="#f4e628" stroke="#c8b41e" stroke-width="0.7" stroke-linejoin="round"/><polygon points="-4.85,-7.38 -8.90,-12.11 -10.04,-11.31 -6.98,-5.89" fill="#f4e628" stroke="#c8b41e" stroke-width="0.7" stroke-linejoin="round"/><polygon points="0.60,-7.57 1.08,-13.78 -0.30,-14.02 -1.96,-8.02" fill="#f4e628" stroke="#c8b41e" stroke-width="0.7" stroke-linejoin="round"/><polygon points="4.58,-3.85 9.31,-7.90 8.51,-9.04 3.09,-5.98" fill="#f4e628" stroke="#c8b41e" stroke-width="0.7" stroke-linejoin="round"/><polygon points="4.77,1.60 10.98,2.08 11.22,0.70 5.22,-0.96" fill="#f4e628" stroke="#c8b41e" stroke-width="0.7" stroke-linejoin="round"/><polygon points="1.05,5.58 5.10,10.31 6.24,9.51 3.18,4.09" fill="#f4e628" stroke="#c8b41e" stroke-width="0.7" stroke-linejoin="round"/><polygon points="-4.40,5.77 -4.88,11.98 -3.50,12.22 -1.84,6.22" fill="#f4e628" stroke="#c8b41e" stroke-width="0.7" stroke-linejoin="round"/><polygon points="-8.38,2.05 -13.11,6.10 -12.31,7.24 -6.89,4.18" fill="#f4e628" stroke="#c8b41e" stroke-width="0.7" stroke-linejoin="round"/><circle cx="-1.90" cy="-0.90" r="6.5" fill="#f4e628" stroke="#f2a52a" stroke-width="0.9"/><path d="M1.62,10.17 L2.95,9.83 L3.87,10.10 L4.56,10.08 L5.19,9.81 L6.02,9.08 L8.09,8.72 L8.59,8.91 L9.36,9.86 L10.15,10.40 L11.14,10.67 L12.16,10.60 L12.71,10.40 L13.21,10.10 L13.65,9.70 L14.00,9.23 L14.25,8.70 L14.39,8.13 L14.42,7.54 L14.34,6.96 L13.92,6.03 L13.21,5.28 L12.44,4.87 L11.23,4.65 L10.85,4.41 L10.65,4.10 L10.41,3.18 L10.05,2.41 L9.54,1.73 L8.82,1.09 L8.07,0.67 L7.16,0.38 L6.20,0.30 L5.25,0.43 L4.26,0.81 L3.47,1.35 L2.88,1.97 L2.30,2.91 L2.04,3.14 L1.63,3.28 L0.85,3.26 L0.27,3.36 L-0.30,3.55 L-0.89,3.89 L-1.35,4.27 L-1.73,4.73 L-2.03,5.24 L-2.24,5.80 L-2.36,6.82 L-2.22,7.74 L-1.78,8.66 L-1.16,9.36 L-0.30,9.91 L0.60,10.17 L1.62,10.17Z" fill="#ffffff" stroke="#2b5dbd" stroke-width="1.85" stroke-linejoin="round"/><path d="M7.61,6.10 A3.04,3.04 0 0 1 9.92,3.92" fill="none" stroke="#2b5dbd" stroke-width="1.85" stroke-linecap="round"/></g><g id="icF"><path d="M0.60,-12.70 A12.4,12.4 0 1 0 0.60,11.70 A15.4,15.4 0 0 1 0.60,-12.70 Z" fill="#fff" stroke="#000" stroke-width="1.65" stroke-linejoin="round"/><path d="M-1.37,10.74 L-0.86,10.68 L-0.14,10.94 L0.40,11.05 L1.29,11.00 L2.24,10.59 L3.30,9.64 L4.61,9.48 L5.92,9.18 L6.43,9.37 L7.51,10.70 L8.10,11.14 L8.66,11.44 L9.36,11.68 L10.09,11.80 L10.84,11.79 L11.56,11.66 L12.35,11.35 L13.07,10.90 L13.68,10.32 L14.17,9.62 L14.51,8.85 L14.70,8.02 L14.72,7.18 L14.57,6.34 L14.32,5.65 L13.94,5.01 L13.47,4.44 L12.98,4.03 L11.87,3.43 L11.15,3.24 L10.24,3.13 L9.86,2.89 L9.66,2.58 L9.29,1.22 L8.83,0.27 L8.11,-0.69 L7.10,-1.59 L5.91,-2.24 L4.61,-2.62 L3.26,-2.70 L1.93,-2.48 L0.67,-1.98 L-0.44,-1.22 L-1.27,-0.35 L-2.06,0.92 L-2.35,1.17 L-2.71,1.28 L-3.76,1.27 L-4.71,1.43 L-5.62,1.78 L-6.35,2.23 L-6.98,2.79 L-7.52,3.46 L-7.93,4.20 L-8.20,5.01 L-8.35,6.33 L-8.28,7.06 L-8.10,7.77 L-7.52,8.97 L-7.07,9.54 L-6.54,10.05 L-5.40,10.75 L-4.71,10.99 L-4.00,11.13 L-2.66,11.12 L-1.37,10.74Z" fill="#d4d4d4" stroke="#2f5277" stroke-width="1.85" stroke-linejoin="round"/><path d="M5.31,5.37 A4.07,4.07 0 0 1 8.39,2.45" fill="none" stroke="#2f5277" stroke-width="1.85" stroke-linecap="round"/></g><g id="icG"><path d="M3.89,-4.16 L3.67,-5.44 L3.08,-6.74 L2.25,-7.74 L1.21,-8.51 L-0.11,-9.04 L-1.40,-9.20 L-2.69,-9.04 L-3.90,-8.57 L-4.76,-8.00 L-5.50,-7.26 L-6.07,-6.40 L-6.47,-5.44 L-6.67,-4.42 L-6.67,-3.38 L-6.51,-2.49 L-6.06,-1.23 L-6.14,-0.84 L-6.40,-0.53 L-7.08,-0.21 L-7.49,-0.17 L-7.79,-0.29 L-8.76,-0.94 L-9.77,-1.36 L-10.85,-1.57 L-11.95,-1.57 L-13.03,-1.36 L-14.04,-0.94 L-14.95,-0.33 L-15.73,0.45 L-16.20,1.12 L-16.57,1.86 L-16.83,2.64 L-16.97,3.45 L-16.99,4.27 L-16.89,5.09 L-16.67,5.89 L-16.34,6.64 L-15.55,7.76 L-14.62,8.58 L-13.42,9.22 L-12.09,9.56 L-10.71,9.56 L-9.38,9.22 L-8.29,8.66 L-7.13,7.65 L-6.71,7.48 L-6.41,7.52 L-4.50,8.15 L-2.56,8.53 L-0.52,8.69 L1.55,8.64 L3.55,8.36 L5.41,7.89 L7.03,7.23 L8.72,6.28 L10.06,6.54 L10.90,6.60 L11.87,6.52 L12.69,6.31 L13.46,5.99 L14.30,5.48 L15.03,4.83 L15.56,4.18 L16.11,3.21 L16.46,2.15 L16.60,1.04 L16.52,-0.07 L16.22,-1.15 L15.72,-2.15 L15.03,-3.03 L14.18,-3.76 L12.95,-4.42 L11.74,-4.74 L10.48,-4.78 L9.25,-4.55 L8.21,-4.13 L7.28,-3.51 L6.41,-2.61 L5.60,-1.31 L5.27,-1.09 L4.95,-1.04 L4.00,-1.31 L3.65,-1.71 L3.60,-2.09 L3.84,-3.12 L3.89,-4.16Z" fill="#d4d4d4" stroke="#2f5277" stroke-width="1.6" stroke-linejoin="round"/><path d="M-2.00,10.34 L-1.49,10.28 L-0.27,10.64 L0.59,10.59 L1.51,10.20 L2.54,9.28 L3.82,9.11 L5.10,8.83 L5.60,9.01 L6.66,10.30 L7.15,10.68 L7.77,11.03 L8.45,11.26 L9.16,11.37 L9.87,11.36 L10.58,11.23 L11.34,10.94 L12.03,10.50 L12.62,9.94 L13.09,9.27 L13.42,8.52 L13.60,7.72 L13.62,6.91 L13.48,6.10 L13.23,5.43 L12.93,4.89 L12.48,4.34 L11.95,3.86 L10.87,3.28 L10.18,3.10 L9.29,3.00 L8.90,2.75 L8.71,2.44 L8.35,1.12 L7.90,0.21 L7.11,-0.84 L6.23,-1.60 L5.08,-2.23 L3.82,-2.59 L2.52,-2.67 L1.22,-2.46 L0.01,-1.98 L-1.07,-1.24 L-1.87,-0.39 L-2.63,0.83 L-2.89,1.06 L-3.30,1.20 L-4.30,1.18 L-5.23,1.34 L-6.00,1.63 L-6.81,2.11 L-7.42,2.66 L-7.94,3.30 L-8.34,4.02 L-8.60,4.80 L-8.72,5.49 L-8.74,6.20 L-8.50,7.47 L-7.94,8.63 L-7.50,9.18 L-6.99,9.67 L-6.42,10.08 L-5.79,10.39 L-4.54,10.72 L-3.25,10.71 L-2.00,10.34Z" fill="#ffffff" stroke="#2f5277" stroke-width="1.85" stroke-linejoin="round"/><path d="M4.50,5.15 A3.95,3.95 0 0 1 7.50,2.31" fill="none" stroke="#2f5277" stroke-width="1.85" stroke-linecap="round"/></g><g id="icH"><path d="M3.89,-4.16 L3.67,-5.44 L3.08,-6.74 L2.25,-7.74 L1.21,-8.51 L-0.11,-9.04 L-1.40,-9.20 L-2.69,-9.04 L-3.90,-8.57 L-4.76,-8.00 L-5.50,-7.26 L-6.07,-6.40 L-6.47,-5.44 L-6.67,-4.42 L-6.67,-3.38 L-6.51,-2.49 L-6.06,-1.23 L-6.14,-0.84 L-6.40,-0.53 L-7.08,-0.21 L-7.49,-0.17 L-7.79,-0.29 L-8.76,-0.94 L-9.77,-1.36 L-10.85,-1.57 L-11.95,-1.57 L-13.03,-1.36 L-14.04,-0.94 L-14.95,-0.33 L-15.73,0.45 L-16.20,1.12 L-16.57,1.86 L-16.83,2.64 L-16.97,3.45 L-16.99,4.27 L-16.89,5.09 L-16.67,5.89 L-16.34,6.64 L-15.55,7.76 L-14.62,8.58 L-13.42,9.22 L-12.09,9.56 L-10.71,9.56 L-9.38,9.22 L-8.29,8.66 L-7.13,7.65 L-6.71,7.48 L-6.41,7.52 L-4.50,8.15 L-2.56,8.53 L-0.52,8.69 L1.55,8.64 L3.55,8.36 L5.41,7.89 L7.03,7.23 L8.72,6.28 L10.06,6.54 L10.90,6.60 L11.87,6.52 L12.69,6.31 L13.46,5.99 L14.30,5.48 L15.03,4.83 L15.56,4.18 L16.11,3.21 L16.46,2.15 L16.60,1.04 L16.52,-0.07 L16.22,-1.15 L15.72,-2.15 L15.03,-3.03 L14.18,-3.76 L12.95,-4.42 L11.74,-4.74 L10.48,-4.78 L9.25,-4.55 L8.21,-4.13 L7.28,-3.51 L6.41,-2.61 L5.60,-1.31 L5.27,-1.09 L4.95,-1.04 L4.00,-1.31 L3.65,-1.71 L3.60,-2.09 L3.84,-3.12 L3.89,-4.16Z" fill="#d4d4d4" stroke="#2b5dbd" stroke-width="1.6" stroke-linejoin="round"/><path d="M-2.00,10.34 L-1.49,10.28 L-0.27,10.64 L0.59,10.59 L1.51,10.20 L2.54,9.28 L3.82,9.11 L5.10,8.83 L5.60,9.01 L6.66,10.30 L7.15,10.68 L7.77,11.03 L8.45,11.26 L9.16,11.37 L9.87,11.36 L10.58,11.23 L11.34,10.94 L12.03,10.50 L12.62,9.94 L13.09,9.27 L13.42,8.52 L13.60,7.72 L13.62,6.91 L13.48,6.10 L13.23,5.43 L12.93,4.89 L12.48,4.34 L11.95,3.86 L10.87,3.28 L10.18,3.10 L9.29,3.00 L8.90,2.75 L8.71,2.44 L8.35,1.12 L7.90,0.21 L7.11,-0.84 L6.23,-1.60 L5.08,-2.23 L3.82,-2.59 L2.52,-2.67 L1.22,-2.46 L0.01,-1.98 L-1.07,-1.24 L-1.87,-0.39 L-2.63,0.83 L-2.89,1.06 L-3.30,1.20 L-4.30,1.18 L-5.23,1.34 L-6.00,1.63 L-6.81,2.11 L-7.42,2.66 L-7.94,3.30 L-8.34,4.02 L-8.60,4.80 L-8.72,5.49 L-8.74,6.20 L-8.50,7.47 L-7.94,8.63 L-7.50,9.18 L-6.99,9.67 L-6.42,10.08 L-5.79,10.39 L-4.54,10.72 L-3.25,10.71 L-2.00,10.34Z" fill="#ffffff" stroke="#2b5dbd" stroke-width="1.85" stroke-linejoin="round"/><path d="M4.50,5.15 A3.95,3.95 0 0 1 7.50,2.31" fill="none" stroke="#2b5dbd" stroke-width="1.85" stroke-linecap="round"/></g><g id="icI"><polygon points="-1.67,-3.50 -7.88,-3.98 -8.12,-2.60 -2.12,-0.94" fill="#f4e628" stroke="#c8b41e" stroke-width="0.7" stroke-linejoin="round"/><polygon points="2.05,-7.48 -2.00,-12.21 -3.14,-11.41 -0.08,-5.99" fill="#f4e628" stroke="#c8b41e" stroke-width="0.7" stroke-linejoin="round"/><polygon points="7.50,-7.67 7.98,-13.88 6.60,-14.12 4.94,-8.12" fill="#f4e628" stroke="#c8b41e" stroke-width="0.7" stroke-linejoin="round"/><polygon points="11.48,-3.95 16.21,-8.00 15.41,-9.14 9.99,-6.08" fill="#f4e628" stroke="#c8b41e" stroke-width="0.7" stroke-linejoin="round"/><polygon points="11.67,1.50 17.88,1.98 18.12,0.60 12.12,-1.06" fill="#f4e628" stroke="#c8b41e" stroke-width="0.7" stroke-linejoin="round"/><polygon points="7.95,5.48 12.00,10.21 13.14,9.41 10.08,3.99" fill="#f4e628" stroke="#c8b41e" stroke-width="0.7" stroke-linejoin="round"/><polygon points="2.50,5.67 2.02,11.88 3.40,12.12 5.06,6.12" fill="#f4e628" stroke="#c8b41e" stroke-width="0.7" stroke-linejoin="round"/><polygon points="-1.48,1.95 -6.21,6.00 -5.41,7.14 0.01,4.08" fill="#f4e628" stroke="#c8b41e" stroke-width="0.7" stroke-linejoin="round"/><circle cx="5.00" cy="-1.00" r="6.5" fill="#f4e628" stroke="#f2a52a" stroke-width="0.9"/><path d="M-7.99,12.38 L-7.47,12.31 L-6.30,12.66 L-5.49,12.61 L-4.62,12.24 L-3.62,11.35 L-2.38,11.19 L-1.14,10.92 L-0.64,11.10 L0.38,12.35 L0.84,12.71 L1.44,13.03 L2.08,13.26 L2.76,13.36 L3.44,13.36 L4.11,13.23 L4.84,12.95 L5.50,12.53 L6.06,12.00 L6.51,11.36 L6.82,10.65 L7.00,9.89 L7.01,9.11 L6.88,8.34 L6.64,7.70 L6.30,7.11 L5.93,6.66 L5.42,6.21 L4.39,5.66 L3.73,5.48 L2.87,5.38 L2.49,5.14 L2.29,4.83 L1.94,3.56 L1.52,2.68 L0.76,1.69 L-0.08,0.96 L-1.18,0.36 L-2.38,0.01 L-3.63,-0.07 L-4.86,0.13 L-6.03,0.60 L-7.06,1.30 L-7.82,2.11 L-8.55,3.28 L-8.81,3.52 L-9.22,3.65 L-10.19,3.64 L-11.07,3.79 L-11.81,4.06 L-12.58,4.53 L-13.16,5.05 L-13.65,5.66 L-14.03,6.35 L-14.29,7.09 L-14.42,8.42 L-14.19,9.64 L-13.65,10.74 L-12.75,11.74 L-11.60,12.43 L-10.41,12.74 L-9.18,12.73 L-7.99,12.38Z" fill="#d4d4d4" stroke="#2b5dbd" stroke-width="1.85" stroke-linejoin="round"/><path d="M-1.72,7.42 A3.80,3.80 0 0 1 1.16,4.68" fill="none" stroke="#2b5dbd" stroke-width="1.85" stroke-linecap="round"/><line x1="-5.90" y1="15.20" x2="-7.00" y2="19.80" stroke="#2b5dbd" stroke-width="2.3"/><line x1="-1.80" y1="15.20" x2="-2.90" y2="19.80" stroke="#2b5dbd" stroke-width="2.3"/></g><g id="icJ"><path d="M7.50,-12.90 A12.4,12.4 0 1 0 7.50,11.50 A15.4,15.4 0 0 1 7.50,-12.90 Z" fill="#fff" stroke="#000" stroke-width="1.65" stroke-linejoin="round"/></g></defs><use href="#icA" x="144.19" y="114"/><use href="#icB" x="178.77" y="114"/><use href="#icB" x="213.34" y="114"/><use href="#icC" x="247.92" y="114"/><use href="#icD" x="282.50" y="114"/><use href="#icE" x="317.08" y="114"/><use href="#icE" x="351.66" y="114"/><use href="#icF" x="386.24" y="114"/><use href="#icD" x="420.81" y="114"/><use href="#icE" x="455.39" y="114"/><use href="#icE" x="489.97" y="114"/><use href="#icF" x="524.55" y="114"/><use href="#icG" x="559.12" y="114"/><use href="#icH" x="593.70" y="114"/><use href="#icI" x="628.28" y="114"/><use href="#icA" x="662.86" y="114"/><use href="#icD" x="697.44" y="114"/><use href="#icE" x="732.01" y="114"/><use href="#icE" x="766.59" y="114"/><use href="#icD" x="801.17" y="114"/><use href="#icD" x="835.75" y="114"/><use href="#icE" x="870.33" y="114"/><use href="#icE" x="904.90" y="114"/><use href="#icJ" x="939.48" y="114"/><use href="#icJ" x="974.06" y="114"/><use href="#icE" x="1008.64" y="114"/><use href="#icB" x="1043.22" y="114"/><use href="#icF" x="1077.80" y="114"/></g>
<g><circle cx="126.90" cy="153.0" r="3.85" fill="none" stroke="#000" stroke-width="1.6"/><circle cx="144.19" cy="153.0" r="3.85" fill="none" stroke="#000" stroke-width="1.6"/><circle cx="161.48" cy="153.0" r="3.85" fill="none" stroke="#000" stroke-width="1.6"/><path d="M188.68,145.80 L168.86,160.20 M172.25,157.73 L167.96,154.13" fill="none" stroke="#000" stroke-width="1.9" stroke-linecap="butt"/><path d="M202.18,142.39 L189.93,163.61 M192.03,159.97 L186.65,158.43" fill="none" stroke="#000" stroke-width="1.9" stroke-linecap="butt"/><path d="M222.87,145.29 L203.82,160.71 M207.09,158.07 L202.62,154.70" fill="none" stroke="#000" stroke-width="1.9" stroke-linecap="butt"/><path d="M242.35,149.42 L218.92,156.58 M222.94,155.35 L220.05,150.55" fill="none" stroke="#000" stroke-width="1.9" stroke-linecap="butt"/><path d="M258.84,147.44 L237.01,158.56 M240.75,156.65 L237.08,152.43" fill="none" stroke="#000" stroke-width="1.9" stroke-linecap="butt"/><path d="M277.45,153.43 L252.97,152.57 M257.17,152.72 L256.00,147.24" fill="none" stroke="#000" stroke-width="1.9" stroke-linecap="butt"/><path d="M292.41,160.20 L272.59,145.80 M275.99,148.27 L278.09,143.08" fill="none" stroke="#000" stroke-width="1.9" stroke-linecap="butt"/><path d="M299.79,165.25 L299.79,140.75 M299.79,144.95 L305.22,143.60" fill="none" stroke="#000" stroke-width="1.9" stroke-linecap="butt"/><circle cx="317.08" cy="153.0" r="3.85" fill="none" stroke="#000" stroke-width="1.6"/><path d="M340.12,142.18 L328.62,163.82 M330.59,160.11 L325.16,158.75" fill="none" stroke="#000" stroke-width="1.9" stroke-linecap="butt"/><path d="M357.03,141.99 L346.29,164.01 M348.13,160.24 L342.65,159.07" fill="none" stroke="#000" stroke-width="1.9" stroke-linecap="butt"/><path d="M380.93,155.55 L356.96,150.45 M361.07,151.33 L360.88,145.73" fill="none" stroke="#000" stroke-width="1.9" stroke-linecap="butt"/><path d="M398.46,152.15 L374.01,153.85 M378.20,153.56 L376.47,148.24" fill="none" stroke="#000" stroke-width="1.9" stroke-linecap="butt"/><path d="M415.76,153.64 L391.29,152.36 M395.49,152.58 L394.42,147.08" fill="none" stroke="#000" stroke-width="1.9" stroke-linecap="butt"/><path d="M433.06,153.00 L408.56,153.00 M412.76,153.00 L411.41,147.57" fill="none" stroke="#000" stroke-width="1.9" stroke-linecap="butt"/><path d="M450.32,152.15 L425.88,153.85 M430.07,153.56 L428.34,148.24" fill="none" stroke="#000" stroke-width="1.9" stroke-linecap="butt"/><path d="M466.67,148.21 L444.11,157.79 M447.98,156.15 L444.61,151.67" fill="none" stroke="#000" stroke-width="1.9" stroke-linecap="butt"/><path d="M482.46,145.63 L462.90,160.37 M466.25,157.84 L461.90,154.32" fill="none" stroke="#000" stroke-width="1.9" stroke-linecap="butt"/><path d="M500.24,146.33 L479.70,159.67 M483.22,157.38 L479.12,153.57" fill="none" stroke="#000" stroke-width="1.9" stroke-linecap="butt"/><path d="M517.87,146.88 L496.65,159.12 M500.29,157.03 L496.40,153.00" fill="none" stroke="#000" stroke-width="1.9" stroke-linecap="butt"/><path d="M534.07,145.29 L515.03,160.71 M518.29,158.07 L513.82,154.70" fill="none" stroke="#000" stroke-width="1.9" stroke-linecap="butt"/><path d="M550.94,144.80 L532.73,161.20 M535.85,158.39 L531.21,155.26" fill="none" stroke="#000" stroke-width="1.9" stroke-linecap="butt"/><path d="M568.23,144.80 L550.02,161.20 M553.14,158.39 L548.50,155.26" fill="none" stroke="#000" stroke-width="1.9" stroke-linecap="butt"/><path d="M585.66,144.96 L567.17,161.04 M570.34,158.28 L565.75,155.07" fill="none" stroke="#000" stroke-width="1.9" stroke-linecap="butt"/><path d="M601.24,143.35 L586.16,162.65 M588.75,159.34 L583.63,157.07" fill="none" stroke="#000" stroke-width="1.9" stroke-linecap="butt"/><path d="M619.35,144.04 L602.64,161.96 M605.50,158.89 L600.60,156.17" fill="none" stroke="#000" stroke-width="1.9" stroke-linecap="butt"/><path d="M637.38,144.80 L619.18,161.20 M622.30,158.39 L617.66,155.26" fill="none" stroke="#000" stroke-width="1.9" stroke-linecap="butt"/><path d="M654.82,144.96 L636.32,161.04 M639.49,158.28 L634.91,155.07" fill="none" stroke="#000" stroke-width="1.9" stroke-linecap="butt"/><path d="M673.47,146.88 L652.25,159.12 M655.89,157.03 L652.00,153.00" fill="none" stroke="#000" stroke-width="1.9" stroke-linecap="butt"/><path d="M691.06,147.44 L669.23,158.56 M672.98,156.65 L669.30,152.43" fill="none" stroke="#000" stroke-width="1.9" stroke-linecap="butt"/><path d="M707.59,146.15 L687.28,159.85 M690.76,157.50 L686.60,153.75" fill="none" stroke="#000" stroke-width="1.9" stroke-linecap="butt"/><path d="M725.33,146.88 L704.12,159.12 M707.75,157.03 L703.86,153.00" fill="none" stroke="#000" stroke-width="1.9" stroke-linecap="butt"/><path d="M740.97,144.65 L723.06,161.35 M726.13,158.49 L721.43,155.44" fill="none" stroke="#000" stroke-width="1.9" stroke-linecap="butt"/><path d="M758.55,144.96 L740.06,161.04 M743.23,158.28 L738.64,155.07" fill="none" stroke="#000" stroke-width="1.9" stroke-linecap="butt"/><path d="M776.50,145.80 L756.68,160.20 M760.08,157.73 L755.79,154.13" fill="none" stroke="#000" stroke-width="1.9" stroke-linecap="butt"/><path d="M794.49,146.88 L773.27,159.12 M776.91,157.03 L773.02,153.00" fill="none" stroke="#000" stroke-width="1.9" stroke-linecap="butt"/><path d="M811.78,146.88 L790.56,159.12 M794.20,157.03 L790.31,153.00" fill="none" stroke="#000" stroke-width="1.9" stroke-linecap="butt"/><path d="M830.48,155.34 L806.44,150.66 M810.56,151.46 L810.26,145.87" fill="none" stroke="#000" stroke-width="1.9" stroke-linecap="butt"/><circle cx="835.75" cy="153.0" r="3.85" fill="none" stroke="#000" stroke-width="1.6"/><circle cx="853.04" cy="153.0" r="3.85" fill="none" stroke="#000" stroke-width="1.6"/><path d="M878.04,143.48 L862.62,162.52 M865.26,159.26 L860.19,156.89" fill="none" stroke="#000" stroke-width="1.9" stroke-linecap="butt"/><path d="M893.93,142.50 L881.31,163.50 M883.47,159.90 L878.11,158.26" fill="none" stroke="#000" stroke-width="1.9" stroke-linecap="butt"/><path d="M912.45,143.35 L897.36,162.65 M899.95,159.34 L894.83,157.07" fill="none" stroke="#000" stroke-width="1.9" stroke-linecap="butt"/><path d="M930.70,144.19 L913.68,161.81 M916.60,158.79 L911.75,155.99" fill="none" stroke="#000" stroke-width="1.9" stroke-linecap="butt"/><path d="M947.19,143.48 L931.77,162.52 M934.42,159.26 L929.34,156.89" fill="none" stroke="#000" stroke-width="1.9" stroke-linecap="butt"/><path d="M963.08,142.50 L950.46,163.50 M952.63,159.90 L947.27,158.26" fill="none" stroke="#000" stroke-width="1.9" stroke-linecap="butt"/><path d="M980.55,142.61 L967.57,163.39 M969.80,159.83 L964.47,158.10" fill="none" stroke="#000" stroke-width="1.9" stroke-linecap="butt"/><path d="M997.47,142.39 L985.22,163.61 M987.32,159.97 L981.94,158.43" fill="none" stroke="#000" stroke-width="1.9" stroke-linecap="butt"/><path d="M1014.95,142.50 L1002.33,163.50 M1004.49,159.90 L999.14,158.26" fill="none" stroke="#000" stroke-width="1.9" stroke-linecap="butt"/><path d="M1033.80,143.62 L1018.05,162.38 M1020.75,159.17 L1015.72,156.71" fill="none" stroke="#000" stroke-width="1.9" stroke-linecap="butt"/><path d="M1051.41,143.90 L1035.02,162.10 M1037.83,158.98 L1032.89,156.35" fill="none" stroke="#000" stroke-width="1.9" stroke-linecap="butt"/><path d="M1068.70,143.90 L1052.31,162.10 M1055.12,158.98 L1050.17,156.35" fill="none" stroke="#000" stroke-width="1.9" stroke-linecap="butt"/><path d="M1084.10,142.50 L1071.49,163.50 M1073.65,159.90 L1068.29,158.26" fill="none" stroke="#000" stroke-width="1.9" stroke-linecap="butt"/><path d="M1101.39,142.50 L1088.77,163.50 M1090.94,159.90 L1085.58,158.26" fill="none" stroke="#000" stroke-width="1.9" stroke-linecap="butt"/></g>
<line x1="220" y1="97.5" x2="220" y2="359.5" stroke="#111" stroke-width="2" stroke-dasharray="5.3 2.7" stroke-dashoffset="-1"/>
</svg>
<div class="hdr" style="left:10px;top:9px;font-size:16px;">(kraj lahko izberete v meniju)</div>
<div class="hdr" style="left:399px;top:17px;font-size:24px;">Zagreb 7 dni</div>
<div class="hdr" style="right:10px;top:9px;font-size:16px;">Zadnja posodobitev: 27.10.2025 - 16:09</div>
</body></html>
